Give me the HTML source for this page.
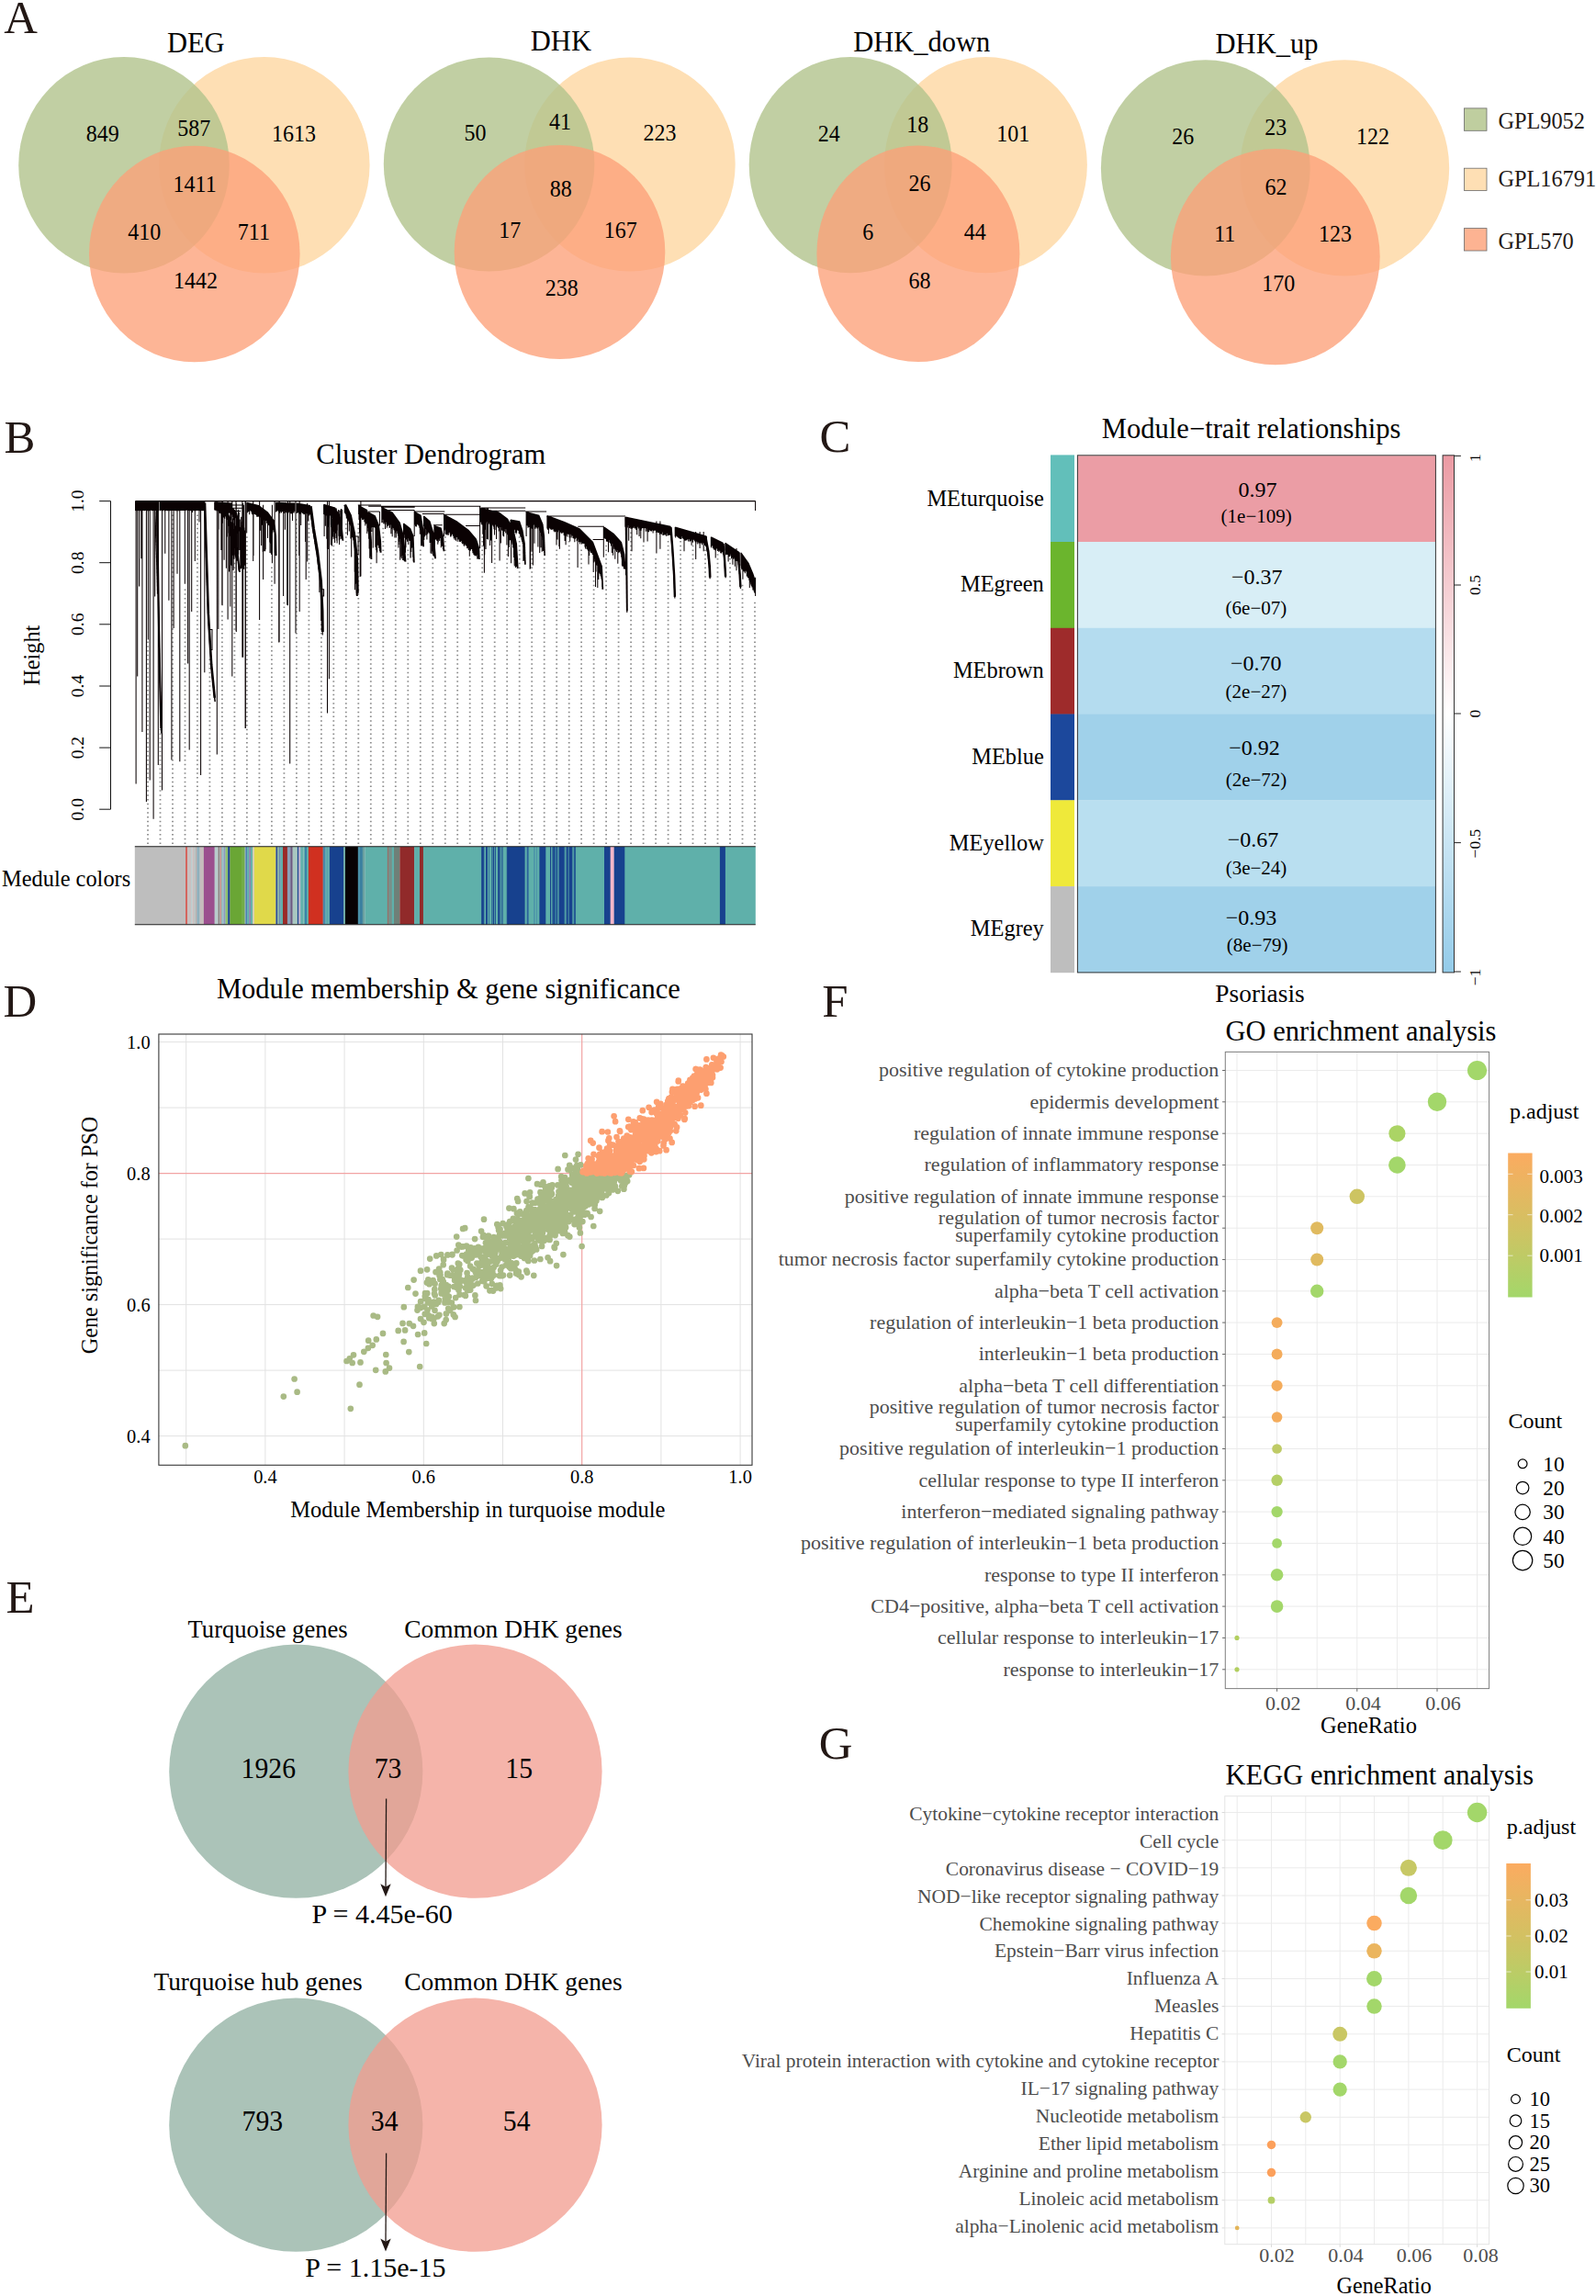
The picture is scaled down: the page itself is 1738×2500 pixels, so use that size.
<!DOCTYPE html>
<html><head><meta charset="utf-8"><title>Figure</title>
<style>
html,body{margin:0;padding:0;background:#fff}
svg{display:block}
text{font-family:"Liberation Serif",serif;white-space:pre}
</style></head><body>
<svg width="1738" height="2500" viewBox="0 0 1738 2500">
<rect width="1738" height="2500" fill="#fff"/>
<!-- panelA -->
<ellipse cx="287.8" cy="179.7" rx="114.8" ry="117.7" fill="#fedfb4"/>
<ellipse cx="135" cy="179.7" rx="114.8" ry="117.7" fill="#b2c38c" fill-opacity="0.8"/>
<ellipse cx="211.8" cy="276.5" rx="114.8" ry="117.7" fill="#fca078" fill-opacity="0.78"/>
<ellipse cx="685.9" cy="179" rx="114.8" ry="116.6" fill="#fedfb4"/>
<ellipse cx="532.6" cy="179" rx="114.8" ry="116.6" fill="#b2c38c" fill-opacity="0.8"/>
<ellipse cx="609.5" cy="274.5" rx="114.8" ry="116.6" fill="#fca078" fill-opacity="0.78"/>
<ellipse cx="1073.4" cy="179.6" rx="110.5" ry="117.7" fill="#fedfb4"/>
<ellipse cx="926.2" cy="179.6" rx="110.5" ry="117.7" fill="#b2c38c" fill-opacity="0.8"/>
<ellipse cx="999.9" cy="276.3" rx="110.5" ry="117.7" fill="#fca078" fill-opacity="0.78"/>
<ellipse cx="1464.3" cy="182.9" rx="113.9" ry="117.7" fill="#fedfb4"/>
<ellipse cx="1312.8" cy="182.9" rx="113.9" ry="117.7" fill="#b2c38c" fill-opacity="0.8"/>
<ellipse cx="1388.8" cy="279.6" rx="113.9" ry="117.7" fill="#fca078" fill-opacity="0.78"/>
<text x="213.3" y="56.6" font-size="30.5" text-anchor="middle">DEG</text>
<text x="610.9" y="54.7" font-size="30.5" text-anchor="middle">DHK</text>
<text x="1003.8" y="56" font-size="30.5" text-anchor="middle">DHK_down</text>
<text x="1379.5" y="57.9" font-size="30.5" text-anchor="middle">DHK_up</text>
<text transform="translate(111.7 153.9) scale(1 1.08)" font-size="24" text-anchor="middle">849</text>
<text transform="translate(211.2 147.9) scale(1 1.08)" font-size="24" text-anchor="middle">587</text>
<text transform="translate(319.9 153.9) scale(1 1.08)" font-size="24" text-anchor="middle">1613</text>
<text transform="translate(212.1 208.7) scale(1 1.08)" font-size="24" text-anchor="middle">1411</text>
<text transform="translate(157.2 260.5) scale(1 1.08)" font-size="24" text-anchor="middle">410</text>
<text transform="translate(276.4 260.5) scale(1 1.08)" font-size="24" text-anchor="middle">711</text>
<text transform="translate(213 313.9) scale(1 1.08)" font-size="24" text-anchor="middle">1442</text>
<text transform="translate(517.4 153.2) scale(1 1.08)" font-size="24" text-anchor="middle">50</text>
<text transform="translate(609.9 140.8) scale(1 1.08)" font-size="24" text-anchor="middle">41</text>
<text transform="translate(718.4 153.2) scale(1 1.08)" font-size="24" text-anchor="middle">223</text>
<text transform="translate(610.8 213.7) scale(1 1.08)" font-size="24" text-anchor="middle">88</text>
<text transform="translate(555.3 259.2) scale(1 1.08)" font-size="24" text-anchor="middle">17</text>
<text transform="translate(675.7 259.2) scale(1 1.08)" font-size="24" text-anchor="middle">167</text>
<text transform="translate(611.8 322.4) scale(1 1.08)" font-size="24" text-anchor="middle">238</text>
<text transform="translate(902.8 153.9) scale(1 1.08)" font-size="24" text-anchor="middle">24</text>
<text transform="translate(999.2 144.2) scale(1 1.08)" font-size="24" text-anchor="middle">18</text>
<text transform="translate(1103.2 153.9) scale(1 1.08)" font-size="24" text-anchor="middle">101</text>
<text transform="translate(1001.6 208.4) scale(1 1.08)" font-size="24" text-anchor="middle">26</text>
<text transform="translate(945.3 260.5) scale(1 1.08)" font-size="24" text-anchor="middle">6</text>
<text transform="translate(1061.8 260.5) scale(1 1.08)" font-size="24" text-anchor="middle">44</text>
<text transform="translate(1001.6 313.9) scale(1 1.08)" font-size="24" text-anchor="middle">68</text>
<text transform="translate(1288.2 157.1) scale(1 1.08)" font-size="24" text-anchor="middle">26</text>
<text transform="translate(1389.3 147.4) scale(1 1.08)" font-size="24" text-anchor="middle">23</text>
<text transform="translate(1494.9 157.1) scale(1 1.08)" font-size="24" text-anchor="middle">122</text>
<text transform="translate(1389.6 211.8) scale(1 1.08)" font-size="24" text-anchor="middle">62</text>
<text transform="translate(1333.7 263.2) scale(1 1.08)" font-size="24" text-anchor="middle">11</text>
<text transform="translate(1454.1 263.2) scale(1 1.08)" font-size="24" text-anchor="middle">123</text>
<text transform="translate(1392.2 317.1) scale(1 1.08)" font-size="24" text-anchor="middle">170</text>
<rect x="1594.4" y="117.9" width="24.6" height="24.4" fill="#bfce9f" stroke="#6b6b6b" stroke-width="0.8"/>
<text x="1631.4" y="140.1" font-size="24.3" fill="#231815">GPL9052</text>
<rect x="1594.4" y="183.2" width="24.6" height="24.4" fill="#fedfb4" stroke="#6b6b6b" stroke-width="0.8"/>
<text x="1631.4" y="202.6" font-size="24.3" fill="#231815">GPL16791</text>
<rect x="1594.4" y="248.6" width="24.6" height="24.4" fill="#fdb392" stroke="#6b6b6b" stroke-width="0.8"/>
<text x="1631.4" y="270.7" font-size="24.3" fill="#231815">GPL570</text>
<text x="4.3" y="35.8" font-size="50.8" fill="#231815">A</text>
<!-- panelB -->
<path d="M161 698.53V921M174.5 793.73V921M188 560.49V921M201.5 641.41V921M214.9 560.49V921M228.4 717.57V921M241.9 665.21V921M255.4 612.85V921M268.9 584.29V921M282.4 679.49V921M295.9 617.61V921M309.4 655.69V921M322.9 565.25V921M336.4 570.01V921M349.9 679.49V921M363.3 593.81V921M376.8 570.01V921M390.3 570.01V921M403.8 612.85V921M417.3 574.77V921M430.8 589.05V921M444.3 598.57V921M457.8 598.57V921M471.3 608.09V921M484.8 584.29V921M498.2 593.81V921M511.7 608.09V921M525.2 584.29V921M538.7 589.05V921M552.2 598.57V921M565.7 584.29V921M579.2 603.33V921M592.7 608.09V921M606.2 598.57V921M619.7 589.05V921M633.1 598.57V921M646.6 627.13V921M660.1 593.81V921M673.6 617.61V921M687.1 579.53V921M700.6 593.81V921M714.1 608.09V921M727.6 589.05V921M741.1 589.05V921M754.5 593.81V921M768 598.57V921M781.5 603.33V921M795 608.09V921M808.5 636.65V921M822 655.69V921" stroke="#8a8a8a" stroke-width="1.8" stroke-dasharray="1.5 3.26" fill="none"/>
<path d="M147.5 545.6H822.6M822.6 545.6V555.9M147.5 545.6V556M147.5 545.6V556.1M148 545.6V556.2M148.5 545.6V556.2M149 545.6V555.6M149.5 545.6V556.3M150 545.6V556.3M150.5 545.6V556M151 545.6V556M151.5 545.6V555.6M152 545.6V555.8M152.5 545.6V556.2M153 545.6V556.2M153.5 545.6V556.1M154 545.6V555.6M154.5 545.6V555.8M155 545.6V556.3M155.5 545.6V555.8M156 545.6V556M156.5 545.6V555.8M157 545.6V556.1M157.5 545.6V556.3M158 545.6V555.9M158.5 545.6V555.7M159 545.6V555.8M159.5 545.6V555.6M160 545.6V555.9M160.5 545.6V556.2M161 545.6V555.9M161.5 545.6V556.1M162 545.6V556.3M162.5 545.6V556.2M163 545.6V555.6M163.5 545.6V555.9M164 545.6V555.6M164.5 545.6V555.8M165 545.6V555.8M165.5 545.6V556.3M166 545.6V555.9M166.5 545.6V556M167 545.6V555.7M167.5 545.6V556.2M168 545.6V555.7M168.5 545.6V555.7M169 545.6V556.1M169.5 545.6V555.9M170 545.6V556M170.5 545.6V555.9M171 545.6V555.7M171.5 545.6V556.1M172 545.6V555.7M172.5 545.6V556.3M173 545.6V555.9M147.5 545.6L173.1 545.6M174.5 545.6V556.1M175 545.6V556M175.5 545.6V555.7M176 545.6V555.6M176.5 545.6V556.2M177 545.6V556.2M177.5 545.6V556.1M178 545.6V555.7M178.5 545.6V555.7M179 545.6V555.8M179.5 545.6V556.4M180 545.6V556.3M180.5 545.6V556M181 545.6V556M181.5 545.6V555.9M182 545.6V555.9M182.5 545.6V556.3M183 545.6V556M183.5 545.6V555.7M184 545.6V556.2M184.5 545.6V555.9M185 545.6V556.2M185.5 545.6V556.1M186 545.6V555.9M186.5 545.6V555.8M187 545.6V556.2M187.5 545.6V555.8M188 545.6V556.1M188.5 545.6V555.6M189 545.6V555.8M189.5 545.6V556M190 545.6V556.1M190.5 545.6V555.9M191 545.6V556.2M191.5 545.6V555.9M192 545.6V556.3M192.5 545.6V556.3M193 545.6V556M193.5 545.6V555.7M194 545.6V556.3M194.5 545.6V556.1M195 545.6V556.2M195.5 545.6V556.2M196 545.6V556.1M196.5 545.6V556.1M197 545.6V556.1M197.5 545.6V555.6M198 545.6V555.9M198.5 545.6V555.8M199 545.6V556.1M199.5 545.6V556M200 545.6V555.7M200.5 545.6V555.9M201 545.6V555.8M201.5 545.6V556M202 545.6V556.1M202.5 545.6V555.8M203 545.6V555.6M203.5 545.6V555.8M204 545.6V555.7M204.5 545.6V555.9M205 545.6V556.1M205.5 545.6V556M206 545.6V556M206.5 545.6V556.2M207 545.6V556.2M207.5 545.6V555.9M208 545.6V556.1M208.5 545.6V556.3M209 545.6V556.1M209.5 545.6V558.1M210 545.6V556M210.5 545.6V555.7M211 545.6V556.3M211.5 545.6V555.9M212 545.6V555.8M212.5 545.6V555.9M213 545.6V556.3M213.5 545.6V555.8M214 545.6V556M214.5 545.6V555.9M215 545.6V556M215.5 545.6V556M216 545.6V556.1M216.5 545.6V555.8M217 545.6V568.4M217.5 545.6V555.8M218 545.6V556.2M218.5 545.6V555.8M219 545.6V556.3M219.5 545.6V556.1M220 545.6V556.1M220.5 545.6V556.2M221 545.6V556.2M221.5 545.6V556M222 545.6V555.8M222.5 545.6V556M174.5 545.6L222.8 545.6M148.1 545.6V853.6M149.7 545.6V736.4M153.8 545.6V608.2M154.9 545.6V797.1M159.4 545.6V872.9M163.2 545.6V849.5M167.1 545.6V891.7M168.7 545.6V649.6M172.3 545.6V832.9M176.5 545.6V860.5M183.9 545.6V653.7M186.9 545.6V827.4M189.1 545.6V684M195.8 545.6V829.3M204.6 545.6V722.6M206.2 545.6V816.4M208.7 545.6V666.1M218.6 545.6V844M222.8 545.6V732.3M236.3 545.6V821.4M242.1 545.6V659.2M252.8 545.6V736.4M257 545.6V686.8M263.9 545.6V715.8M267.4 545.6V793M282.6 545.6V674.4M304.1 545.6V699.2M313.5 545.6V659.2M315.7 545.6V831.6M322 545.6V689.6M326.2 545.6V666.1M356.5 545.6V776.4M358.4 545.6V739.2M392.9 545.6V627.5M151.6 545.6V638.6M161.3 545.6V696.5M179.8 545.6V602.7M193 545.6V624.8M201.3 545.6V635.8M212.3 545.6V611M248.1 545.6V674.4M275.7 545.6V611M299.1 545.6V635.8M170.7 547.6L172.6 657.9L174.2 740.6L175.6 798.5M170.7 547.6V551.7M170.7 548.3V551.5M170.7 549V553.4M170.7 549.7V553.9M170.7 550.4V554.5M170.7 551.1V555.5M170.7 551.8V556.1M170.8 552.5V556.8M170.8 553.2V557.2M170.8 553.9V558.1M170.8 554.6V558.3M170.8 555.3V558.7M170.8 556V560.3M170.8 556.7V561M170.8 557.4V560.3M170.8 558.1V562.7M170.9 558.8V563.1M170.9 559.5V564M170.9 560.2V563.5M170.9 560.9V564.8M170.9 561.6V565.5M170.9 562.3V565.8M170.9 563V566.9M170.9 563.7V566.8M171 564.4V568.3M171 565.1V568.6M171 565.8V568.9M171 566.5V571M171 567.2V570.5M171 567.9V572.1M171 568.6V571.9M171 569.3V572.5M171.1 570V573M171.1 570.8V573.8M171.1 571.5V575.8M171.1 572.2V576.4M171.1 572.9V575.8M171.1 573.6V577.6M171.1 574.3V578.8M171.1 575V578M171.2 575.7V578.9M171.2 576.4V579.8M171.2 577.1V581.4M171.2 577.8V581.4M171.2 578.5V582.3M171.2 579.2V582.7M171.2 579.9V583M171.2 580.6V584.3M171.3 581.3V584.9M171.3 582V585.6M171.3 582.7V585.8M171.3 583.4V586.9M171.3 584.1V587.4M171.3 584.8V588.1M171.3 585.5V588.4M171.3 586.2V590.7M171.4 586.9V590.6M171.4 587.6V591.6M171.4 588.3V592.4M171.4 589V591.9M171.4 589.7V593.2M171.4 590.4V593.8M171.4 591.1V595.2M171.4 591.8V595.1M171.5 592.5V596.5M171.5 593.2V596M171.5 593.9V597.5M171.5 594.6V599.2M171.5 595.3V598.3M171.5 596V599.7M171.5 596.7V600M171.5 597.4V600.4M171.5 598.1V601.5M171.6 598.8V603.4M171.6 599.6V603.1M171.6 600.3V603.6M171.6 601V605.4M171.6 601.7V604.8M171.6 602.4V606M171.6 603.1V607M171.6 603.8V607.1M171.7 604.5V607.7M171.7 605.2V608.1M171.7 605.9V609.2M171.7 606.6V609.8M171.7 607.3V611.1M171.7 608V612M171.7 608.7V612M171.7 609.4V612.9M171.8 610.1V613.9M171.8 610.8V615M171.8 611.5V615.8M171.8 612.2V616.3M171.8 612.9V617.2M171.8 613.6V616.5M171.8 614.3V618.3M171.8 615V619.2M171.9 615.7V618.6M171.9 616.4V620.8M171.9 617.1V620.3M171.9 617.8V621.2M171.9 618.5V622.8M171.9 619.2V623M171.9 619.9V623.5M171.9 620.6V623.6M172 621.3V625M172 622V626.2M172 622.7V627.3M172 623.4V627.7M172 624.1V628.7M172 624.8V628.5M172 625.5V628.7M172 626.2V630.1M172.1 626.9V630.2M172.1 627.6V632.2M172.1 628.4V632.3M172.1 629.1V633.4M172.1 629.8V632.9M172.1 630.5V634.9M172.1 631.2V634.5M172.1 631.9V635.8M172.2 632.6V635.4M172.2 633.3V636.4M172.2 634V636.8M172.2 634.7V638.3M172.2 635.4V639.9M172.2 636.1V640.1M172.2 636.8V641M172.2 637.5V641.5M172.3 638.2V641.1M172.3 638.9V642.7M172.3 639.6V642.9M172.3 640.3V644.4M172.3 641V645M172.3 641.7V645.7M172.3 642.4V646.3M172.3 643.1V647.5M172.3 643.8V647.6M172.4 644.5V648M172.4 645.2V649.6M172.4 645.9V649.4M172.4 646.6V650.4M172.4 647.3V651.7M172.4 648V651.3M172.4 648.7V651.8M172.4 649.4V652.6M172.5 650.1V654.4M172.5 650.8V654.4M172.5 651.5V656M172.5 652.2V656.1M172.5 652.9V655.8M172.5 653.6V657.5M172.5 654.3V658.2M172.5 655V659.2M172.6 655.7V660M172.6 656.5V660.8M172.6 657.2V660.4M172.6 657.9V661.5M172.6 658.6V661.6M172.6 659.3V663.2M172.6 660V664.1M172.7 660.7V664.7M172.7 661.4V665.3M172.7 662.1V665M172.7 662.8V666.2M172.7 663.5V667.6M172.7 664.2V667.9M172.7 664.9V668.7M172.7 665.6V669.3M172.8 666.3V669.2M172.8 667V670.3M172.8 667.7V671.1M172.8 668.4V671.9M172.8 669.1V673.1M172.8 669.8V673.1M172.8 670.5V674.2M172.9 671.2V674.4M172.9 671.9V675.2M172.9 672.6V677.1M172.9 673.3V677.8M172.9 674V678.2M172.9 674.7V678.1M172.9 675.4V679M173 676.1V679M173 676.8V680.4M173 677.5V680.8M173 678.2V681.9M173 678.9V683.1M173 679.6V684M173 680.3V683.2M173.1 681V684.5M173.1 681.7V686.1M173.1 682.4V686.5M173.1 683.1V687.3M173.1 683.8V688.4M173.1 684.5V687.8M173.1 685.2V689.2M173.2 685.9V689.5M173.2 686.6V691M173.2 687.3V690.1M173.2 688V691.9M173.2 688.7V693.2M173.2 689.4V692.5M173.2 690.1V694.3M173.3 690.8V693.9M173.3 691.5V695.6M173.3 692.2V696.2M173.3 692.9V696.6M173.3 693.6V696.8M173.3 694.3V698.1M173.3 695V698.7M173.4 695.7V699.9M173.4 696.4V700.3M173.4 697.1V700.8M173.4 697.8V701.2M173.4 698.5V702.1M173.4 699.2V702.7M173.4 699.9V704.4M173.4 700.6V704M173.5 701.3V704.3M173.5 702V705.8M173.5 702.7V706.1M173.5 703.4V706.5M173.5 704.1V707.9M173.5 704.8V707.7M173.5 705.5V708.6M173.6 706.2V709.5M173.6 706.9V710.2M173.6 707.6V711.1M173.6 708.3V711.6M173.6 709V713.4M173.6 709.7V712.6M173.6 710.4V713.2M173.7 711.1V714.8M173.7 711.8V715.7M173.7 712.5V716.4M173.7 713.2V717.7M173.7 713.9V718M173.7 714.6V718.3M173.7 715.3V719.4M173.8 716V720.4M173.8 716.7V720M173.8 717.4V721.6M173.8 718.1V721.8M173.8 718.8V722.1M173.8 719.5V722.5M173.8 720.2V723.8M173.9 720.9V724.1M173.9 721.6V725.7M173.9 722.3V726.8M173.9 723V726.7M173.9 723.7V727.5M173.9 724.4V728.7M173.9 725.1V728.1M174 725.8V730.2M174 726.5V730.5M174 727.2V731.4M174 728V731.9M174 728.7V731.5M174 729.4V733.3M174 730.1V733.6M174.1 730.8V733.7M174.1 731.5V735.8M174.1 732.2V735.3M174.1 732.9V737.3M174.1 733.6V737.1M174.1 734.3V738.1M174.1 735V738.7M174.2 735.7V739.3M174.2 736.4V739.4M174.2 737.1V741.6M174.2 737.8V741.1M174.2 738.5V742M174.2 739.2V743.6M174.2 739.9V744.3M174.2 740.6V744.3M174.3 741.3V745.8M174.3 742V746.4M174.3 742.7V746M174.3 743.4V747M174.3 744.1V747.1M174.3 744.8V748.9M174.4 745.5V748.6M174.4 746.2V749.8M174.4 746.9V750M174.4 747.6V751.5M174.4 748.3V751.2M174.5 749V753.2M174.5 749.7V753.7M174.5 750.5V754.9M174.5 751.2V755.5M174.5 751.9V755.4M174.5 752.6V756.6M174.6 753.3V756.1M174.6 754V758.3M174.6 754.7V759M174.6 755.4V759.5M174.6 756.1V760M174.6 756.8V760.5M174.7 757.5V761.7M174.7 758.2V762M174.7 758.9V762.1M174.7 759.6V762.9M174.7 760.3V763.8M174.7 761V764.3M174.8 761.8V765.6M174.8 762.5V766M174.8 763.2V766.6M174.8 763.9V767.5M174.8 764.6V767.8M174.8 765.3V768.2M174.9 766V769M174.9 766.7V770.9M174.9 767.4V770.2M174.9 768.1V772M174.9 768.8V772.9M174.9 769.5V772.4M175 770.2V773.4M175 770.9V773.9M175 771.6V774.8M175 772.3V775.7M175 773V776.1M175 773.8V777.8M175.1 774.5V778.1M175.1 775.2V778.8M175.1 775.9V780.2M175.1 776.6V780.9M175.1 777.3V780.8M175.1 778V782.4M175.2 778.7V781.8M175.2 779.4V783.4M175.2 780.1V783.9M175.2 780.8V783.8M175.2 781.5V784.6M175.2 782.2V785.3M175.3 782.9V785.7M175.3 783.6V787.9M175.3 784.3V787.3M175.3 785.1V788M175.3 785.8V789.4M175.3 786.5V790.9M175.4 787.2V790.3M175.4 787.9V792.2M175.4 788.6V792.9M175.4 789.3V792.5M175.4 790V793M175.4 790.7V794.1M175.5 791.4V794.8M175.5 792.1V795.8M175.5 792.8V797.3M175.5 793.5V797.2M175.5 794.2V797.3M175.5 794.9V797.9M175.6 795.6V798.5M175.6 796.3V798.5M175.6 797.1V798.5M175.6 797.8V798.5M168.7 547.6L170.4 602.7L171.5 646.8M168.7 547.6V550.1M168.8 548.4V551.7M168.8 549.2V551.7M168.8 550V552.8M168.8 550.8V554.1M168.9 551.6V554.6M168.9 552.4V555.1M168.9 553.2V556.5M168.9 554.1V557M169 554.9V557.6M169 555.7V557.9M169 556.5V558.7M169 557.3V559.8M169.1 558.1V560.8M169.1 558.9V562M169.1 559.7V563M169.1 560.5V562.9M169.1 561.4V564.3M169.2 562.2V564.8M169.2 563V566.3M169.2 563.8V567.2M169.2 564.6V567.7M169.3 565.4V567.7M169.3 566.2V568.9M169.3 567V569.7M169.3 567.8V570.3M169.4 568.7V571.6M169.4 569.5V572.3M169.4 570.3V573.4M169.4 571.1V574M169.5 571.9V574.1M169.5 572.7V575.5M169.5 573.5V577M169.5 574.3V577M169.6 575.1V577.5M169.6 576V578.4M169.6 576.8V580.2M169.6 577.6V580.8M169.7 578.4V580.7M169.7 579.2V581.5M169.7 580V582.1M169.7 580.8V584.1M169.8 581.6V585M169.8 582.4V585.3M169.8 583.3V585.7M169.8 584.1V586.3M169.9 584.9V588.3M169.9 585.7V588.8M169.9 586.5V589.1M169.9 587.3V590.6M170 588.1V590.4M170 588.9V591.3M170 589.7V592.1M170 590.5V593.4M170 591.4V593.7M170.1 592.2V595.1M170.1 593V595.7M170.1 593.8V596.8M170.1 594.6V597.3M170.2 595.4V598.5M170.2 596.2V599M170.2 597V599.9M170.2 597.8V600.4M170.3 598.7V601.6M170.3 599.5V602.2M170.3 600.3V602.5M170.3 601.1V603.9M170.4 601.9V604.4M170.4 602.7V606M170.4 603.5V606.6M170.4 604.3V606.7M170.4 605.1V607.8M170.5 605.9V608.7M170.5 606.7V609.8M170.5 607.5V610.7M170.5 608.3V610.5M170.5 609.1V611.7M170.6 609.9V612.9M170.6 610.7V614.1M170.6 611.5V614.6M170.6 612.3V615.3M170.6 613.1V615.5M170.7 613.9V617M170.7 614.7V618.1M170.7 615.5V619M170.7 616.3V619.7M170.7 617.2V620.1M170.8 618V621.2M170.8 618.8V621.7M170.8 619.6V622.7M170.8 620.4V623M170.8 621.2V624.3M170.9 622V624.8M170.9 622.8V626M170.9 623.6V626.3M170.9 624.4V627.2M171 625.2V627.7M171 626V628.3M171 626.8V629.3M171 627.6V630.6M171 628.4V631.1M171.1 629.2V631.8M171.1 630V632.3M171.1 630.8V634.2M171.1 631.6V634.1M171.1 632.4V634.6M171.2 633.2V635.5M171.2 634V636.7M171.2 634.8V638.1M171.2 635.6V637.8M171.2 636.4V638.5M171.3 637.2V640.3M171.3 638V640.1M171.3 638.8V642.1M171.3 639.6V643M171.3 640.4V642.6M171.4 641.2V643.9M171.4 642V644.8M171.4 642.8V645.2M171.4 643.6V646M171.4 644.4V646.8M171.5 645.2V646.8M171.5 646V646.8M222.8 547.6L224.7 611L226.6 668.9L230.2 724L234.4 764M222.8 547.6V551.2M222.8 548.2V551.7M222.8 548.8V552.1M222.8 549.4V553.7M222.8 550V553.2M222.9 550.6V555.1M222.9 551.2V556M222.9 551.8V555.4M222.9 552.4V555.9M222.9 553V558M223 553.6V557M223 554.2V558.3M223 554.8V560M223 555.4V560.3M223 556V559.3M223 556.6V561.6M223.1 557.2V561.1M223.1 557.8V561.4M223.1 558.4V562.1M223.1 559V563.4M223.1 559.6V562.9M223.2 560.3V563.8M223.2 560.9V565.3M223.2 561.5V565.5M223.2 562.1V565.4M223.2 562.7V567.7M223.3 563.3V567M223.3 563.9V567.4M223.3 564.5V567.7M223.3 565.1V569.5M223.3 565.7V569.5M223.3 566.3V570.4M223.4 566.9V572M223.4 567.5V572.5M223.4 568.1V572.9M223.4 568.7V572.7M223.4 569.3V573.9M223.5 569.9V573.1M223.5 570.5V574.4M223.5 571.1V576.1M223.5 571.7V576.9M223.5 572.3V576.8M223.5 572.9V577.3M223.6 573.5V578.4M223.6 574.1V578.8M223.6 574.7V578.6M223.6 575.4V579.5M223.6 576V579.6M223.7 576.6V580.9M223.7 577.2V581.6M223.7 577.8V581.9M223.7 578.4V582.3M223.7 579V582.4M223.7 579.6V584.2M223.8 580.2V584.5M223.8 580.8V585.4M223.8 581.4V586.2M223.8 582V585.9M223.8 582.6V586.2M223.9 583.2V586.9M223.9 583.8V588.6M223.9 584.4V588M223.9 585V589.3M223.9 585.6V589.9M224 586.2V590.6M224 586.8V591.2M224 587.4V592M224 588V591.5M224 588.6V593.1M224 589.2V593.1M224.1 589.8V594.4M224.1 590.5V593.7M224.1 591.1V596M224.1 591.7V595.9M224.1 592.3V596.8M224.2 592.9V596.7M224.2 593.5V598M224.2 594.1V597.5M224.2 594.7V598.8M224.2 595.3V598.9M224.2 595.9V599.4M224.3 596.5V601M224.3 597.1V602.1M224.3 597.7V602.1M224.3 598.3V601.8M224.3 598.9V602.2M224.4 599.5V603.2M224.4 600.1V604.4M224.4 600.7V605M224.4 601.3V605.6M224.4 601.9V606.7M224.4 602.5V607.4M224.5 603.1V608.1M224.5 603.7V608.3M224.5 604.3V609M224.5 604.9V608.6M224.5 605.5V609.6M224.6 606.2V611.3M224.6 606.8V611.4M224.6 607.4V611.9M224.6 608V611.5M224.6 608.6V612.6M224.6 609.2V614.2M224.7 609.8V613.1M224.7 610.4V614.3M224.7 611V615.5M224.7 611.6V615.1M224.7 612.2V615.7M224.8 612.8V616.5M224.8 613.4V616.8M224.8 614V618.2M224.8 614.6V618.3M224.8 615.2V620.2M224.9 615.8V619.9M224.9 616.4V620.7M224.9 617V620.9M224.9 617.6V621.6M224.9 618.2V622.2M225 618.8V622M225 619.4V624.5M225 620V624.4M225 620.6V624.7M225 621.2V625.5M225.1 621.8V626.3M225.1 622.4V627.6M225.1 623V626.3M225.1 623.6V628.5M225.1 624.3V627.6M225.2 624.9V628.3M225.2 625.5V628.9M225.2 626.1V630.9M225.2 626.7V631.3M225.2 627.3V631.3M225.3 627.9V632.9M225.3 628.5V632.9M225.3 629.1V633.4M225.3 629.7V633.3M225.3 630.3V634.3M225.4 630.9V634.6M225.4 631.5V635M225.4 632.1V636.6M225.4 632.7V637.1M225.4 633.3V637.6M225.5 633.9V638.1M225.5 634.5V639.3M225.5 635.1V638.7M225.5 635.7V639.5M225.5 636.3V640.7M225.6 636.9V641.2M225.6 637.5V641.2M225.6 638.1V641.6M225.6 638.7V642.9M225.6 639.3V642.8M225.7 639.9V643.4M225.7 640.5V644.1M225.7 641.1V644.7M225.7 641.7V646.9M225.7 642.3V646.8M225.8 642.9V647.5M225.8 643.6V648.7M225.8 644.2V647.4M225.8 644.8V649.5M225.8 645.4V649.8M225.9 646V649.3M225.9 646.6V651.2M225.9 647.2V650.5M225.9 647.8V651.9M226 648.4V653.1M226 649V653.1M226 649.6V653.4M226 650.2V655M226 650.8V655.6M226.1 651.4V656.4M226.1 652V655.9M226.1 652.6V657.5M226.1 653.2V656.9M226.1 653.8V657.3M226.2 654.4V658M226.2 655V659.5M226.2 655.6V659.9M226.2 656.2V660.4M226.2 656.8V660.5M226.3 657.4V661.3M226.3 658V662.8M226.3 658.6V662.4M226.3 659.2V662.6M226.3 659.8V663.8M226.4 660.4V665.3M226.4 661V665.2M226.4 661.6V665.6M226.4 662.2V666.6M226.4 662.9V667.9M226.5 663.5V668.1M226.5 664.1V668.1M226.5 664.7V669.2M226.5 665.3V668.7M226.5 665.9V669.1M226.6 666.5V670.5M226.6 667.1V670.4M226.6 667.7V672.3M226.6 668.3V672.5M226.6 668.9V672.1M226.7 669.5V672.8M226.7 670.1V674.3M226.8 670.7V674.1M226.8 671.3V674.7M226.8 671.9V675.6M226.9 672.5V676.2M226.9 673.1V676.5M226.9 673.7V678.8M227 674.3V678.3M227 674.9V679.2M227.1 675.5V679.6M227.1 676.1V679.7M227.1 676.7V681.4M227.2 677.3V681.7M227.2 677.9V681.5M227.3 678.5V682.7M227.3 679.1V684.2M227.3 679.7V683.7M227.4 680.3V684.4M227.4 680.9V685.6M227.5 681.5V685M227.5 682.1V685.6M227.5 682.7V687.5M227.6 683.3V686.5M227.6 683.9V688.5M227.6 684.5V687.9M227.7 685.1V689.8M227.7 685.7V688.8M227.8 686.3V689.6M227.8 686.9V691.4M227.8 687.5V692.4M227.9 688.1V692M227.9 688.7V692.1M228 689.3V693.1M228 689.9V694.5M228 690.5V693.7M228.1 691.1V695.8M228.1 691.7V695M228.2 692.3V696.4M228.2 692.9V696.9M228.2 693.5V697.3M228.3 694.1V699.2M228.3 694.7V698.7M228.3 695.3V699.4M228.4 695.9V699M228.4 696.5V701.3M228.5 697.1V702.1M228.5 697.7V701.3M228.5 698.3V702.8M228.6 698.9V702.4M228.6 699.5V703.6M228.7 700.1V704.6M228.7 700.6V704.8M228.7 701.2V704.9M228.8 701.8V706M228.8 702.4V707.5M228.9 703V707.1M228.9 703.6V707.6M228.9 704.2V708.8M229 704.8V708.7M229 705.4V709.6M229 706V709.5M229.1 706.6V711.4M229.1 707.2V712.4M229.2 707.8V711.3M229.2 708.4V712.2M229.2 709V712.6M229.3 709.6V714.2M229.3 710.2V714.5M229.4 710.8V715.6M229.4 711.4V715.3M229.4 712V715.2M229.5 712.6V717.3M229.5 713.2V717.8M229.6 713.8V718.3M229.6 714.4V718.5M229.6 715V719.9M229.7 715.6V720.5M229.7 716.2V720.3M229.8 716.8V721.8M229.8 717.4V721.5M229.8 718V721.9M229.9 718.6V723M229.9 719.2V723.2M229.9 719.8V723.8M230 720.4V724.7M230 721V725.9M230.1 721.6V725.8M230.1 722.2V726.2M230.1 722.8V726.6M230.2 723.4V728M230.2 724V728.4M230.3 724.6V728.1M230.3 725.2V729.1M230.4 725.8V729M230.5 726.4V731.3M230.5 727.1V730.8M230.6 727.7V730.9M230.7 728.3V732.3M230.7 728.9V732.2M230.8 729.5V733.2M230.8 730.1V735M230.9 730.7V734M231 731.3V735.6M231 731.9V735.2M231.1 732.5V736.4M231.2 733.1V737.7M231.2 733.7V738.4M231.3 734.3V738.8M231.3 734.9V738.8M231.4 735.5V739.5M231.5 736.1V740.5M231.5 736.7V741.9M231.6 737.4V741.2M231.7 738V741.3M231.7 738.6V742M231.8 739.2V742.7M231.8 739.8V743.3M231.9 740.4V745.1M232 741V744.4M232 741.6V746.5M232.1 742.2V746.8M232.2 742.8V746.6M232.2 743.4V748.1M232.3 744V748.2M232.3 744.6V748.9M232.4 745.2V749.1M232.5 745.8V750M232.5 746.4V750M232.6 747V750.8M232.7 747.6V751M232.7 748.3V751.8M232.8 748.9V753.5M232.8 749.5V753.3M232.9 750.1V754.6M233 750.7V755.5M233 751.3V755M233.1 751.9V756.9M233.2 752.5V757.6M233.2 753.1V758M233.3 753.7V758.6M233.4 754.3V758.6M233.4 754.9V759M233.5 755.5V759M233.5 756.1V760.9M233.6 756.7V761.5M233.7 757.3V762.3M233.7 757.9V762.2M233.8 758.6V763.3M233.9 759.2V764M233.9 759.8V764M234 760.4V764M234 761V764M234.1 761.6V764M234.2 762.2V764M234.2 762.8V764M234.3 763.4V764M227.7 685.4L231 685.4L231 707.5L229.4 707.5M233.7 546.7V555.3M234.2 546.8V555.7M234.8 546.8V555.7M235.3 546.8V555.3M235.9 546.9V556.5M236.4 546.9V555.1M237 547V556.1M237.5 547V556.5M238.1 547V556.2M238.6 547.1V555.7M239.2 547.1V555.3M239.7 547.2V558.4M240.3 547.2V556.8M240.8 547.2V557.8M241.4 547.3V557.7M241.9 547.3V556.7M242.5 547.3V556M243 547.4V556.2M243.6 547.4V558.4M244.1 547.5V609.7M244.7 547.5V557.1M245.2 547.5V555.9M245.8 547.6V558.4M246.3 547.6V555.9M246.9 547.6V558.3M247.4 547.7V555.9M248 547.7V558.9M248.5 547.8V556.1M249.1 547.8V558.7M249.6 547.8V558.3M250.2 547.9V558.8M250.7 547.9V558.5M251.3 548V558.7M251.8 548V557.4M252.4 548V559.5M233.7 546.7L252.4 548M237.8 548L247.5 556.2L254 575.7L258.9 600.2L261.4 623M237.8 548V557.2M238.1 548.4V576.5M238.5 548.7V557.1M238.9 549V558.8M239.3 549.3V557.6M239.7 549.7V558.1M240.1 550V559.2M240.5 550.3V558.6M240.9 550.6V598.9M241.3 551V559.8M241.7 551.3V558.8M242.1 551.6V561.4M242.4 551.9V569.8M242.8 552.3V563.4M243.2 552.6V562.9M243.6 552.9V563.4M244 553.2V561.3M244.4 553.6V560.9M244.8 553.9V564.7M245.2 554.2V562.3M245.6 554.6V562.4M246 554.9V562.5M246.4 555.2V618.7M246.7 555.5V562.6M247.1 555.9V563.7M247.5 556.2V566M247.7 556.7V584.6M247.8 557.1V566.8M248 557.6V567.8M248.2 558.1V567.6M248.3 558.6V580.5M248.5 559V568.5M248.6 559.5V568.8M248.8 560V567.1M249 560.5V568.5M249.1 560.9V571.4M249.3 561.4V572.7M249.4 561.9V572.6M249.6 562.4V622.6M249.8 562.9V572.4M249.9 563.3V571.8M250.1 563.8V572.5M250.2 564.3V574.3M250.4 564.8V572.8M250.5 565.2V583.8M250.7 565.7V574M250.9 566.2V618.6M251 566.7V577.9M251.2 567.1V580M251.3 567.6V615.3M251.5 568.1V591.3M251.7 568.6V576.4M251.8 569.1V576.7M252 569.5V580.6M252.1 570V577.2M252.3 570.5V616M252.5 571V580.8M252.6 571.4V581.6M252.8 571.9V585.5M252.9 572.4V581.2M253.1 572.9V581.5M253.2 573.3V584M253.4 573.8V582.8M253.6 574.3V582.1M253.7 574.8V585.2M253.9 575.3V584.1M254 575.7V584.2M254.1 576.2V621M254.2 576.7V586.5M254.3 577.2V588.2M254.4 577.7V592.9M254.5 578.2V588.7M254.6 578.7V586.5M254.7 579.2V588.8M254.8 579.7V587.1M254.9 580.2V587.5M255 580.7V590.7M255.1 581.2V588.5M255.2 581.7V591M255.3 582.2V591.9M255.4 582.7V593.9M255.5 583.2V594.5M255.6 583.7V592.5M255.7 584.2V595.3M255.8 584.7V595.1M255.9 585.2V596.5M256 585.7V595.2M256.1 586.2V597.5M256.2 586.7V596M256.3 587.2V598.1M256.4 587.7V596M256.5 588.2V599.6M256.6 588.7V598.2M256.7 589.2V607.8M256.8 589.7V597.5M256.9 590.2V598M257 590.7V599.5M257.1 591.2V602.4M257.2 591.7V602.5M257.3 592.2V600.6M257.4 592.7V603.7M257.5 593.2V601.2M257.6 593.7V603.2M257.7 594.2V605M257.8 594.7V605.3M257.9 595.2V602.8M258 595.7V605.6M258.1 596.2V604.8M258.2 596.7V607M258.3 597.2V607M258.4 597.7V609M258.5 598.2V608.4M258.6 598.7V607M258.7 599.2V607.9M258.8 599.7V610.5M258.9 600.2V609.9M259 600.7V608.3M259 601.2V608.8M259.1 601.7V611.6M259.1 602.2V612.7M259.2 602.7V612.6M259.3 603.2V614.6M259.3 603.7V610.8M259.4 604.2V613.3M259.4 604.7V611.7M259.5 605.2V612.7M259.5 605.7V616M259.6 606.3V616M259.6 606.8V618M259.7 607.3V618.6M259.7 607.8V620.4M259.8 608.3V617.4M259.9 608.8V619.6M259.9 609.3V617M260 609.8V616.9M260 610.3V618.8M260.1 610.8V620.6M260.1 611.3V621.9M260.2 611.8V621.2M260.2 612.3V622M260.3 612.8V619.1M260.3 613.3V621.8M260.4 613.9V620.4M260.5 614.4V620.6M260.5 614.9V621.9M260.6 615.4V622.9M260.6 615.9V623M260.7 616.4V623M260.7 616.9V623M260.8 617.4V623M260.8 617.9V623M260.9 618.4V623M260.9 618.9V623M261 619.4V623M261 619.9V623M261.1 620.4V623M261.2 620.9V623M261.2 621.5V623M261.3 622V623M261.3 622.5V623M250.8 550.5L257.3 557.8L262.2 577.4L264.6 603.4L265.8 619.7M250.8 550.5V558.2M251.1 550.9V557.3M251.5 551.2V566.8M251.8 551.6V560.6M252.2 552V559.9M252.5 552.4V560.3M252.8 552.8V559.4M253.2 553.2V561.2M253.5 553.6V562.2M253.9 554V563M254.2 554.3V619.1M254.6 554.7V564.4M254.9 555.1V562.6M255.2 555.5V566.2M255.6 555.9V564.2M255.9 556.3V564.2M256.3 556.7V563.3M256.6 557V563.7M257 557.4V564M257.3 557.8V566.2M257.4 558.3V567.8M257.5 558.8V568.2M257.7 559.3V586.4M257.8 559.8V567.6M257.9 560.3V568.9M258 560.7V589.3M258.2 561.2V571.8M258.3 561.7V571M258.4 562.2V571.1M258.5 562.7V580.7M258.6 563.2V571.6M258.8 563.7V572.3M258.9 564.2V573.5M259 564.7V571.2M259.1 565.1V572.1M259.3 565.6V580.3M259.4 566.1V575.3M259.5 566.6V576.3M259.6 567.1V603.8M259.7 567.6V575.1M259.9 568.1V577.9M260 568.6V575.6M260.1 569.1V576.8M260.2 569.5V578.5M260.4 570V576.3M260.5 570.5V576.8M260.6 571V577.6M260.7 571.5V578.5M260.8 572V598.9M261 572.5V578.8M261.1 573V581.5M261.2 573.4V580.5M261.3 573.9V583.7M261.5 574.4V584.3M261.6 574.9V584.9M261.7 575.4V585M261.8 575.9V619.4M261.9 576.4V585.9M262.1 576.9V583.5M262.2 577.4V584M262.2 577.9V586.9M262.3 578.4V586.2M262.3 578.9V588.9M262.4 579.4V585.7M262.4 579.9V586.6M262.5 580.4V588.3M262.5 580.9V588.9M262.6 581.4V590.9M262.6 581.9V589M262.7 582.4V619M262.7 582.9V592.5M262.8 583.4V593.4M262.8 583.9V592.5M262.8 584.4V590.8M262.9 584.9V591.3M262.9 585.4V592.2M263 585.9V594.1M263 586.4V593.6M263.1 586.9V593.9M263.1 587.4V595.3M263.2 587.9V597.7M263.2 588.4V618.3M263.3 588.9V597M263.3 589.4V595.8M263.4 589.9V597.9M263.4 590.4V599.2M263.5 590.9V599.6M263.5 591.4V598.6M263.6 591.9V600M263.6 592.4V599.5M263.6 592.9V600.5M263.7 593.4V599.9M263.7 593.9V600.6M263.8 594.4V600.9M263.8 594.9V606.8M263.9 595.4V605.2M263.9 595.9V604.1M264 596.4V603.1M264 596.9V606M264.1 597.4V604.9M264.1 597.9V607.1M264.2 598.4V605.6M264.2 598.9V606.3M264.3 599.4V605.9M264.3 599.9V618.7M264.4 600.4V608.9M264.4 600.9V608.4M264.4 601.4V618.3M264.5 601.9V611.6M264.5 602.4V609.2M264.6 602.9V609.2M264.6 603.4V611.2M264.7 603.9V613.9M264.7 604.4V611.3M264.7 605V614.3M264.8 605.5V612.2M264.8 606V613.5M264.8 606.5V616.1M264.9 607V615.9M264.9 607.5V614.5M265 608V616.5M265 608.5V617.7M265 609V618.8M265.1 609.5V616.5M265.1 610V619.6M265.1 610.6V619.7M265.2 611.1V618.6M265.2 611.6V619.7M265.2 612.1V619.7M265.3 612.6V619.7M265.3 613.1V619.7M265.3 613.6V619.7M265.4 614.1V619.7M265.4 614.6V619.7M265.5 615.1V619.7M265.5 615.6V619.7M265.5 616.2V619.7M265.6 616.7V619.7M265.6 617.2V619.7M265.6 617.7V619.7M265.7 618.2V619.7M265.7 618.7V619.7M265.7 619.2V619.7M259.4 554.7V578.6M255.5 565.1V594.8M262.7 568.7V592.4M256.4 572.4V606.3M255.7 558.2V590.9M256.1 576.7V604.6M253.7 564.6V604.8M264 573.7V615.9M266.2 577.6V615.8M259.3 580.8V599.8M265.5 583.3V619.8M265.7 574.5V606.5M254 575.8V588.4M264.9 578.2V616.5M262.7 562.7V592.1M259.2 580.3V609.5M258.1 575.6V610.8M261.2 565.4V596.9M260.3 557.7V576.3M254.4 569.6V583M263 571.9V586.1M262.1 577.6V588.4M262.6 568.5V607.5M265.1 572.7V608.4M255 576.2V608.8M262.8 567.8V585.2M250.8 550H265.4M252.4 553.2H265.4M254 556.5H262.2M265.4 550V603.4M237.8 548V684.9M241.8 548V658.8M250.8 548V660.4M257.3 548V688.1M264.6 548V715.8M267.1 545.6V793M268.7 547.2L281.7 550.5L291.5 557.8L298.8 567.6L300.5 583.9L301 605.1M268.7 547.2V580.6M269.2 547.3V558.1M269.7 547.5V558.2M270.2 547.6V556.2M270.7 547.7V557M271.2 547.8V556.6M271.7 548V560.2M272.2 548.1V556.1M272.7 548.2V556.3M273.2 548.3V556.2M273.7 548.5V557M274.2 548.6V558.8M274.7 548.7V560.2M275.2 548.8V557M275.7 549V558.7M276.2 549.1V559.2M276.7 549.2V557.3M277.2 549.3V560.1M277.7 549.5V559.8M278.2 549.6V560.3M278.7 549.7V560.7M279.2 549.9V559.1M279.7 550V562.5M280.2 550.1V563M280.7 550.2V558.4M281.2 550.4V561.9M281.7 550.5V562.5M282.1 550.8V563.1M282.6 551.1V559M283 551.4V562.3M283.4 551.7V563.6M283.8 552V577.8M284.2 552.3V563.1M284.6 552.6V593.9M285 552.9V563.4M285.4 553.2V571.7M285.8 553.5V563.7M286.2 553.8V600.8M286.6 554.1V563.4M287 554.4V564.7M287.4 554.8V566.6M287.8 555.1V600.2M288.3 555.4V588.1M288.7 555.7V600.2M289.1 556V598.3M289.5 556.3V565.8M289.9 556.6V567M290.3 556.9V566.7M290.7 557.2V569.7M291.1 557.5V567.9M291.5 557.8V586.1M291.8 558.2V568.4M292.1 558.6V569.3M292.4 559V571.7M292.7 559.4V571.2M293 559.8V569.3M293.3 560.3V572.5M293.7 560.7V590.6M294 561.1V602M294.3 561.5V602.2M294.6 561.9V573.9M294.9 562.3V573.1M295.2 562.7V591.7M295.5 563.1V603.8M295.8 563.5V602.2M296.1 563.9V572.1M296.4 564.3V584.3M296.7 564.7V580.6M297 565.1V577.3M297.3 565.5V577.3M297.6 566V577.1M297.9 566.4V574.3M298.2 566.8V579.3M298.5 567.2V577.6M298.8 567.6V579.4M298.9 568.1V578.7M298.9 568.6V577.3M299 569.1V601.7M299.1 569.6V579.9M299.1 570.1V600.9M299.2 570.6V579.3M299.2 571.1V581M299.3 571.7V581.7M299.3 572.2V581.3M299.4 572.7V586M299.4 573.2V603.4M299.5 573.7V585.2M299.5 574.2V600.2M299.6 574.7V587M299.6 575.2V587.1M299.7 575.7V587.1M299.7 576.2V588.2M299.8 576.7V588.1M299.8 577.3V588.6M299.9 577.8V587M299.9 578.3V596.9M300 578.8V586.5M300 579.3V591.6M300.1 579.8V588.5M300.1 580.3V589.3M300.2 580.8V588.6M300.2 581.3V605.1M300.3 581.8V605.1M300.3 582.3V592.4M300.4 582.9V590.7M300.4 583.4V598.3M300.5 583.9V592.9M300.5 584.4V593.9M300.5 584.9V597.1M300.5 585.4V594.9M300.5 585.9V594.6M300.5 586.4V598.6M300.5 586.9V596.2M300.6 587.4V600M300.6 587.9V598.4M300.6 588.4V597M300.6 588.9V604.9M300.6 589.4V598.4M300.6 589.9V599.1M300.6 590.4V605.1M300.6 590.9V605.1M300.7 591.4V604.1M300.7 591.9V602.6M300.7 592.4V600.3M300.7 593V601.2M300.7 593.5V602.1M300.7 594V604.2M300.7 594.5V603.5M300.7 595V603.8M300.7 595.5V605.1M300.8 596V605.1M300.8 596.5V605.1M300.8 597V605.1M300.8 597.5V605.1M300.8 598V605.1M300.8 598.5V605.1M300.8 599V605.1M300.8 599.5V605.1M300.8 600V605.1M300.9 600.5V605.1M300.9 601V605.1M300.9 601.5V605.1M300.9 602V605.1M300.9 602.5V605.1M300.9 603V605.1M300.9 603.5V605.1M300.9 604V605.1M301 604.6V605.1M276 549.7V605.1M282.6 549.7V675.1M286.6 549.7V631.1M296.4 549.7V613.2M300.5 547.2V557.5M301 547.2V556.9M301.6 547.3V556.5M302.1 547.3V555.8M302.7 547.3V555.8M303.2 547.3V557.1M303.8 547.4V556.5M304.3 547.4V556.2M304.9 547.4V558.8M305.4 547.4V556.9M306 547.4V557.2M306.5 547.5V558.6M307.1 547.5V557.2M307.6 547.5V557.1M308.2 547.5V556.2M308.7 547.5V556.4M309.3 547.6V556.7M309.8 547.6V558.9M310.4 547.6V576.8M310.9 547.6V557.7M311.5 547.7V555.8M312 547.7V558.5M312.6 547.7V558M300.5 547.2L312.7 547.7M313.5 547.7V557M314.1 547.7V558.4M314.6 547.8V557.6M315.2 547.8V556.8M315.7 547.8V555.9M316.3 547.8V556.9M316.8 547.8V559.2M317.4 547.9V558.4M317.9 547.9V559.4M318.5 547.9V567M319 547.9V558.4M319.6 548V556M320.1 548V558.4M320.7 548V556.7M313.5 547.7L321.2 548M303.7 548V699.5M308.6 548V649M312.7 548V658.8M325.7 548V605.1M334.7 548V611.6M323.3 548V559.1M323.8 548.1V558.4M324.4 548.2V557M324.9 548.3V558.3M325.5 548.4V558.9M326 548.5V558.7M326.6 548.6V559M327.1 548.7V559.8M327.7 548.8V572M328.2 548.9V557.9M328.8 549V557.1M329.3 549V559.1M329.9 549.1V558.7M330.4 549.2V559.6M331 549.3V560.3M331.5 549.4V560.1M332.1 549.5V558.5M332.6 549.6V590.1M333.2 549.7V630.9M333.7 549.8V559.3M334.3 549.9V559.2M334.8 550V560.3M335.4 550.1V558.9M335.9 550.1V567.6M336.5 550.2V561.4M337 550.3V558.8M337.6 550.4V560.5M323.3 548L337.9 550.5M337.9 551.3L341.2 575.7L345.3 600.2L349.4 632.8L351 665.3L351.3 691.4M337.9 551.3V557.7M338 551.9V558.2M338.1 552.5V558.5M338.2 553.1V557.7M338.3 553.7V559.7M338.3 554.3V558.8M338.4 554.9V561.7M338.5 555.5V560.4M338.6 556.1V562.2M338.7 556.7V561.9M338.7 557.3V563.1M338.8 557.8V562.4M338.9 558.4V563.3M339 559V565.6M339.1 559.6V564.9M339.1 560.2V565.3M339.2 560.8V565.2M339.3 561.4V566.7M339.4 562V566.6M339.5 562.6V567.5M339.5 563.2V569.3M339.6 563.8V569.2M339.7 564.4V570.6M339.8 565V570.5M339.9 565.6V570M339.9 566.2V570.7M340 566.8V573.5M340.1 567.4V572.1M340.2 568V572.8M340.3 568.6V575.3M340.3 569.2V576M340.4 569.8V576.5M340.5 570.4V577M340.6 571V575.3M340.6 571.6V577.7M340.7 572.2V577.5M340.8 572.7V579.4M340.9 573.3V579.2M341 573.9V578.5M341 574.5V579.7M341.1 575.1V580.5M341.2 575.7V581.5M341.3 576.3V581.3M341.4 576.9V581.4M341.5 577.5V584.3M341.6 578.1V584M341.7 578.7V583.1M341.8 579.3V584.3M341.9 579.9V585.1M342 580.5V586M342.1 581.1V586.8M342.2 581.7V586.6M342.3 582.3V587M342.4 582.9V588.3M342.5 583.5V590.1M342.6 584.1V589.5M342.7 584.7V589M342.8 585.3V589.6M342.9 585.9V592.3M343 586.5V591M343.1 587.1V592.5M343.2 587.7V593.2M343.3 588.2V594.5M343.4 588.8V594.9M343.5 589.4V594.5M343.6 590V596.6M343.7 590.6V596M343.8 591.2V596.2M343.9 591.8V597.7M344 592.4V598.8M344.1 593V598.5M344.2 593.6V599.8M344.3 594.2V600.6M344.4 594.8V599.2M344.5 595.4V601.5M344.6 596V602.1M344.7 596.6V601.6M344.8 597.2V602.5M344.9 597.8V603.6M345 598.4V602.9M345.1 599V604.5M345.2 599.6V604.4M345.3 600.2V605.8M345.4 600.8V607M345.4 601.4V607.1M345.5 602V606.2M345.6 602.6V607.5M345.7 603.2V607.7M345.7 603.8V609.9M345.8 604.4V609.5M345.9 605V610.9M346 605.6V611.2M346 606.2V611.9M346.1 606.8V613M346.2 607.4V614M346.3 608V612.3M346.3 608.6V614.9M346.4 609.2V613.5M346.5 609.8V616.6M346.6 610.4V616.5M346.6 611V616.9M346.7 611.6V618.3M346.8 612.2V618.5M346.9 612.8V619.4M346.9 613.4V617.8M347 614V619.9M347.1 614.6V619.6M347.2 615.3V620.7M347.2 615.9V620.2M347.3 616.5V621.5M347.4 617.1V623.2M347.5 617.7V623.1M347.5 618.3V623.9M347.6 618.9V624.3M347.7 619.5V626.3M347.8 620.1V624.3M347.8 620.7V627.3M347.9 621.3V644.9M348 621.9V629.7M348.1 622.5V628.3M348.1 623.1V628.8M348.2 623.7V630.2M348.3 624.3V629.9M348.4 624.9V631.3M348.4 625.5V632M348.5 626.1V632.5M348.6 626.7V631M348.7 627.3V633.3M348.7 627.9V632.4M348.8 628.5V635.4M348.9 629.1V635.1M349 629.7V634.2M349 630.3V635.7M349.1 630.9V635.4M349.2 631.5V638.9M349.3 632.1V637.7M349.4 632.8V639.4M349.4 633.4V638.6M349.4 634V640.5M349.4 634.6V639M349.5 635.2V641.1M349.5 635.8V640.5M349.5 636.4V643.2M349.6 637V643.8M349.6 637.6V642.6M349.6 638.2V645.1M349.7 638.8V643.2M349.7 639.4V646.1M349.7 640V644.5M349.7 640.6V646.9M349.8 641.2V675.9M349.8 641.8V647.6M349.8 642.4V647.5M349.9 643V649.2M349.9 643.6V649.3M349.9 644.2V650.6M350 644.8V650.7M350 645.4V650.8M350 646V651.7M350 646.6V650.9M350.1 647.2V653.2M350.1 647.8V654.4M350.1 648.4V653.5M350.2 649V654.4M350.2 649.6V655.7M350.2 650.3V654.9M350.3 650.9V656.3M350.3 651.5V657.6M350.3 652.1V658.4M350.3 652.7V658M350.4 653.3V659M350.4 653.9V658.4M350.4 654.5V660.3M350.5 655.1V660.8M350.5 655.7V661.7M350.5 656.3V672.1M350.6 656.9V663M350.6 657.5V663.4M350.6 658.1V662.6M350.6 658.7V663M350.7 659.3V665.2M350.7 659.9V664.5M350.7 660.5V666M350.8 661.1V665.4M350.8 661.7V666.4M350.8 662.3V667M350.9 662.9V667.8M350.9 663.5V667.9M350.9 664.1V670.9M351 664.7V669.7M351 665.3V671.7M351 665.9V671.6M351 666.5V672.8M351 667.2V674M351 667.8V674M351 668.4V674.6M351 669V674.8M351 669.6V674M351 670.2V675.1M351 670.8V675.5M351.1 671.4V678.2M351.1 672V676.7M351.1 672.6V679.1M351.1 673.2V679.7M351.1 673.8V679.6M351.1 674.4V679.9M351.1 675V679.4M351.1 675.6V680.7M351.1 676.2V681M351.1 676.9V682.9M351.1 677.5V681.9M351.1 678.1V683.3M351.1 678.7V683.5M351.2 679.3V684.2M351.2 679.9V685.3M351.2 680.5V684.7M351.2 681.1V691.4M351.2 681.7V688.3M351.2 682.3V688.6M351.2 682.9V688.7M351.2 683.5V689.3M351.2 684.1V690.6M351.2 684.7V691.3M351.2 685.3V689.8M351.2 685.9V691.3M351.2 686.6V691.4M351.3 687.2V691.4M351.3 687.8V691.4M351.3 688.4V691.4M351.3 689V691.4M351.3 689.6V691.4M351.3 690.2V691.4M351.3 690.8V691.4M349.8 641.7L352.6 641.7L352.6 649L350.7 649M352.6 549.3L364.8 552.9L371.3 564.3L373.8 588.8M352.6 549.3V560M353.1 549.5V584M353.6 549.6V560.5M354.1 549.8V558.5M354.6 549.9V560.9M355.1 550.1V561.6M355.5 550.2V560.8M356 550.3V578.4M356.5 550.5V583.8M357 550.6V562.7M357.5 550.8V573.8M358 550.9V562.4M358.5 551.1V564.5M359 551.2V559.5M359.5 551.3V561.6M359.9 551.5V559.5M360.4 551.6V559.4M360.9 551.8V564.3M361.4 551.9V562.7M361.9 552.1V584.6M362.4 552.2V563M362.9 552.3V584.6M363.4 552.5V561M363.9 552.6V561.3M364.3 552.8V564.5M364.8 552.9V563.6M365.1 553.4V565M365.3 553.8V561.5M365.6 554.2V580.8M365.8 554.7V565.4M366.1 555.1V585.9M366.3 555.6V567.1M366.6 556V568M366.8 556.4V566.3M367.1 556.9V568M367.3 557.3V577.2M367.6 557.7V571.4M367.8 558.2V567.4M368.1 558.6V569.8M368.3 559.1V567.9M368.6 559.5V568M368.8 559.9V571.4M369.1 560.4V572.6M369.3 560.8V588M369.6 561.3V584.7M369.8 561.7V570M370.1 562.1V587.5M370.3 562.6V584M370.6 563V574.1M370.8 563.4V574.9M371.1 563.9V572.3M371.3 564.3V574M371.4 564.8V574.5M371.4 565.3V577.7M371.5 565.8V574.6M371.5 566.3V578.3M371.6 566.8V586.7M371.6 567.3V579.6M371.7 567.8V578.2M371.7 568.3V585.8M371.8 568.8V581.1M371.8 569.3V577.3M371.9 569.8V581.2M371.9 570.3V582M372 570.8V579.1M372 571.3V583.6M372.1 571.8V585.2M372.1 572.3V580.5M372.2 572.8V582.8M372.2 573.3V586.4M372.3 573.8V584.3M372.3 574.3V586.1M372.4 574.8V586.7M372.4 575.3V585M372.5 575.8V587.5M372.5 576.3V587.1M372.6 576.8V585.6M372.6 577.3V586.7M372.7 577.8V587M372.7 578.3V584.6M372.8 578.8V584.5M372.8 579.3V585.8M372.9 579.8V584.2M372.9 580.3V587.8M373 580.8V588.8M373 581.3V588.8M373.1 581.8V588.8M373.1 582.3V588.8M373.2 582.8V588.8M373.2 583.3V588.8M373.3 583.8V588.8M373.3 584.3V588.8M373.4 584.8V588.8M373.4 585.3V588.8M373.5 585.8V588.8M373.5 586.3V588.8M373.6 586.8V588.8M373.6 587.3V588.8M373.7 587.8V588.8M373.7 588.3V588.8M369.3 559.5V588.3M367.2 556.9V577.9M364.3 560.4V585.6M361.5 564.8V594.4M356.7 563.7V577.3M360.6 563.7V574.1M372.5 554.8V584.1M364.6 560V591.1M360.2 566.9V593.5M363.1 559V587.3M354.4 555V572.8M367.1 566.4V591.4M356.4 565.3V597.4M368.9 556.1V583.8M355.8 560.7V586.8M363.9 556.6V579.1M365.4 558.6V575M357.2 566.9V598M356 554.3V576.7M369.5 560.8V593.1M360.1 557.9V571.6M368.6 555.1V570.4M371.4 554V571.4M370.2 555.5V570.3M370.8 566.1V583.9M366.8 561.3V588.7M366.3 553.5V579M356.5 564.8V576.3M357.1 559.5V588M360.4 557.6V570.9M375.4 549.7L381.1 561.1L385.2 580.6L388.5 608.3L389.3 649M375.4 549.7V558.6M375.7 550.2V556.4M376 550.7V557.4M376.2 551.3V559.5M376.5 551.8V559.9M376.8 552.4V559.4M377 552.9V561.7M377.3 553.5V564.6M377.6 554V563.3M377.9 554.6V561.9M378.1 555.1V564.7M378.4 555.6V582.7M378.7 556.2V564.6M378.9 556.7V566.6M379.2 557.3V565.2M379.5 557.8V566.1M379.8 558.4V567.9M380 558.9V565.9M380.3 559.4V578.4M380.6 560V569.3M380.8 560.5V567.7M381.1 561.1V570.9M381.2 561.7V567.9M381.4 562.3V569.2M381.5 562.8V570.1M381.6 563.4V571.9M381.7 564V572.8M381.9 564.6V586.6M382 565.2V571.6M382.1 565.8V575.6M382.2 566.4V576.2M382.4 567V574.6M382.5 567.6V576.4M382.6 568.2V576.4M382.7 568.8V606.4M382.8 569.4V578.8M383 570V580M383.1 570.5V585M383.2 571.1V579.3M383.3 571.7V579.8M383.5 572.3V580.1M383.6 572.9V579.9M383.7 573.5V581.5M383.8 574.1V582.5M384 574.7V583.4M384.1 575.3V584.9M384.2 575.9V584.9M384.3 576.5V585.8M384.5 577.1V583.9M384.6 577.7V585.8M384.7 578.2V584.8M384.8 578.8V588.2M384.9 579.4V586.7M385.1 580V586.3M385.2 580.6V588.4M385.3 581.2V590.7M385.3 581.8V591.7M385.4 582.4V592.5M385.5 583V590.2M385.5 583.6V593.7M385.6 584.2V592.8M385.7 584.8V592M385.8 585.4V594.6M385.8 586V595.3M385.9 586.6V596M386 587.2V593.6M386 587.8V596.8M386.1 588.4V599.7M386.2 589V622.7M386.3 589.6V599.6M386.3 590.3V596.7M386.4 590.9V599M386.5 591.5V599M386.5 592.1V642.3M386.6 592.7V598.8M386.7 593.3V607.3M386.8 593.9V603.7M386.8 594.5V601.9M386.9 595.1V620.3M387 595.7V602.3M387 596.3V602.5M387.1 596.9V603.7M387.2 597.5V606.9M387.2 598.1V635.6M387.3 598.7V606.3M387.4 599.3V606.5M387.5 599.9V606.3M387.5 600.5V620.8M387.6 601.1V609.8M387.7 601.7V611.1M387.7 602.3V621.7M387.8 602.9V612.5M387.9 603.5V622.2M388 604.1V612.8M388 604.7V614.3M388.1 605.3V614.2M388.2 605.9V648.4M388.2 606.5V615.5M388.3 607.1V614.1M388.4 607.7V623.1M388.5 608.3V617.1M388.5 608.9V616M388.5 609.5V619.4M388.5 610.1V617.1M388.5 610.7V618.1M388.5 611.4V649M388.5 612V618.2M388.5 612.6V649M388.5 613.2V619.9M388.6 613.8V621.8M388.6 614.4V624.2M388.6 615V631.2M388.6 615.6V624.4M388.6 616.2V623.4M388.6 616.8V625.6M388.6 617.4V625.4M388.6 618V627.1M388.7 618.6V627.1M388.7 619.3V627.6M388.7 619.9V626.9M388.7 620.5V630.1M388.7 621.1V627.3M388.7 621.7V630.3M388.7 622.3V629.7M388.7 622.9V632.7M388.8 623.5V633.5M388.8 624.1V630.5M388.8 624.7V632.8M388.8 625.3V632M388.8 625.9V634.8M388.8 626.6V634.1M388.8 627.2V635.4M388.8 627.8V634.6M388.9 628.4V637.1M388.9 629V638.8M388.9 629.6V637.1M388.9 630.2V638.1M388.9 630.8V640.8M388.9 631.4V640.7M388.9 632V640.7M388.9 632.6V642.4M389 633.2V642M389 633.8V643.3M389 634.5V644M389 635.1V646.1M389 635.7V642.6M389 636.3V643.9M389 636.9V643.8M389 637.5V647.5M389 638.1V649M389.1 638.7V645.2M389.1 639.3V646.9M389.1 639.9V649M389.1 640.5V649M389.1 641.1V647.5M389.1 641.7V649M389.1 642.4V649M389.1 643V649M389.2 643.6V649M389.2 644.2V649M389.2 644.8V649M389.2 645.4V649M389.2 646V649M389.2 646.6V649M389.2 647.2V649M389.2 647.8V649M389.3 648.4V649M386 583.9L390.1 583.9L390.1 603.4L388 603.4M392.2 550V627.9M389.8 550H415M390.6 550.5L399.6 555.4L402.8 567.6L404.4 588.8L404.8 609.1M390.6 550.5V560.1M391 550.7V565.9M391.5 551V580.6M391.9 551.2V590M392.4 551.5V565.9M392.8 551.7V566.6M393.3 551.9V563.7M393.7 552.2V562.2M394.2 552.4V564.6M394.6 552.7V566M395.1 552.9V566.1M395.5 553.2V565.8M396 553.4V565.2M396.4 553.7V563.4M396.9 553.9V568.5M397.3 554.1V564.5M397.8 554.4V572.5M398.2 554.6V568M398.7 554.9V570.5M399.1 555.1V565.9M399.6 555.4V569.8M399.7 555.9V568.9M399.8 556.3V580.9M399.9 556.8V572M400.1 557.3V569.5M400.2 557.8V568.3M400.3 558.3V578.8M400.5 558.8V573.2M400.6 559.3V570.7M400.7 559.8V570.5M400.9 560.3V572M401 560.7V572.5M401.1 561.2V571.4M401.2 561.7V574.9M401.4 562.2V574.9M401.5 562.7V582.4M401.6 563.2V586.7M401.8 563.7V576.5M401.9 564.2V577M402 564.7V576.9M402.2 565.1V577.3M402.3 565.6V579.3M402.4 566.1V580.3M402.5 566.6V580.1M402.7 567.1V607.7M402.8 567.6V582.4M402.8 568.1V581M402.9 568.6V583.3M402.9 569.1V581M403 569.6V584.6M403 570.1V584.9M403 570.6V581.2M403.1 571.1V585.8M403.1 571.6V589.4M403.2 572.1V586.8M403.2 572.6V587.7M403.2 573.1V582.9M403.3 573.6V586.9M403.3 574.1V588.1M403.4 574.6V585.3M403.4 575.1V584.9M403.4 575.7V589.7M403.5 576.2V587.9M403.5 576.7V605.5M403.5 577.2V605.5M403.6 577.7V593.7M403.6 578.2V588.9M403.7 578.7V588.4M403.7 579.2V588.7M403.7 579.7V596.7M403.8 580.2V594.5M403.8 580.7V592.5M403.9 581.2V608.7M403.9 581.7V597.2M403.9 582.2V597.4M404 582.7V606.7M404 583.2V592.9M404.1 583.7V599.1M404.1 584.2V593.8M404.1 584.7V609.1M404.2 585.2V602.3M404.2 585.7V609.1M404.2 586.2V600.4M404.3 586.7V601.9M404.3 587.3V599.2M404.4 587.8V599.3M404.4 588.3V609.1M404.4 588.8V609.1M404.4 589.3V604.1M404.5 589.8V602.8M404.5 590.3V605.9M404.5 590.8V603.9M404.5 591.3V602.6M404.5 591.8V606.3M404.5 592.3V606.9M404.5 592.8V608M404.5 593.3V602.8M404.5 593.9V605.7M404.5 594.4V607.7M404.5 594.9V609.1M404.5 595.4V607.3M404.6 595.9V609.1M404.6 596.4V609.1M404.6 596.9V608.9M404.6 597.4V609.1M404.6 597.9V609.1M404.6 598.4V609.1M404.6 598.9V609.1M404.6 599.5V609.1M404.6 600V609.1M404.6 600.5V609.1M404.6 601V609.1M404.6 601.5V609.1M404.6 602V609.1M404.7 602.5V609.1M404.7 603V609.1M404.7 603.5V609.1M404.7 604V609.1M404.7 604.5V609.1M404.7 605.1V609.1M404.7 605.6V609.1M404.7 606.1V609.1M404.7 606.6V609.1M404.7 607.1V609.1M404.7 607.6V609.1M404.7 608.1V609.1M404.8 608.6V609.1M401.2 557.8L408.5 561.9L412.6 572.5L414.5 588.8L415 601.8M401.2 557.8V567.4M401.6 558.1V570.5M402.1 558.3V597.4M402.6 558.6V570M403 558.8V597.4M403.5 559.1V580.7M403.9 559.3V574.4M404.4 559.6V573.5M404.8 559.8V578.9M405.3 560.1V571.7M405.8 560.4V573.9M406.2 560.6V596.5M406.7 560.9V570.5M407.1 561.1V574M407.6 561.4V571.1M408.1 561.6V574.8M408.5 561.9V574.6M408.7 562.4V572.9M408.9 562.8V595.8M409.1 563.3V577.8M409.3 563.8V577.2M409.4 564.3V589.3M409.6 564.8V599.1M409.8 565.3V579.6M410 565.7V599.2M410.2 566.2V585.6M410.4 566.7V581.8M410.5 567.2V581.4M410.7 567.7V601.6M410.9 568.1V582.8M411.1 568.6V583.3M411.3 569.1V582M411.5 569.6V581.4M411.7 570.1V583M411.8 570.5V593.7M412 571V582.5M412.2 571.5V582.4M412.4 572V582.1M412.6 572.5V585.8M412.6 573V596.7M412.7 573.5V587.4M412.8 574V584.3M412.8 574.5V587.6M412.9 575V588.8M413 575.5V590.3M413 576V591.7M413.1 576.5V596.2M413.1 577.1V590.6M413.2 577.6V590.1M413.3 578.1V587.8M413.3 578.6V594M413.4 579.1V590.6M413.4 579.6V593.8M413.5 580.1V600M413.6 580.6V594.4M413.6 581.1V593.7M413.7 581.6V597M413.7 582.1V592.5M413.8 582.7V593.1M413.9 583.2V593.6M413.9 583.7V597M414 584.2V601.5M414.1 584.7V595.1M414.1 585.2V597.9M414.2 585.7V595.8M414.2 586.2V601.5M414.3 586.7V601.8M414.4 587.2V599.8M414.4 587.7V601.8M414.5 588.3V599.4M414.5 588.8V601.8M414.6 589.3V599.7M414.6 589.8V601.8M414.6 590.3V601.8M414.6 590.8V601.8M414.6 591.3V601.8M414.7 591.8V601.8M414.7 592.3V601.8M414.7 592.8V601.8M414.7 593.3V601.8M414.7 593.8V601.8M414.7 594.3V601.8M414.8 594.8V601.8M414.8 595.3V601.8M414.8 595.8V601.8M414.8 596.3V601.8M414.8 596.8V601.8M414.9 597.3V601.8M414.9 597.8V601.8M414.9 598.3V601.8M414.9 598.8V601.8M414.9 599.3V601.8M415 599.8V601.8M415 600.3V601.8M415 600.8V601.8M415 601.3V601.8M401.2 557H413.4M413.4 557V572.5M410.1 567.6V613.2M401.2 551.3H523.4M415 552.1H451.7M415.8 552.6L427.2 557.8L435.4 569.2L439.5 583.9L441.9 611.6M415.8 552.6V569.2M416.3 552.8V569.1M416.8 553V564.5M417.2 553.2V565.7M417.7 553.4V569.7M418.1 553.6V570.8M418.6 553.8V568.9M419 554.1V569.2M419.5 554.3V576M419.9 554.5V568.8M420.4 554.7V566.1M420.9 554.9V571M421.3 555.1V574.7M421.8 555.3V567M422.2 555.5V572.9M422.7 555.7V570.3M423.1 555.9V571.8M423.6 556.1V568.8M424.1 556.3V574.9M424.5 556.6V574.2M425 556.8V571.6M425.4 557V570.6M425.9 557.2V581.3M426.3 557.4V570.8M426.8 557.6V576.1M427.2 557.8V584.3M427.5 558.2V574.6M427.8 558.6V574.5M428.1 559V573.8M428.4 559.4V575.3M428.7 559.8V573.4M429 560.3V576.9M429.3 560.7V577.6M429.6 561.1V575.9M429.9 561.5V585.6M430.2 561.9V575M430.4 562.3V578.6M430.7 562.7V580.4M431 563.1V574.9M431.3 563.5V585.5M431.6 563.9V578.3M431.9 564.3V577.7M432.2 564.7V578.4M432.5 565.1V576.6M432.8 565.5V581M433.1 566V577.6M433.4 566.4V583.3M433.6 566.8V582.5M433.9 567.2V596.4M434.2 567.6V593.1M434.5 568V589.8M434.8 568.4V583.6M435.1 568.8V586.7M435.4 569.2V585.6M435.5 569.7V586.8M435.7 570.2V609.7M435.8 570.7V587.4M435.9 571.2V587.3M436.1 571.7V586.8M436.2 572.1V587.5M436.3 572.6V586.5M436.5 573.1V589.5M436.6 573.6V585.4M436.8 574.1V592.4M436.9 574.6V606.6M437 575.1V587.1M437.2 575.6V588.2M437.3 576.1V608.3M437.4 576.5V606.5M437.6 577V592.1M437.7 577.5V595.5M437.8 578V589.8M438 578.5V604.7M438.1 579V594.9M438.2 579.5V593.4M438.4 580V596.1M438.5 580.5V600.5M438.7 580.9V610M438.8 581.4V597.9M438.9 581.9V605.9M439.1 582.4V596.2M439.2 582.9V597.4M439.3 583.4V600.7M439.5 583.9V598.8M439.5 584.4V602.8M439.6 584.9V597.7M439.6 585.4V599.3M439.6 585.9V609.7M439.7 586.4V604.8M439.7 586.9V606M439.8 587.4V603.9M439.8 587.9V603M439.9 588.4V607.8M439.9 588.9V609.4M440 589.4V605.7M440 589.9V602.2M440 590.4V609.6M440.1 590.9V606.9M440.1 591.4V607.7M440.2 591.9V607.7M440.2 592.4V607.4M440.3 592.9V607.4M440.3 593.4V606.4M440.4 593.9V609.3M440.4 594.5V611.3M440.4 595V604.8M440.5 595.5V604.9M440.5 596V609M440.6 596.5V609.7M440.6 597V610.2M440.7 597.5V607.8M440.7 598V607.5M440.8 598.5V607.7M440.8 599V606.3M440.8 599.5V605.5M440.9 600V606.6M440.9 600.5V606.1M441 601V611.5M441 601.5V605.6M441.1 602V607.4M441.1 602.5V611.6M441.2 603V611.6M441.2 603.5V611.6M441.2 604V611.6M441.3 604.5V611.6M441.3 605V611.6M441.4 605.5V611.6M441.4 606V611.6M441.5 606.5V611.6M441.5 607V611.6M441.6 607.5V611.6M441.6 608V611.6M441.6 608.6V611.6M441.7 609.1V611.6M441.7 609.6V611.6M441.8 610.1V611.6M441.8 610.6V611.6M441.9 611.1V611.6M439.5 570L446.8 575.7L450.1 583.9L451.2 612.4M439.5 570V610.3M439.9 570.3V584.7M440.3 570.7V585.8M440.7 571V581.7M441.1 571.3V582.2M441.5 571.6V601.8M441.9 571.9V596.3M442.3 572.2V582.9M442.7 572.6V587.4M443.1 572.9V587.4M443.5 573.2V589.8M443.9 573.5V585.4M444.4 573.8V586.2M444.8 574.1V593M445.2 574.5V584.8M445.6 574.8V587.7M446 575.1V589M446.4 575.4V586.5M446.8 575.7V586.6M447 576.2V607.5M447.2 576.7V607.5M447.4 577.2V601M447.6 577.6V592.7M447.8 578.1V600.9M447.9 578.6V591.8M448.1 579.1V597M448.3 579.6V594.4M448.5 580V591.9M448.7 580.5V595.7M448.9 581V596.3M449.1 581.5V591.4M449.3 582V596.1M449.5 582.4V595.3M449.7 582.9V606.7M449.9 583.4V593M450.1 583.9V597.5M450.1 584.4V595.6M450.1 584.9V596.4M450.1 585.4V604.6M450.1 585.9V611.2M450.2 586.4V597.1M450.2 586.9V609M450.2 587.4V598M450.2 587.9V599.2M450.2 588.4V609M450.3 588.9V602.5M450.3 589.4V599.8M450.3 589.9V605.1M450.3 590.4V601.2M450.3 590.9V606M450.4 591.4V602M450.4 591.9V601.9M450.4 592.4V607.1M450.4 592.9V612.4M450.4 593.4V604.8M450.5 593.9V605.2M450.5 594.4V604.8M450.5 594.9V612.4M450.5 595.4V610.5M450.5 595.9V612.4M450.6 596.4V610.4M450.6 596.9V610.3M450.6 597.4V612.2M450.6 597.9V610.9M450.6 598.4V609.4M450.7 598.9V612.4M450.7 599.4V609.3M450.7 599.9V612.4M450.7 600.4V612.4M450.7 600.9V612.4M450.8 601.4V612.4M450.8 601.9V612.4M450.8 602.4V612.4M450.8 602.9V612.4M450.8 603.4V612.4M450.9 603.9V612.4M450.9 604.4V612.4M450.9 604.9V612.4M450.9 605.4V612.4M450.9 605.9V612.4M451 606.4V612.4M451 606.9V612.4M451 607.4V612.4M451 607.9V612.4M451 608.4V612.4M451.1 608.9V612.4M451.1 609.4V612.4M451.1 609.9V612.4M451.1 610.4V612.4M451.1 610.9V612.4M451.2 611.4V612.4M451.2 611.9V612.4M420.7 555.4H451.2M451.2 555.4V583.9M451.7 557H484.3M451.7 557.5L458.2 561.1L460.6 575.7L461.5 595.3M451.7 557.5V567.4M452.2 557.7V571.5M452.6 558V573.2M453.1 558.3V569M453.5 558.5V573.4M454 558.8V569.6M454.5 559V570.8M454.9 559.3V571.5M455.4 559.5V571M455.9 559.8V572.5M456.3 560V571.7M456.8 560.3V574.8M457.3 560.6V581.7M457.7 560.8V573.4M458.2 561.1V575.6M458.3 561.6V573.7M458.4 562.1V577.2M458.5 562.6V577.5M458.5 563.1V593.9M458.6 563.6V592.7M458.7 564.1V594.4M458.8 564.6V576.6M458.9 565.1V577M459 565.6V589.4M459 566.1V576.9M459.1 566.6V594.6M459.2 567.1V581.1M459.3 567.6V582.1M459.4 568.1V582.8M459.5 568.7V583.9M459.5 569.2V580M459.6 569.7V580.4M459.7 570.2V584.3M459.8 570.7V583.9M459.9 571.2V591.7M460 571.7V583.6M460.1 572.2V585.9M460.1 572.7V583.2M460.2 573.2V594M460.3 573.7V588.6M460.4 574.2V590.1M460.5 574.7V593.6M460.6 575.2V584.8M460.6 575.7V587.6M460.7 576.2V595.3M460.7 576.7V591.5M460.7 577.2V595.3M460.7 577.7V595.3M460.7 578.2V593.6M460.8 578.7V595.3M460.8 579.2V591.2M460.8 579.7V591.8M460.8 580.2V595.3M460.9 580.7V595.3M460.9 581.2V593.5M460.9 581.7V595.3M460.9 582.2V595.3M460.9 582.7V595.3M461 583.2V595.3M461 583.8V595.3M461 584.3V593.8M461 584.8V595.3M461 585.3V595.3M461.1 585.8V595.3M461.1 586.3V595.3M461.1 586.8V595.3M461.1 587.3V595.3M461.1 587.8V595.3M461.2 588.3V595.3M461.2 588.8V595.3M461.2 589.3V595.3M461.2 589.8V595.3M461.3 590.3V595.3M461.3 590.8V595.3M461.3 591.3V595.3M461.3 591.8V595.3M461.3 592.3V595.3M461.4 592.8V595.3M461.4 593.3V595.3M461.4 593.8V595.3M461.4 594.3V595.3M461.4 594.8V595.3M461.5 561.9L468 567.6L472 580.6L474.5 608.3M461.5 561.9V572.9M461.8 562.2V588M462.2 562.6V576.8M462.6 562.9V584.2M463 563.2V573.7M463.4 563.6V575.9M463.8 563.9V582.8M464.1 564.2V575.6M464.5 564.6V577M464.9 564.9V587.5M465.3 565.2V575.8M465.7 565.6V581.5M466.1 565.9V578.5M466.4 566.2V578M466.8 566.6V579.8M467.2 566.9V580.5M467.6 567.2V578.5M468 567.6V581.9M468.1 568.1V591.1M468.3 568.5V585.4M468.4 569V581.4M468.6 569.5V585.1M468.7 570V584.2M468.9 570.5V582.3M469 571V602.5M469.2 571.4V582.4M469.3 571.9V587M469.5 572.4V590.7M469.6 572.9V587.4M469.8 573.4V589.9M469.9 573.9V586.2M470.1 574.3V587.7M470.2 574.8V603.2M470.4 575.3V590.7M470.5 575.8V592.3M470.7 576.3V600.6M470.8 576.8V588.9M471 577.2V594.2M471.1 577.7V591.8M471.3 578.2V594.4M471.4 578.7V594.4M471.6 579.2V602.3M471.7 579.7V604.9M471.9 580.1V592.9M472 580.6V595.4M472.1 581.1V593.2M472.1 581.6V598.4M472.2 582.1V594.3M472.2 582.6V593.8M472.3 583.1V595.7M472.3 583.6V597.2M472.4 584.1V605.7M472.4 584.6V601.3M472.4 585.1V599.1M472.5 585.7V597.2M472.5 586.2V600.5M472.6 586.7V599.9M472.6 587.2V602.9M472.7 587.7V603.6M472.7 588.2V598.8M472.8 588.7V604.9M472.8 589.2V602.6M472.8 589.7V601.3M472.9 590.2V601.3M472.9 590.7V605M473 591.2V602M473 591.7V603.4M473.1 592.2V603.2M473.1 592.7V604.7M473.2 593.2V606.4M473.2 593.7V606.2M473.2 594.2V605.8M473.3 594.7V605.7M473.3 595.2V606.1M473.4 595.7V603.8M473.4 596.2V602.4M473.5 596.7V601.8M473.5 597.2V606.1M473.6 597.7V603.5M473.6 598.2V606.5M473.6 598.7V608.2M473.7 599.2V608.3M473.7 599.8V608.3M473.8 600.3V608.3M473.8 600.8V608.3M473.9 601.3V608.3M473.9 601.8V608.3M474 602.3V608.3M474 602.8V608.3M474 603.3V608.3M474.1 603.8V608.3M474.1 604.3V608.3M474.2 604.8V608.3M474.2 605.3V608.3M474.3 605.8V608.3M474.3 606.3V608.3M474.4 606.8V608.3M474.4 607.3V608.3M474.4 607.8V608.3M472.9 572.5L480.2 574.9L482.6 583.9L483.8 600.2M472.9 572.5V600M473.4 572.6V595.6M473.8 572.8V587.8M474.3 573V587.3M474.8 573.1V585.1M475.3 573.3V587.8M475.8 573.4V589M476.3 573.6V585.4M476.8 573.8V592.8M477.3 573.9V590.5M477.8 574.1V584M478.2 574.3V587.4M478.7 574.4V589.1M479.2 574.6V584.6M479.7 574.8V586M480.2 574.9V591.2M480.3 575.4V596.2M480.5 575.9V587.8M480.6 576.4V588.5M480.7 576.9V591.6M480.9 577.4V592.8M481 577.9V592.9M481.1 578.4V594.5M481.3 578.9V594.4M481.4 579.4V590.7M481.6 579.9V594.8M481.7 580.4V594.3M481.8 580.9V592M482 581.4V594.2M482.1 581.9V592.7M482.2 582.4V592M482.4 582.9V597.8M482.5 583.4V596M482.6 583.9V598.2M482.7 584.4V598M482.7 584.9V594.9M482.7 585.4V598.1M482.8 585.9V596.2M482.8 586.4V597.4M482.9 586.9V597.4M482.9 587.4V597.4M482.9 587.9V598.4M483 588.5V596.9M483 589V600.2M483 589.5V600.2M483.1 590V600.2M483.1 590.5V600.2M483.1 591V600.2M483.2 591.5V600.2M483.2 592V600.2M483.2 592.5V600.2M483.3 593V600.2M483.3 593.5V600.2M483.4 594.1V600.2M483.4 594.6V600.2M483.4 595.1V600.2M483.5 595.6V600.2M483.5 596.1V600.2M483.5 596.6V600.2M483.6 597.1V600.2M483.6 597.6V600.2M483.6 598.1V600.2M483.7 598.6V600.2M483.7 599.1V600.2M483.7 599.7V600.2M459.8 559.4H483.5M472 571.7H481.8M483.5 559.4V583.9M484.3 560.3H522.6M484.3 560.7L497.3 567.6L510.3 577.4L518.5 587.1L521.7 596.9L522.2 609.1M484.3 560.7V576.1M484.7 561V577.5M485.2 561.2V581.5M485.6 561.4V582M486.1 561.7V577.6M486.5 561.9V581.8M487 562.2V582.8M487.4 562.4V581.5M487.9 562.6V577.7M488.3 562.9V582.7M488.8 563.1V580.1M489.2 563.3V578.2M489.7 563.6V579.4M490.1 563.8V581.4M490.6 564V584.5M491 564.3V584.4M491.5 564.5V583.2M491.9 564.8V578.7M492.4 565V581.8M492.8 565.2V580.4M493.3 565.5V583.7M493.7 565.7V583.5M494.2 565.9V586.3M494.6 566.2V581M495.1 566.4V587.8M495.5 566.6V581.6M496 566.9V585.5M496.4 567.1V588.7M496.9 567.3V583.1M497.3 567.6V585.1M497.7 567.9V582.4M498.1 568.2V589.8M498.5 568.5V586.1M498.9 568.8V587.5M499.3 569.1V587.3M499.7 569.4V585.7M500.2 569.7V589.9M500.6 570V588.9M501 570.3V583.7M501.4 570.6V590.1M501.8 570.9V588.1M502.2 571.2V589.1M502.6 571.6V585.3M503 571.9V591M503.4 572.2V592.2M503.8 572.5V591.4M504.2 572.8V589M504.6 573.1V591.9M505 573.4V593.8M505.4 573.7V594.8M505.9 574V593.2M506.3 574.3V592.3M506.7 574.6V590.6M507.1 574.9V594.2M507.5 575.2V592.6M507.9 575.5V594.3M508.3 575.8V594.6M508.7 576.1V597.1M509.1 576.4V597.2M509.5 576.7V591.1M509.9 577.1V595.7M510.3 577.4V599M510.7 577.8V595.1M511 578.1V592.8M511.3 578.5V605.8M511.6 578.9V600.1M512 579.3V599.9M512.3 579.7V599M512.6 580.1V598.2M512.9 580.5V596.6M513.3 580.9V594.4M513.6 581.3V598M513.9 581.7V597M514.2 582.1V598.1M514.6 582.4V600M514.9 582.8V602.2M515.2 583.2V599M515.5 583.6V599.2M515.9 584V604.1M516.2 584.4V602.6M516.5 584.8V601M516.9 585.2V605.3M517.2 585.6V602M517.5 586V601.2M517.8 586.4V604.7M518.2 586.7V605.2M518.5 587.1V605.4M518.6 587.6V603.4M518.8 588.1V602.2M519 588.6V602M519.1 589.1V604.3M519.3 589.6V603M519.5 590.1V601.6M519.6 590.6V601.5M519.8 591V608.8M519.9 591.5V608.7M520.1 592V604.1M520.3 592.5V600.9M520.4 593V608.1M520.6 593.5V608.6M520.8 594V605.2M520.9 594.5V606.4M521.1 595V603.7M521.3 595.4V602.8M521.4 595.9V601.9M521.6 596.4V609.1M521.7 596.9V609.1M521.8 597.4V609.1M521.8 597.9V609.1M521.8 598.4V609.1M521.8 598.9V609.1M521.8 599.5V609.1M521.9 600V609.1M521.9 600.5V609.1M521.9 601V609.1M521.9 601.5V609.1M521.9 602V609.1M522 602.5V609.1M522 603V609.1M522 603.5V609.1M522 604V609.1M522 604.5V609.1M522.1 605.1V609.1M522.1 605.6V609.1M522.1 606.1V609.1M522.1 606.6V609.1M522.1 607.1V609.1M522.2 607.6V609.1M522.2 608.1V609.1M522.2 608.6V609.1M507.1 572.5H522.6M522.6 551.3V596.9M523.4 552.9H572.2M523.4 553.4L542.9 557.8L552.7 565.1L559.2 577.4L562.5 592L564.1 618.9M523.4 553.4V568.4M523.9 553.5V566.3M524.3 553.6V570.4M524.8 553.7V571.6M525.3 553.8V569.4M525.8 554V581.8M526.3 554.1V567.3M526.8 554.2V566.9M527.3 554.3V568.2M527.8 554.4V567M528.3 554.5V576.7M528.7 554.6V570.9M529.2 554.7V568.7M529.7 554.8V566.1M530.2 554.9V570.6M530.7 555.1V566.2M531.2 555.2V568.1M531.7 555.3V570.4M532.2 555.4V567.5M532.7 555.5V569.6M533.1 555.6V571.1M533.6 555.7V593.9M534.1 555.8V569.3M534.6 555.9V588.6M535.1 556V571.2M535.6 556.2V613.1M536.1 556.3V572.6M536.6 556.4V571.5M537.1 556.5V567M537.5 556.6V573.4M538 556.7V576.2M538.5 556.8V582.6M539 556.9V571.4M539.5 557V570.6M540 557.1V576.9M540.5 557.3V586.9M541 557.4V571.1M541.5 557.5V573.6M541.9 557.6V569.9M542.4 557.7V574.8M542.9 557.8V569.3M543.3 558.1V578.6M543.7 558.4V572.2M544.1 558.7V610.4M544.5 559V570.6M545 559.3V573.9M545.4 559.6V591.6M545.8 559.9V574M546.2 560.3V572.5M546.6 560.6V577M547 560.9V577.9M547.4 561.2V575.7M547.8 561.5V583.6M548.2 561.8V575.7M548.6 562.1V584.2M549 562.4V574.1M549.4 562.7V578.8M549.8 563V575M550.3 563.3V575.9M550.7 563.6V580.5M551.1 563.9V576.3M551.5 564.2V574.7M551.9 564.5V593.4M552.3 564.8V576.4M552.7 565.1V577.6M552.9 565.6V582M553.2 566V582.5M553.4 566.5V606M553.7 567V589.8M553.9 567.4V581.6M554.1 567.9V583.5M554.4 568.3V595.9M554.6 568.8V582.2M554.9 569.2V584.4M555.1 569.7V585.6M555.3 570.1V588.3M555.6 570.6V583.5M555.8 571V581.9M556.1 571.5V586.3M556.3 571.9V588.3M556.6 572.4V613.3M556.8 572.8V584M557 573.3V588.5M557.3 573.7V587.7M557.5 574.2V587.3M557.8 574.6V590.8M558 575.1V592.7M558.2 575.5V590.7M558.5 576V590.1M558.7 576.5V596.5M559 576.9V588M559.2 577.4V590.6M559.3 577.8V594.9M559.4 578.3V590.8M559.5 578.8V604.1M559.6 579.3V606.9M559.8 579.8V595.8M559.9 580.3V598.9M560 580.8V595.2M560.1 581.3V597.1M560.2 581.8V615M560.3 582.2V616.6M560.4 582.7V595.6M560.5 583.2V597.4M560.6 583.7V594.1M560.7 584.2V610.3M560.8 584.7V596.2M560.9 585.2V602.1M561.1 585.7V607.4M561.2 586.2V599.6M561.3 586.6V603.7M561.4 587.1V597.8M561.5 587.6V618.1M561.6 588.1V614.1M561.7 588.6V603.9M561.8 589.1V599.6M561.9 589.6V600.1M562 590.1V614.8M562.1 590.6V617M562.3 591V610.3M562.4 591.5V608.1M562.5 592V603.2M562.5 592.5V612.7M562.5 593V605.6M562.6 593.5V609.5M562.6 594.1V606.5M562.6 594.6V610M562.7 595.1V610.9M562.7 595.6V608.4M562.7 596.1V609M562.7 596.6V611.4M562.8 597.1V611M562.8 597.6V613.1M562.8 598.1V610.1M562.9 598.6V609.6M562.9 599.1V616.4M562.9 599.6V614.3M563 600.1V616.4M563 600.6V613.1M563 601.2V613.1M563.1 601.7V613.9M563.1 602.2V612.5M563.1 602.7V616.1M563.1 603.2V617.6M563.2 603.7V616.5M563.2 604.2V612.3M563.2 604.7V613M563.3 605.2V615.2M563.3 605.7V618.9M563.3 606.2V618.9M563.4 606.7V618.9M563.4 607.2V618.9M563.4 607.7V618.9M563.5 608.3V618.9M563.5 608.8V618.9M563.5 609.3V618.9M563.5 609.8V618.9M563.6 610.3V618.9M563.6 610.8V618.9M563.6 611.3V618.9M563.7 611.8V618.9M563.7 612.3V618.9M563.7 612.8V618.9M563.8 613.3V618.9M563.8 613.8V618.9M563.8 614.3V618.9M563.9 614.8V618.9M563.9 615.4V618.9M563.9 615.9V618.9M563.9 616.4V618.9M564 616.9V618.9M564 617.4V618.9M564 617.9V618.9M564.1 618.4V618.9M556 566L565.7 567.6L569 577.4L571.4 592L572.2 614.8M556 566V576.7M556.5 566V576.9M557 566.1V577.7M557.5 566.2V575M558 566.3V576.4M558.5 566.4V578.5M559 566.5V576.5M559.6 566.6V577.8M560.1 566.6V576.7M560.6 566.7V576.7M561.1 566.8V580M561.6 566.9V580M562.1 567V581.5M562.6 567.1V580.1M563.2 567.2V577.4M563.7 567.2V577.5M564.2 567.3V577.6M564.7 567.4V578M565.2 567.5V581M565.7 567.6V579M565.9 568.1V581.8M566.1 568.6V581.1M566.2 569.1V579.2M566.4 569.5V581.7M566.5 570V579.2M566.7 570.5V583.7M566.9 571V584.2M567 571.5V582.3M567.2 572V582.5M567.4 572.5V585.1M567.5 573V583.7M567.7 573.4V584M567.8 573.9V583.5M568 574.4V586.9M568.2 574.9V587.9M568.3 575.4V585.1M568.5 575.9V589.8M568.7 576.4V586.1M568.8 576.9V588.5M569 577.4V588.9M569.1 577.9V590.1M569.2 578.4V592.1M569.2 578.9V589.7M569.3 579.4V591.7M569.4 579.9V589.5M569.5 580.4V591.2M569.6 580.9V590.1M569.7 581.4V594M569.7 581.9V595.7M569.8 582.4V602.7M569.9 582.9V611M570 583.4V595.2M570.1 583.9V596.3M570.2 584.4V597M570.3 584.9V597.1M570.3 585.4V594.7M570.4 586V598M570.5 586.5V599.4M570.6 587V596.8M570.7 587.5V605.1M570.8 588V610.6M570.8 588.5V600.2M570.9 589V598.7M571 589.5V601.3M571.1 590V599.9M571.2 590.5V600.6M571.3 591V603.7M571.3 591.5V601.5M571.4 592V601.2M571.4 592.5V604.9M571.5 593V602.2M571.5 593.5V606M571.5 594V614.8M571.5 594.6V604.9M571.5 595.1V606.1M571.6 595.6V610.9M571.6 596.1V608.6M571.6 596.6V607.8M571.6 597.1V611M571.6 597.6V609.7M571.6 598.1V610.2M571.7 598.6V612.4M571.7 599.1V612.2M571.7 599.6V612.8M571.7 600.1V612M571.7 600.6V612.2M571.8 601.1V614.6M571.8 601.7V614.3M571.8 602.2V614.4M571.8 602.7V614.8M571.8 603.2V614.8M571.8 603.7V613.6M571.9 604.2V614.8M571.9 604.7V613.7M571.9 605.2V614.8M571.9 605.7V614.8M571.9 606.2V614.8M572 606.7V614.8M572 607.2V614.8M572 607.7V614.8M572 608.2V614.8M572 608.7V614.8M572 609.3V614.8M572.1 609.8V614.8M572.1 610.3V614.8M572.1 610.8V614.8M572.1 611.3V614.8M572.1 611.8V614.8M572.2 612.3V614.8M572.2 612.8V614.8M572.2 613.3V614.8M572.2 613.8V614.8M572.2 614.3V614.8M533.1 556.2H572.2M529 553.4V597.9M527.7 553.4V604.2M527 553.4V590.6M531.5 553.4V587.6M527.1 553.4V595.4M530.3 553.4V587.1M526.5 553.4V593.9M526.8 553.4V594.7M527.4 553.4V623.8M572.2 557H595.1M573.1 557.5L586.9 561.1L591 570.8L592.6 583.9L593.4 605.1M573.1 557.5V584M573.6 557.6V572.2M574 557.7V568.8M574.5 557.9V572.6M575 558V574.7M575.5 558.1V572.9M576 558.3V574M576.5 558.4V569.8M577 558.5V571.2M577.5 558.6V570.6M578 558.8V575.5M578.5 558.9V571M579 559V600.8M579.5 559.1V575.7M580 559.3V573.6M580.5 559.4V572M581 559.5V570.7M581.5 559.7V571.5M582 559.8V591.7M582.5 559.9V573.4M583 560V575.8M583.4 560.2V571.6M583.9 560.3V574.2M584.4 560.4V573.7M584.9 560.6V575.5M585.4 560.7V572.5M585.9 560.8V595.5M586.4 560.9V573.5M586.9 561.1V574.2M587.1 561.5V572.9M587.3 562V575.6M587.5 562.5V577.8M587.7 562.9V601.9M587.9 563.4V577.6M588.1 563.9V579.3M588.3 564.3V578.2M588.5 564.8V579.9M588.7 565.3V578M588.8 565.7V580.1M589 566.2V596.3M589.2 566.7V578M589.4 567.1V582.8M589.6 567.6V583.8M589.8 568V580.8M590 568.5V582.3M590.2 569V600.7M590.4 569.4V581.9M590.6 569.9V580.6M590.8 570.4V585.2M591 570.8V584.8M591 571.3V583.5M591.1 571.8V582.6M591.2 572.3V583.9M591.2 572.8V584.3M591.3 573.3V588.1M591.4 573.9V600M591.4 574.4V587M591.5 574.9V590.7M591.5 575.4V592M591.6 575.9V590.8M591.7 576.4V588.2M591.7 576.9V588.1M591.8 577.4V599.4M591.9 577.9V590.6M591.9 578.4V592.5M592 578.9V592.4M592 579.4V590.4M592.1 579.9V594.3M592.2 580.4V597M592.2 580.9V597.8M592.3 581.4V597M592.4 581.9V593.6M592.4 582.4V592.8M592.5 582.9V597.6M592.5 583.4V597.8M592.6 583.9V601.5M592.6 584.4V598.3M592.6 584.9V597M592.7 585.4V598.2M592.7 585.9V596.3M592.7 586.4V597.6M592.7 586.9V599.8M592.7 587.4V601M592.8 587.9V604.1M592.8 588.4V605.1M592.8 588.9V601.7M592.8 589.4V603.1M592.8 589.9V605.1M592.9 590.4V605.1M592.9 590.9V605.1M592.9 591.4V605.1M592.9 591.9V605.1M592.9 592.4V605.1M593 593V605.1M593 593.5V605.1M593 594V605.1M593 594.5V605.1M593 595V605.1M593.1 595.5V605.1M593.1 596V605.1M593.1 596.5V605.1M593.1 597V605.1M593.1 597.5V605.1M593.2 598V605.1M593.2 598.5V605.1M593.2 599V605.1M593.2 599.5V605.1M593.2 600V605.1M593.3 600.5V605.1M593.3 601V605.1M593.3 601.5V605.1M593.3 602V605.1M593.3 602.5V605.1M593.3 603V605.1M593.4 603.5V605.1M593.4 604V605.1M593.4 604.6V605.1M577.1 559.4V619.7M580.4 559.4V615.6M577.6 559.4V618.9M595.1 561.9H681M595.9 561.6L614.7 568.4L631 575.7L645.6 590.4L655.4 616.5L656.7 641.7M595.9 561.6V575.4M596.4 561.7V576.7M596.9 561.9V573.1M597.4 562.1V581.3M597.8 562.3V572.2M598.3 562.4V574.8M598.8 562.6V575.6M599.3 562.8V576.5M599.8 563V575.8M600.3 563.1V575.2M600.7 563.3V576.9M601.2 563.5V575.8M601.7 563.7V576.6M602.2 563.8V576.3M602.7 564V573.2M603.1 564.2V578.5M603.6 564.4V574.5M604.1 564.5V579.4M604.6 564.7V579M605.1 564.9V576.4M605.5 565.1V578.8M606 565.2V593.5M606.5 565.4V578.2M607 565.6V587.6M607.5 565.8V579.3M607.9 565.9V577.5M608.4 566.1V576.7M608.9 566.3V594.9M609.4 566.5V597.8M609.9 566.6V580M610.3 566.8V577.1M610.8 567V579.2M611.3 567.2V581M611.8 567.3V579.7M612.3 567.5V577.4M612.7 567.7V580.5M613.2 567.9V579.2M613.7 568V579.8M614.2 568.2V583M614.7 568.4V583.3M615.1 568.6V589.1M615.6 568.8V578.9M616.1 569V593.2M616.5 569.2V583.4M617 569.4V581.5M617.5 569.7V579.6M617.9 569.9V584.6M618.4 570.1V581.8M618.9 570.3V580.5M619.3 570.5V581.8M619.8 570.7V580.9M620.2 570.9V585.5M620.7 571.1V589.6M621.2 571.3V581.8M621.6 571.5V580.9M622.1 571.7V585.6M622.6 572V583.6M623 572.2V583.6M623.5 572.4V582.1M624 572.6V586M624.4 572.8V583.5M624.9 573V586.6M625.4 573.2V584.5M625.8 573.4V590.2M626.3 573.6V587M626.8 573.8V583.7M627.2 574.1V585.8M627.7 574.3V583.7M628.2 574.5V589.3M628.6 574.7V587.1M629.1 574.9V617.9M629.6 575.1V587.1M630 575.3V587.4M630.5 575.5V590.3M631 575.7V590.1M631.3 576.1V587.1M631.7 576.4V592.4M632 576.8V590M632.4 577.2V589.6M632.7 577.5V587.2M633.1 577.9V590.8M633.5 578.2V592.5M633.8 578.6V590.4M634.2 578.9V591.7M634.5 579.3V591.2M634.9 579.7V591.7M635.2 580V590.8M635.6 580.4V592.1M636 580.7V590.5M636.3 581.1V590.3M636.7 581.5V591.9M637 581.8V595.5M637.4 582.2V596.3M637.7 582.5V597.4M638.1 582.9V597.7M638.5 583.2V594.9M638.8 583.6V593M639.2 584V594.3M639.5 584.3V598.2M639.9 584.7V595.1M640.3 585V599.2M640.6 585.4V600.1M641 585.7V614.4M641.3 586.1V597.5M641.7 586.5V604.9M642 586.8V601.1M642.4 587.2V599.7M642.8 587.5V596.9M643.1 587.9V597.6M643.5 588.2V601.7M643.8 588.6V602M644.2 589V599M644.5 589.3V600.3M644.9 589.7V602.5M645.3 590V603.9M645.6 590.4V602.8M645.8 590.9V603.8M646 591.3V604M646.2 591.8V623M646.3 592.3V604.9M646.5 592.8V603.2M646.7 593.2V612.4M646.9 593.7V604.9M647 594.2V607.4M647.2 594.7V608.6M647.4 595.1V607.1M647.6 595.6V606.8M647.8 596.1V608.6M647.9 596.6V611.4M648.1 597V607.4M648.3 597.5V608.8M648.5 598V638.9M648.6 598.4V610.8M648.8 598.9V609.1M649 599.4V622.5M649.2 599.9V613.4M649.3 600.3V614.1M649.5 600.8V615.6M649.7 601.3V611.2M649.9 601.8V614M650.1 602.2V612M650.2 602.7V613.5M650.4 603.2V614.1M650.6 603.7V616.1M650.8 604.1V640.1M650.9 604.6V618M651.1 605.1V614.3M651.3 605.6V616.9M651.5 606V615.9M651.7 606.5V620.3M651.8 607V631.1M652 607.5V619.5M652.2 607.9V622M652.4 608.4V618.7M652.5 608.9V623.4M652.7 609.4V618.5M652.9 609.8V623.7M653.1 610.3V619.6M653.3 610.8V625.1M653.4 611.2V622.1M653.6 611.7V621.6M653.8 612.2V624.6M654 612.7V626.4M654.1 613.1V626.8M654.3 613.6V627.5M654.5 614.1V623.3M654.7 614.6V627.7M654.9 615V629.7M655 615.5V630.4M655.2 616V627.8M655.4 616.5V628.6M655.4 617V629.7M655.4 617.5V631.7M655.5 618V629.2M655.5 618.5V630.2M655.5 619V629.2M655.5 619.5V629.3M655.6 620V632.7M655.6 620.5V631.7M655.6 621V632.7M655.7 621.5V633.2M655.7 622V633.6M655.7 622.5V636.4M655.7 623V638.9M655.8 623.5V637.2M655.8 624V638.9M655.8 624.5V637.7M655.8 625V635.6M655.9 625.6V637.2M655.9 626.1V638.5M655.9 626.6V641.7M655.9 627.1V639.7M656 627.6V641.3M656 628.1V640.2M656 628.6V641.5M656 629.1V641.7M656.1 629.6V640.5M656.1 630.1V641.7M656.1 630.6V641.7M656.1 631.1V641.7M656.2 631.6V641.7M656.2 632.1V641.7M656.2 632.6V641.7M656.3 633.1V641.7M656.3 633.6V641.7M656.3 634.1V641.7M656.3 634.6V641.7M656.4 635.1V641.7M656.4 635.7V641.7M656.4 636.2V641.7M656.4 636.7V641.7M656.5 637.2V641.7M656.5 637.7V641.7M656.5 638.2V641.7M656.5 638.7V641.7M656.6 639.2V641.7M656.6 639.7V641.7M656.6 640.2V641.7M656.6 640.7V641.7M656.7 641.2V641.7M629.3 573.3H657.8M645.6 587.5H657M657.3 573.3V606.7M658.3 574.1L668.4 581.4L676.6 590.4L679.8 603.4L681 619.7M658.3 574.1V585.9M658.7 574.4V586.3M659.2 574.7V587.1M659.6 575V586.4M660 575.3V586.6M660.4 575.6V589.6M660.9 575.9V589.7M661.3 576.2V589.6M661.7 576.5V587.8M662.1 576.8V590.1M662.5 577.2V601.2M663 577.5V588M663.4 577.8V588.1M663.8 578.1V590.7M664.2 578.4V588.6M664.6 578.7V591.8M665.1 579V589.1M665.5 579.3V594.5M665.9 579.6V591.1M666.3 579.9V602.1M666.7 580.2V592M667.2 580.5V590.8M667.6 580.8V604.8M668 581.1V594.9M668.4 581.4V595.5M668.8 581.8V597.7M669.1 582.2V597.4M669.4 582.6V596.8M669.8 582.9V608.7M670.1 583.3V596.5M670.5 583.7V598.6M670.8 584V598M671.1 584.4V599.7M671.5 584.8V600.9M671.8 585.2V597.7M672.2 585.5V598.9M672.5 585.9V596M672.8 586.3V613.8M673.2 586.7V602.2M673.5 587V598.1M673.9 587.4V601M674.2 587.8V601.5M674.5 588.2V601.1M674.9 588.5V598.7M675.2 588.9V600.1M675.6 589.3V600.6M675.9 589.6V602.2M676.2 590V603.2M676.6 590.4V603.5M676.7 590.9V606.7M676.8 591.4V606.6M676.9 591.9V605.7M677.1 592.4V605.8M677.2 592.9V609M677.3 593.4V605M677.4 593.9V615.8M677.6 594.4V607.3M677.7 594.9V606.5M677.8 595.4V607.6M678 595.9V617M678.1 596.4V607.9M678.2 596.9V607.9M678.3 597.4V613.1M678.5 597.9V616.3M678.6 598.4V610.6M678.7 598.9V614.6M678.8 599.4V613.5M679 599.9V614.1M679.1 600.4V613.1M679.2 600.9V616.4M679.3 601.4V619.2M679.5 601.9V612.1M679.6 602.4V616.8M679.7 602.9V613.2M679.8 603.4V613.6M679.9 603.9V615.7M679.9 604.4V617.3M679.9 605V617M680 605.5V619.5M680 606V614.4M680 606.5V617.2M680.1 607V614.9M680.1 607.5V617.4M680.2 608V614.4M680.2 608.5V618.5M680.2 609V619.7M680.3 609.5V619.7M680.3 610V619.7M680.3 610.6V619.7M680.4 611.1V619.7M680.4 611.6V619.7M680.4 612.1V619.7M680.5 612.6V619.7M680.5 613.1V619.7M680.5 613.6V619.7M680.6 614.1V619.7M680.6 614.6V619.7M680.7 615.1V619.7M680.7 615.6V619.7M680.7 616.2V619.7M680.8 616.7V619.7M680.8 617.2V619.7M680.8 617.7V619.7M680.9 618.2V619.7M680.9 618.7V619.7M680.9 619.2V619.7M681.5 562.7V626.2M682.8 562.7V667M681 563L730.3 573.3M681 563V573.8M681.5 563.1V573.3M682 563.2V573.6M682.5 563.3V572.3M682.9 563.4V572.2M683.4 563.5V574.4M683.9 563.6V571.9M684.4 563.7V570.8M684.9 563.8V573.7M685.4 563.9V575M685.9 564V572M686.4 564.2V574.4M686.9 564.3V575.7M687.4 564.4V574.9M687.9 564.5V574.2M688.4 564.6V575.8M688.9 564.7V574.5M689.4 564.8V574.4M689.9 564.9V574.9M690.4 565V572.3M690.8 565.1V573.6M691.3 565.2V575.4M691.8 565.3V575.3M692.3 565.4V572.5M692.8 565.5V576.9M693.3 565.6V575.6M693.8 565.7V574.8M694.3 565.8V573.4M694.8 565.9V573.7M695.3 566V575.5M695.8 566.1V575.2M696.3 566.2V574.6M696.8 566.3V573.5M697.3 566.4V577.7M697.8 566.5V574.5M698.2 566.6V577.8M698.7 566.7V575.7M699.2 566.8V575M699.7 566.9V574.1M700.2 567V575M700.7 567.1V574.8M701.2 567.2V576.4M701.7 567.3V574.7M702.2 567.4V574.9M702.7 567.5V574.6M703.2 567.6V578.8M703.7 567.7V575.4M704.2 567.8V574.9M704.7 567.9V578.5M705.2 568.1V578.3M705.7 568.2V579.2M706.1 568.3V577.3M706.6 568.4V579.3M707.1 568.5V576.8M707.6 568.6V577.1M708.1 568.7V577.9M708.6 568.8V577.6M709.1 568.9V578.8M709.6 569V578M710.1 569.1V577M710.6 569.2V577.2M711.1 569.3V580.6M711.6 569.4V578.1M712.1 569.5V577.9M712.6 569.6V577.6M713.1 569.7V577.2M713.6 569.8V577.7M714 569.9V577.3M714.5 570V580M715 570.1V578.8M715.5 570.2V577.5M716 570.3V579.6M716.5 570.4V580M717 570.5V580.3M717.5 570.6V580.3M718 570.7V579M718.5 570.8V582M719 570.9V580.2M719.5 571V580.9M720 571.1V581.2M720.5 571.2V581.8M721 571.3V578.5M721.4 571.4V579.5M721.9 571.5V582.9M722.4 571.6V581.7M722.9 571.7V582.7M723.4 571.8V582.1M723.9 572V582.3M724.4 572.1V581.1M724.9 572.2V582.4M725.4 572.3V583.8M725.9 572.4V580.5M726.4 572.5V580.8M726.9 572.6V583.5M727.4 572.7V580.3M727.9 572.8V583.1M728.4 572.9V582M728.9 573V582.2M729.3 573.1V583.1M729.8 573.2V582.1M730.3 573.3V580.4M684.7 567.6V588.8M688 567.6V600.2M693.7 567.6V582.2M696.1 567.6V583.9M697.8 567.6V586.3M701 567.6V590.4M705.1 567.6V589.6M714.9 567.6V602.6M718.9 567.6V597.7M730.3 574.1L732.3 600.2L733.9 626.2L734.9 651.5M730.3 574.1V576.5M730.4 574.9V577.4M730.5 575.7V578.2M730.5 576.5V579.3M730.6 577.4V580.8M730.6 578.2V581.6M730.7 579V581.6M730.8 579.8V583.1M730.8 580.6V583.9M730.9 581.4V583.8M730.9 582.2V584.5M731 583.1V585.8M731.1 583.9V586.5M731.1 584.7V587.9M731.2 585.5V588.6M731.3 586.3V589.6M731.3 587.1V590.1M731.4 587.9V590.1M731.4 588.8V591.5M731.5 589.6V592.2M731.6 590.4V593M731.6 591.2V593.5M731.7 592V594.1M731.7 592.8V595.5M731.8 593.7V596.4M731.9 594.5V597.6M731.9 595.3V597.4M732 596.1V599M732 596.9V599M732.1 597.7V601M732.2 598.5V601.3M732.2 599.4V602.2M732.3 600.2V602.7M732.3 601V603.3M732.4 601.8V604.1M732.4 602.6V605.5M732.5 603.4V606.4M732.5 604.2V607M732.6 605.1V607.8M732.6 605.9V609.1M732.7 606.7V609.9M732.7 607.5V610.6M732.8 608.3V611.3M732.9 609.1V611.9M732.9 609.9V612.3M733 610.8V613.1M733 611.6V614.5M733.1 612.4V615.8M733.1 613.2V616.1M733.2 614V617.1M733.2 614.8V617M733.3 615.6V618.2M733.3 616.5V619.4M733.4 617.3V620.7M733.4 618.1V621M733.5 618.9V621.9M733.5 619.7V622.5M733.6 620.5V622.7M733.6 621.3V624.2M733.7 622.2V624.4M733.7 623V626.2M733.8 623.8V627.2M733.8 624.6V627.7M733.9 625.4V627.7M733.9 626.2V629.6M734 627V629.4M734 627.9V630.5M734 628.7V631M734 629.5V631.8M734.1 630.3V633.4M734.1 631.1V633.7M734.1 631.9V635.2M734.2 632.8V635.1M734.2 633.6V636.5M734.2 634.4V636.5M734.3 635.2V638.2M734.3 636V638.6M734.3 636.8V640.1M734.4 637.6V640.7M734.4 638.5V641.6M734.4 639.3V641.5M734.5 640.1V643.4M734.5 640.9V643.5M734.5 641.7V644.5M734.6 642.5V645M734.6 643.3V645.5M734.6 644.2V646.6M734.6 645V648.3M734.7 645.8V648.4M734.7 646.6V649M734.7 647.4V649.8M734.8 648.2V650.9M734.8 649V651.5M734.8 649.9V651.5M734.9 650.7V651.5M735.2 574.1L769.4 583.9M735.2 574.1V584.3M735.7 574.2V585.5M736.2 574.4V582.8M736.7 574.5V583.6M737.2 574.7V583.9M737.6 574.8V584.4M738.1 574.9V584.7M738.6 575.1V585.6M739.1 575.2V585.2M739.6 575.3V586M740 575.5V586.4M740.5 575.6V585.3M741 575.8V587M741.5 575.9V586.9M742 576V584.3M742.5 576.2V584.2M742.9 576.3V586.4M743.4 576.4V585.9M743.9 576.6V583.9M744.4 576.7V587.1M744.9 576.9V584.2M745.3 577V588.4M745.8 577.1V586.4M746.3 577.3V588.7M746.8 577.4V588.2M747.3 577.5V587.2M747.8 577.7V588.4M748.2 577.8V587.7M748.7 578V587M749.2 578.1V585.7M749.7 578.2V589.4M750.2 578.4V586.1M750.6 578.5V587.1M751.1 578.6V589.8M751.6 578.8V587M752.1 578.9V588.7M752.6 579.1V589.2M753.1 579.2V587.3M753.5 579.3V587.7M754 579.5V586.7M754.5 579.6V590.7M755 579.7V588.1M755.5 579.9V587.6M755.9 580V587.2M756.4 580.2V589.2M756.9 580.3V589.4M757.4 580.4V590.4M757.9 580.6V591.8M758.4 580.7V589.6M758.8 580.8V588.7M759.3 581V590.2M759.8 581.1V592.5M760.3 581.3V590.6M760.8 581.4V590.6M761.2 581.5V591.5M761.7 581.7V588.8M762.2 581.8V592.9M762.7 581.9V591.4M763.2 582.1V590.6M763.7 582.2V591.6M764.1 582.4V589.6M764.6 582.5V593.2M765.1 582.6V591.3M765.6 582.8V591.2M766.1 582.9V592M766.5 583V590.3M767 583.2V591.7M767.5 583.3V594.1M768 583.5V591.5M768.5 583.6V595M769 583.7V591.7M769.4 583.9V595.1M745 579V600.2M753.1 579V593.7M757.7 579V609.1M762.1 579V596.9M766.2 579V600.2M767.8 584.7L771.1 600.2L772.7 616.5L773.2 630.3M767.8 584.7V589.2M768 585.4V590.8M768.1 586.1V590.1M768.3 586.8V590.5M768.4 587.5V591.3M768.5 588.2V593.2M768.7 588.9V593.4M768.8 589.6V594.8M769 590.3V593.9M769.1 591V595.1M769.3 591.7V596.3M769.4 592.4V596.2M769.6 593.1V598.7M769.7 593.8V597.7M769.9 594.5V600M770 595.2V600.4M770.2 595.9V599.5M770.3 596.7V601.1M770.5 597.4V602.8M770.6 598.1V602.7M770.8 598.8V603.8M770.9 599.5V605.2M771.1 600.2V604.8M771.1 600.9V604.9M771.2 601.6V606.4M771.3 602.3V605.8M771.3 603V608.7M771.4 603.7V608M771.5 604.4V609.5M771.6 605.1V608.9M771.6 605.8V611.3M771.7 606.5V610.3M771.8 607.3V612.3M771.8 608V612.1M771.9 608.7V614M772 609.4V613.5M772.1 610.1V614.5M772.1 610.8V615.4M772.2 611.5V617.2M772.3 612.2V617.2M772.3 612.9V618.4M772.4 613.6V618.1M772.5 614.3V618.2M772.6 615V619.8M772.6 615.8V620.2M772.7 616.5V620.8M772.7 617.2V621.1M772.7 617.9V622.3M772.8 618.6V622.3M772.8 619.4V622.9M772.8 620.1V624.7M772.8 620.8V625.5M772.9 621.6V626.3M772.9 622.3V627.7M772.9 623V627.3M773 623.7V628.5M773 624.5V628.5M773 625.2V629.9M773 625.9V629.9M773.1 626.7V630.3M773.1 627.4V630.3M773.1 628.1V630.3M773.1 628.9V630.3M773.2 629.6V630.3M774.3 584.7L787.4 591.2M774.3 584.7V595.5M774.8 584.9V596.6M775.2 585.1V594.4M775.7 585.4V593.7M776.1 585.6V594.2M776.6 585.8V597.3M777 586V594.1M777.5 586.3V597.7M777.9 586.5V599.1M778.4 586.7V594.7M778.8 586.9V597.9M779.3 587.2V599.6M779.7 587.4V599.6M780.2 587.6V596.5M780.6 587.8V597.4M781.1 588.1V596.1M781.5 588.3V599.9M782 588.5V599.4M782.4 588.7V597.5M782.9 589V600.9M783.3 589.2V597.6M783.8 589.4V599.8M784.2 589.6V597.8M784.7 589.9V602.2M785.1 590.1V600.5M785.6 590.3V602.6M786 590.5V601.3M786.5 590.8V601.2M786.9 591V599.3M787.4 591.2V603.6M787.4 592L789 608.3L790.3 629.2M787.4 592V595.3M787.4 592.8V597.4M787.5 593.7V598.2M787.6 594.5V598.1M787.7 595.3V598.2M787.8 596.1V599M787.8 596.9V599.9M787.9 597.7V601.3M788 598.5V601.9M788.1 599.4V602.6M788.2 600.2V603.7M788.3 601V605.5M788.3 601.8V605.5M788.4 602.6V605.6M788.5 603.4V606.7M788.6 604.2V607.3M788.7 605.1V609.3M788.7 605.9V609.4M788.8 606.7V610M788.9 607.5V610.3M789 608.3V611.5M789 609.1V612.5M789.1 609.9V614.2M789.1 610.7V613.5M789.2 611.5V615.4M789.2 612.3V615.6M789.3 613.1V616.1M789.3 613.9V617.4M789.4 614.7V618.9M789.4 615.5V618.7M789.5 616.3V620.9M789.5 617.1V620.7M789.6 617.9V622M789.6 618.7V621.7M789.7 619.5V623.7M789.7 620.3V624.8M789.8 621.1V625.5M789.8 621.9V625.6M789.9 622.8V626.5M789.9 623.6V626.8M790 624.4V628M790 625.2V629.2M790.1 626V629.2M790.1 626.8V629.2M790.2 627.6V629.2M790.2 628.4V629.2M779.2 588.8V607.5M789.8 591.2L805.3 601.8M789.8 591.2V599.4M790.2 591.5V602.9M790.6 591.8V604.2M791.1 592.1V604M791.5 592.4V603.6M791.9 592.6V600.4M792.3 592.9V604M792.7 593.2V602.8M793.1 593.5V603.7M793.6 593.8V602.2M794 594.1V606.3M794.4 594.4V604.3M794.8 594.6V605.7M795.2 594.9V603.4M795.7 595.2V603.1M796.1 595.5V605.3M796.5 595.8V608.3M796.9 596.1V607.2M797.3 596.4V605.7M797.7 596.6V605.5M798.2 596.9V607.1M798.6 597.2V607.7M799 597.5V608.8M799.4 597.8V607.6M799.8 598.1V607.6M800.3 598.4V616.8M800.7 598.6V607.7M801.1 598.9V610.9M801.5 599.2V609.8M801.9 599.5V611M802.4 599.8V611.1M802.8 600.1V608.9M803.2 600.4V610.9M803.6 600.7V610.6M804 600.9V609.7M804.4 601.2V613.6M804.9 601.5V610M805.3 601.8V612.4M793.1 596.9V611.6M797.9 596.9V614.8M802 596.9V621.3M803.6 603.4L805.6 624.6L806.6 640.9M803.6 603.4V607M803.7 604.2V607.5M803.8 605.1V608.3M803.9 605.9V610M804 606.7V609.6M804 607.5V610.9M804.1 608.3V612M804.2 609.1V612.7M804.3 609.9V613M804.3 610.8V614.7M804.4 611.6V615M804.5 612.4V616.4M804.6 613.2V616.7M804.6 614V617.4M804.7 614.8V618.2M804.8 615.6V619.3M804.9 616.5V620.7M804.9 617.3V620.6M805 618.1V621.8M805.1 618.9V622.9M805.2 619.7V623.4M805.2 620.5V625M805.3 621.3V624.8M805.4 622.2V625.5M805.5 623V626M805.5 623.8V626.6M805.6 624.6V628M805.7 625.4V628.5M805.7 626.2V630.6M805.8 627V631.2M805.8 627.9V630.8M805.8 628.7V632M805.9 629.5V632.6M805.9 630.3V634.7M806 631.1V634.4M806 631.9V635.9M806.1 632.8V636.5M806.1 633.6V636.6M806.2 634.4V637.7M806.2 635.2V639M806.3 636V639.1M806.3 636.8V640.5M806.4 637.6V640.9M806.4 638.5V640.9M806.5 639.3V640.9M806.5 640.1V640.9M806.9 601.8L815.1 613.2L819.9 624.6L822.5 632.8M806.9 601.8V616.1M807.2 602.2V618M807.5 602.6V618.7M807.8 603V620.2M808.1 603.4V617.4M808.4 603.8V616.8M808.7 604.2V619.9M808.9 604.6V630.8M809.2 605.1V619.8M809.5 605.5V621.5M809.8 605.9V618.7M810.1 606.3V622.3M810.4 606.7V622.6M810.7 607.1V621.4M811 607.5V618.9M811.3 607.9V624.2M811.6 608.3V619M811.9 608.7V621.4M812.1 609.1V621.7M812.4 609.5V620.9M812.7 609.9V621.8M813 610.4V623.1M813.3 610.8V627.8M813.6 611.2V623.2M813.9 611.6V627.1M814.2 612V627.2M814.5 612.4V629.1M814.8 612.8V624.3M815.1 613.2V629.5M815.3 613.7V626.7M815.5 614.2V624.9M815.7 614.6V626.7M815.9 615.1V631.9M816.1 615.6V626.2M816.3 616.1V639.9M816.5 616.5V633.2M816.7 617V633.9M816.9 617.5V628.6M817.1 618V634.2M817.3 618.4V631.2M817.5 618.9V632M817.7 619.4V636.4M817.9 619.9V630.5M818.1 620.3V634.2M818.3 620.8V638M818.5 621.3V636.2M818.7 621.8V633.8M818.9 622.2V639.5M819.1 622.7V638.2M819.3 623.2V637.9M819.5 623.7V639.6M819.7 624.1V637.3M819.9 624.6V642.6M820.1 625.1V636.8M820.2 625.6V638.8M820.4 626V638.7M820.6 626.5V640.4M820.7 627V640.7M820.9 627.5V638.7M821 628V643.2M821.2 628.4V640.4M821.3 628.9V644.4M821.5 629.4V640.9M821.6 629.9V641M821.8 630.4V645.6M821.9 630.8V645.8M822.1 631.3V642.6M822.2 631.8V644.9M822.4 632.3V643.6M822.5 632.8V644.7M822.6 628.7V649" stroke="#0a0203" stroke-width="1.05" fill="none"/>
<path d="M223 547.6L225 611L226.9 668.9L230.2 724L233.8 759.9M768.3 584.7L771.2 600.2L772.7 616.5L773.2 628.7" stroke="#0a0203" stroke-width="2.6" stroke-linejoin="round" fill="none"/>
<path d="M170.9 547.6L172.6 657.9L174.2 740.6L175.4 793" stroke="#0a0203" stroke-width="2.2" stroke-linejoin="round" fill="none"/>
<path d="M338.3 551.3L341.5 575.7L345.6 600.2L349.5 632.8L351 665.3L351.3 688.1M375.7 549.7L381.4 561.1L385.5 580.6L388.6 608.3L389.3 645.8" stroke="#0a0203" stroke-width="3.0" stroke-linejoin="round" fill="none"/>
<path d="M730.5 574.1L732.5 600.2L734.1 626.2L734.9 649.9M787.5 592L789 608.3L790.1 627.9M803.8 603.4L805.6 624.6L806.4 639.3" stroke="#0a0203" stroke-width="2.4" stroke-linejoin="round" fill="none"/>
<path d="M681.5 563L682.8 665.3" stroke="#0a0203" stroke-width="1.8" stroke-linejoin="round" fill="none"/>
<path d="M120.5 545.6V881.2M120.5 881.2h-12.3M120.5 814.1h-12.3M120.5 747h-12.3M120.5 679.8h-12.3M120.5 612.7h-12.3M120.5 545.6h-12.3" stroke="#111" stroke-width="1" fill="none"/>
<text transform="translate(91.2 881.2) rotate(-90)" font-size="19.5" text-anchor="middle">0.0</text>
<text transform="translate(91.2 814.1) rotate(-90)" font-size="19.5" text-anchor="middle">0.2</text>
<text transform="translate(91.2 747) rotate(-90)" font-size="19.5" text-anchor="middle">0.4</text>
<text transform="translate(91.2 679.8) rotate(-90)" font-size="19.5" text-anchor="middle">0.6</text>
<text transform="translate(91.2 612.7) rotate(-90)" font-size="19.5" text-anchor="middle">0.8</text>
<text transform="translate(91.2 545.6) rotate(-90)" font-size="19.5" text-anchor="middle">1.0</text>
<text transform="translate(43 713.7) rotate(-90)" font-size="24.2" text-anchor="middle">Height</text>
<text x="469.3" y="505.4" font-size="30.5" text-anchor="middle">Cluster Dendrogram</text>
<rect x="146.8" y="922" width="48.4" height="84.5" fill="#bebebe"/>
<rect x="195" y="922" width="7.2" height="84.5" fill="#bebebe"/>
<rect x="202" y="922" width="2.2" height="84.5" fill="#d4655f"/>
<rect x="204" y="922" width="4.3" height="84.5" fill="#c9c0c0"/>
<rect x="208.2" y="922" width="1.3" height="84.5" fill="#b0c6c8"/>
<rect x="209.3" y="922" width="2.8" height="84.5" fill="#c9c0c0"/>
<rect x="211.9" y="922" width="1.7" height="84.5" fill="#b4c8c8"/>
<rect x="213.4" y="922" width="1" height="84.5" fill="#b89088"/>
<rect x="214.2" y="922" width="3.6" height="84.5" fill="#8fb0bc"/>
<rect x="217.6" y="922" width="4.5" height="84.5" fill="#c6bcbc"/>
<rect x="221.9" y="922" width="12" height="84.5" fill="#9b4f8e"/>
<rect x="233.7" y="922" width="4" height="84.5" fill="#b8cccc"/>
<rect x="237.5" y="922" width="2.1" height="84.5" fill="#8a8080"/>
<rect x="239.4" y="922" width="0.8" height="84.5" fill="#c0c0c0"/>
<rect x="239.9" y="922" width="1.1" height="84.5" fill="#d08078"/>
<rect x="240.9" y="922" width="2.7" height="84.5" fill="#9abfc0"/>
<rect x="243.4" y="922" width="2.3" height="84.5" fill="#8a9ac0"/>
<rect x="245.5" y="922" width="2.9" height="84.5" fill="#8cc070"/>
<rect x="248.2" y="922" width="2.4" height="84.5" fill="#17418e"/>
<rect x="250.4" y="922" width="13.5" height="84.5" fill="#6aa635"/>
<rect x="263.6" y="922" width="3.2" height="84.5" fill="#72ac48"/>
<rect x="266.6" y="922" width="1" height="84.5" fill="#90b0b0"/>
<rect x="267.4" y="922" width="2.1" height="84.5" fill="#4a80b0"/>
<rect x="269.2" y="922" width="2.2" height="84.5" fill="#5fb0aa"/>
<rect x="271.2" y="922" width="2.1" height="84.5" fill="#8a80a8"/>
<rect x="273.1" y="922" width="2.1" height="84.5" fill="#5fb0aa"/>
<rect x="275" y="922" width="2.3" height="84.5" fill="#d8d0b0"/>
<rect x="277" y="922" width="23.5" height="84.5" fill="#e0d94a"/>
<rect x="300.4" y="922" width="1.9" height="84.5" fill="#2a4a90"/>
<rect x="302" y="922" width="2.3" height="84.5" fill="#8ab0a8"/>
<rect x="304.1" y="922" width="1.6" height="84.5" fill="#6080a8"/>
<rect x="305.5" y="922" width="2.6" height="84.5" fill="#5fb0aa"/>
<rect x="308" y="922" width="5.1" height="84.5" fill="#9a2a28"/>
<rect x="312.9" y="922" width="3.7" height="84.5" fill="#8aa0b8"/>
<rect x="316.3" y="922" width="2.5" height="84.5" fill="#6a5a80"/>
<rect x="318.7" y="922" width="5.4" height="84.5" fill="#a8c8c0"/>
<rect x="323.9" y="922" width="1.6" height="84.5" fill="#17418e"/>
<rect x="325.3" y="922" width="2.3" height="84.5" fill="#b8b0c8"/>
<rect x="327.3" y="922" width="2.7" height="84.5" fill="#5fb0aa"/>
<rect x="329.9" y="922" width="1" height="84.5" fill="#9ac0c0"/>
<rect x="330.6" y="922" width="1.9" height="84.5" fill="#5fb0aa"/>
<rect x="332.3" y="922" width="1.6" height="84.5" fill="#3a80a0"/>
<rect x="333.7" y="922" width="2.5" height="84.5" fill="#5fb0aa"/>
<rect x="332.1" y="922" width="1.9" height="84.5" fill="#3a80a8"/>
<rect x="335.9" y="922" width="16" height="84.5" fill="#d03020"/>
<rect x="351.7" y="922" width="3.1" height="84.5" fill="#4a88a8"/>
<rect x="354.6" y="922" width="2.4" height="84.5" fill="#5fb0aa"/>
<rect x="356.8" y="922" width="0.8" height="84.5" fill="#3a70a8"/>
<rect x="357.3" y="922" width="1.7" height="84.5" fill="#5fb0aa"/>
<rect x="358.9" y="922" width="15.5" height="84.5" fill="#17418e"/>
<rect x="374.2" y="922" width="2" height="84.5" fill="#6aa8a0"/>
<rect x="376" y="922" width="14" height="84.5" fill="#080203"/>
<rect x="389.8" y="922" width="2.5" height="84.5" fill="#4a90a8"/>
<rect x="392" y="922" width="3" height="84.5" fill="#3a80a0"/>
<rect x="394.8" y="922" width="2.9" height="84.5" fill="#6aa0a0"/>
<rect x="397.6" y="922" width="24.5" height="84.5" fill="#5fb0aa"/>
<rect x="421.9" y="922" width="1" height="84.5" fill="#a05048"/>
<rect x="422.7" y="922" width="4.3" height="84.5" fill="#78908a"/>
<rect x="426.8" y="922" width="2.4" height="84.5" fill="#5fb0aa"/>
<rect x="429" y="922" width="6.6" height="84.5" fill="#6f8078"/>
<rect x="435.4" y="922" width="16" height="84.5" fill="#912a2a"/>
<rect x="451.1" y="922" width="6" height="84.5" fill="#5fb0aa"/>
<rect x="457" y="922" width="4.1" height="84.5" fill="#912a2a"/>
<rect x="460.9" y="922" width="361.9" height="84.5" fill="#5fb0aa"/>
<rect x="553" y="922" width="18.6" height="84.5" fill="#17418e"/>
<rect x="587.4" y="922" width="6.9" height="84.5" fill="#17418e"/>
<rect x="599" y="922" width="27.9" height="84.5" fill="#17418e"/>
<rect x="658" y="922" width="6.9" height="84.5" fill="#17418e"/>
<rect x="664.7" y="922" width="4.2" height="84.5" fill="#f4b6c9"/>
<rect x="668.7" y="922" width="11.6" height="84.5" fill="#17418e"/>
<rect x="783.9" y="922" width="6" height="84.5" fill="#17418e"/>
<rect x="537" y="922" width="0.8" height="84.5" fill="#17418e"/>
<rect x="537.4" y="922" width="0.8" height="84.5" fill="#17418e"/>
<rect x="529.2" y="922" width="0.8" height="84.5" fill="#17418e"/>
<rect x="547" y="922" width="0.5" height="84.5" fill="#17418e"/>
<rect x="526.4" y="922" width="0.9" height="84.5" fill="#17418e"/>
<rect x="525" y="922" width="1" height="84.5" fill="#17418e"/>
<rect x="542.9" y="922" width="0.8" height="84.5" fill="#17418e"/>
<rect x="524.2" y="922" width="0.8" height="84.5" fill="#17418e"/>
<rect x="529.4" y="922" width="0.6" height="84.5" fill="#17418e"/>
<rect x="537.3" y="922" width="0.7" height="84.5" fill="#17418e"/>
<rect x="539" y="922" width="0.8" height="84.5" fill="#17418e"/>
<rect x="543.1" y="922" width="0.7" height="84.5" fill="#17418e"/>
<rect x="552.9" y="922" width="1" height="84.5" fill="#17418e"/>
<rect x="544.5" y="922" width="0.7" height="84.5" fill="#17418e"/>
<rect x="532.2" y="922" width="0.5" height="84.5" fill="#17418e"/>
<rect x="535.5" y="922" width="0.9" height="84.5" fill="#17418e"/>
<rect x="551.8" y="922" width="0.9" height="84.5" fill="#17418e"/>
<rect x="529.9" y="922" width="1" height="84.5" fill="#17418e"/>
<rect x="552.4" y="922" width="0.7" height="84.5" fill="#17418e"/>
<rect x="542.2" y="922" width="0.9" height="84.5" fill="#17418e"/>
<rect x="526.3" y="922" width="0.7" height="84.5" fill="#17418e"/>
<rect x="545.9" y="922" width="0.6" height="84.5" fill="#17418e"/>
<rect x="573" y="922" width="0.5" height="84.5" fill="#3f7fa8"/>
<rect x="574.2" y="922" width="0.7" height="84.5" fill="#3f7fa8"/>
<rect x="581.7" y="922" width="0.5" height="84.5" fill="#3f7fa8"/>
<rect x="574.8" y="922" width="0.6" height="84.5" fill="#3f7fa8"/>
<rect x="584.3" y="922" width="0.6" height="84.5" fill="#3f7fa8"/>
<rect x="574.8" y="922" width="0.6" height="84.5" fill="#3f7fa8"/>
<rect x="581.7" y="922" width="0.5" height="84.5" fill="#3f7fa8"/>
<rect x="574.5" y="922" width="0.7" height="84.5" fill="#17418e"/>
<rect x="604.9" y="922" width="0.6" height="84.5" fill="#3a82a0"/>
<rect x="625.6" y="922" width="0.7" height="84.5" fill="#3a82a0"/>
<rect x="604.3" y="922" width="0.8" height="84.5" fill="#3a82a0"/>
<rect x="604.4" y="922" width="0.9" height="84.5" fill="#3a82a0"/>
<rect x="618.5" y="922" width="0.6" height="84.5" fill="#3a82a0"/>
<rect x="614.5" y="922" width="0.8" height="84.5" fill="#3a82a0"/>
<rect x="608.1" y="922" width="0.6" height="84.5" fill="#5fb0aa"/>
<rect x="601.5" y="922" width="0.7" height="84.5" fill="#5fb0aa"/>
<rect x="615.7" y="922" width="0.6" height="84.5" fill="#5fb0aa"/>
<rect x="623" y="922" width="0.6" height="84.5" fill="#5fb0aa"/>
<rect x="624.2" y="922" width="0.8" height="84.5" fill="#5fb0aa"/>
<rect x="615.7" y="922" width="0.7" height="84.5" fill="#5fb0aa"/>
<rect x="600.1" y="922" width="0.9" height="84.5" fill="#5fb0aa"/>
<rect x="615.5" y="922" width="0.6" height="84.5" fill="#5fb0aa"/>
<rect x="619" y="922" width="0.5" height="84.5" fill="#5fb0aa"/>
<rect x="606.8" y="922" width="0.9" height="84.5" fill="#5fb0aa"/>
<path d="M146.8 921.7H822.8M146.8 1006.8H822.8" stroke="#1a1a1a" stroke-width="1.1" fill="none"/>
<text x="2" y="965" font-size="24.4">Medule colors</text>
<text x="4.6" y="492.9" font-size="50.8" fill="#231815">B</text>
<!-- panelC -->
<rect x="1144" y="495.4" width="26" height="94.9" fill="#62bfba"/>
<rect x="1173.4" y="496.2" width="390" height="94.1" fill="#eb9da5"/>
<text x="1136.8" y="550.5" font-size="24.4" text-anchor="end">MEturquoise</text>
<rect x="1144" y="590" width="26" height="94.1" fill="#6bb52d"/>
<rect x="1173.4" y="590" width="390" height="94.1" fill="#d8eef6"/>
<text x="1136.8" y="644.3" font-size="24.4" text-anchor="end">MEgreen</text>
<rect x="1144" y="683.8" width="26" height="94.1" fill="#9e2b2b"/>
<rect x="1173.4" y="683.8" width="390" height="94.1" fill="#b4dcef"/>
<text x="1136.8" y="738" font-size="24.4" text-anchor="end">MEbrown</text>
<rect x="1144" y="777.5" width="26" height="94.1" fill="#1c489c"/>
<rect x="1173.4" y="777.5" width="390" height="94.1" fill="#a0d1ea"/>
<text x="1136.8" y="831.8" font-size="24.4" text-anchor="end">MEblue</text>
<rect x="1144" y="871.3" width="26" height="94.1" fill="#efe93a"/>
<rect x="1173.4" y="871.3" width="390" height="94.1" fill="#b9dff0"/>
<text x="1136.8" y="925.6" font-size="24.4" text-anchor="end">MEyellow</text>
<rect x="1144" y="965.1" width="26" height="94.1" fill="#bebebe"/>
<rect x="1173.4" y="965.1" width="390" height="94.1" fill="#a0d1ea"/>
<text x="1136.8" y="1019.4" font-size="24.4" text-anchor="end">MEgrey</text>
<rect x="1173.4" y="495.8" width="390" height="563.1" fill="none" stroke="#333" stroke-width="1"/>
<text x="1369.4" y="541" font-size="24" text-anchor="middle">0.97</text>
<text x="1368.2" y="569" font-size="21" text-anchor="middle">(1e−109)</text>
<text x="1368.8" y="635.7" font-size="24" text-anchor="middle">−0.37</text>
<text x="1367.9" y="669.2" font-size="21" text-anchor="middle">(6e−07)</text>
<text x="1367.7" y="730.4" font-size="24" text-anchor="middle">−0.70</text>
<text x="1367.9" y="759.7" font-size="21" text-anchor="middle">(2e−27)</text>
<text x="1365.9" y="821.6" font-size="24" text-anchor="middle">−0.92</text>
<text x="1368" y="856.4" font-size="21" text-anchor="middle">(2e−72)</text>
<text x="1364.5" y="921.8" font-size="24" text-anchor="middle">−0.67</text>
<text x="1368" y="952" font-size="21" text-anchor="middle">(3e−24)</text>
<text x="1362.6" y="1007.4" font-size="24" text-anchor="middle">−0.93</text>
<text x="1369.2" y="1036.2" font-size="21" text-anchor="middle">(8e−79)</text>
<defs><linearGradient id="cg" x1="0" y1="0" x2="0" y2="1"><stop offset="0" stop-color="#eb9aa3"/><stop offset="0.5" stop-color="#ffffff"/><stop offset="1" stop-color="#93cbe9"/></linearGradient></defs>
<rect x="1571.1" y="495.8" width="12.4" height="563.1" fill="url(#cg)" stroke="#333" stroke-width="1"/>
<path d="M1583.5 496.4h7.4" stroke="#222" stroke-width="1" fill="none"/>
<text transform="translate(1612 498.5) rotate(-90)" font-size="17.5" text-anchor="middle">1</text>
<path d="M1583.5 637h7.4" stroke="#222" stroke-width="1" fill="none"/>
<text transform="translate(1612 637) rotate(-90)" font-size="17.5" text-anchor="middle">0.5</text>
<path d="M1583.5 777h7.4" stroke="#222" stroke-width="1" fill="none"/>
<text transform="translate(1612 777) rotate(-90)" font-size="17.5" text-anchor="middle">0</text>
<path d="M1583.5 917.6h7.4" stroke="#222" stroke-width="1" fill="none"/>
<text transform="translate(1612 918.5) rotate(-90)" font-size="17.5" text-anchor="middle">−0.5</text>
<path d="M1583.5 1058h7.4" stroke="#222" stroke-width="1" fill="none"/>
<text transform="translate(1612 1064) rotate(-90)" font-size="17.5" text-anchor="middle">−1</text>
<text x="1362.6" y="477" font-size="30.6" text-anchor="middle">Module−trait relationships</text>
<text x="1372" y="1091" font-size="27.4" text-anchor="middle">Psoriasis</text>
<text x="892.4" y="492.4" font-size="50.8" fill="#231815">C</text>
<!-- panelD -->
<path d="M202.7 1126V1595.3M288.9 1126V1595.3M375.1 1126V1595.3M461.3 1126V1595.3M547.5 1126V1595.3M719.9 1126V1595.3M806.1 1126V1595.3M172.9 1563.6H819M172.9 1492.1H819M172.9 1420.6H819M172.9 1349.1H819M172.9 1206.1H819M172.9 1134.6H819" stroke="#e2e2e2" stroke-width="1" fill="none"/>
<path d="M633.7 1126V1595.3M172.9 1277.6H819" stroke="#f2a3a3" stroke-width="1.2" fill="none"/>
<path d="M201.8 1574.2h0M308.8 1520.6h0M323.6 1515.7h0M320.6 1501.5h0M381.8 1533.8h0M391.5 1507.7h0M377.5 1482h0M380.7 1479.4h0M385 1475.3h0M383.7 1484h0M392.5 1483.4h0M396.3 1471.8h0M400.9 1467.8h0M405.7 1464.8h0M401.2 1459.7h0M409.8 1458.4h0M417 1451.9h0M409.2 1491.8h0M419.8 1493.4h0M424 1489.6h0M420.6 1484h0M420.3 1475h0M445.3 1472.1h0M457.2 1488h0M406.6 1432.5h0M411.1 1433.8h0M444.3 1402h0M561.8 1366.3h0M535.4 1358.2h0M635.7 1288.1h0M600.9 1311.3h0M475 1419.9h0M543.1 1339.5h0M575.5 1341.3h0M445.8 1441.1h0M611.2 1281h0M600.1 1323.5h0M608.4 1311.1h0M505.4 1394.3h0M499.7 1386.1h0M582.2 1325.3h0M601.5 1329.1h0M606.3 1324.5h0M658.7 1279.1h0M610.9 1308.9h0M632.3 1268.4h0M653.2 1318.8h0M588.5 1351.1h0M659.3 1284.5h0M571.8 1350.6h0M616.7 1305.7h0M473.5 1426.8h0M620.5 1313.1h0M587.3 1328.4h0M620.3 1346.6h0M563.8 1347.2h0M608.1 1309.4h0M555.2 1348.2h0M656.7 1286.6h0M597.8 1322.4h0M513.7 1369.6h0M616.2 1307.6h0M619.7 1303.4h0M454.9 1422.9h0M581.1 1332.2h0M590.9 1342.2h0M609.8 1317h0M610.6 1314.6h0M535.8 1397.8h0M520.9 1357.9h0M647.6 1315.9h0M610.9 1293.2h0M511.8 1402.4h0M642.9 1279.5h0M600.3 1334.5h0M632.6 1293h0M539.3 1364.4h0M600.7 1293.2h0M579.8 1309.7h0M567.6 1390.3h0M546.4 1366.8h0M537.8 1356.3h0M494.4 1401h0M591 1311.1h0M668.5 1278.9h0M556.3 1381.2h0M514.4 1391.5h0M541.2 1348.4h0M635 1305.4h0M633.5 1292.1h0M473.3 1403.9h0M610.4 1318.1h0M520.8 1359.1h0M637.8 1294.8h0M604 1358.7h0M589.4 1328.6h0M584.3 1345.8h0M627.6 1303h0M630.9 1336.5h0M624.7 1303.5h0M589.8 1299.4h0M631.2 1306.3h0M468.2 1370.6h0M627.8 1314.1h0M602.7 1332.9h0M486.3 1400.3h0M588.8 1310.8h0M644.7 1289.6h0M666.7 1280.8h0M562 1340.7h0M537.8 1388.5h0M641.7 1284.2h0M499.6 1400.9h0M639.8 1302.8h0M650.9 1281.1h0M592.9 1315.1h0M582.3 1317.2h0M482.7 1377.2h0M589.6 1336.5h0M567.2 1338.8h0M608.5 1340.1h0M575.5 1347.4h0M670.8 1279h0M507 1402.3h0M464.9 1396.6h0M596.5 1303.3h0M630.7 1296.2h0M575.4 1283h0M639.3 1293.3h0M522 1375.5h0M651 1297h0M561.3 1327.7h0M616.6 1303.4h0M479.3 1393h0M579.3 1339.1h0M614.8 1289.2h0M622.5 1304.9h0M551.5 1335.5h0M646.2 1290h0M565.8 1337.4h0M471.7 1418h0M558.6 1346h0M433.7 1448.9h0M579.3 1348h0M518.2 1390.8h0M655.7 1290.1h0M636.9 1281.1h0M570.9 1352.2h0M518.2 1366.3h0M493.5 1382.6h0M518.1 1365.1h0M622.4 1316.6h0M482.9 1395.9h0M564.4 1322.2h0M564.8 1360.8h0M574.7 1355.2h0M660.8 1280.5h0M581.9 1372.5h0M588.6 1349.6h0M495.6 1434h0M525.9 1346.8h0M540.2 1402.5h0M599.1 1299h0M579.7 1339.3h0M471.6 1394h0M601.6 1329.2h0M472.5 1435.4h0M613.2 1308.4h0M611.8 1300.7h0M609.6 1307.2h0M562 1383.4h0M607.7 1315.7h0M637.6 1285.8h0M620.7 1273.8h0M585.2 1331.1h0M575.5 1314.3h0M577.9 1357.2h0M601.4 1290.3h0M591.8 1320.7h0M594.9 1333.5h0M560.9 1335.5h0M632 1299.1h0M623.3 1315.3h0M496.2 1413.1h0M568.9 1357.3h0M639 1298.7h0M514.6 1392.5h0M480.7 1407.4h0M462.7 1430.8h0M497.2 1346.6h0M563.2 1364.4h0M575.2 1364.2h0M584.8 1327.4h0M529.9 1385.7h0M438.5 1440.9h0M509 1405h0M539.8 1361.9h0M638.3 1309.6h0M527.3 1395.3h0M595.2 1349.5h0M683.2 1286.1h0M597.9 1297.3h0M526.4 1344.8h0M461.5 1439.8h0M603.8 1319h0M581.4 1332.8h0M498.6 1383.5h0M603.5 1312.3h0M485.7 1400.2h0M529.5 1364.7h0M520.6 1388.9h0M536.4 1373.1h0M546.7 1345.4h0M466.8 1432.3h0M631.1 1301.1h0M618.8 1308.8h0M544.5 1338.6h0M611.5 1285.1h0M641.8 1301.8h0M649.2 1289.9h0M517.1 1349.1h0M644.1 1296h0M613.4 1319.6h0M657.4 1286.4h0M582.3 1319.1h0M529.8 1372.8h0M558 1362.5h0M574.4 1371.5h0M645 1298.5h0M671.6 1279.3h0M612.2 1319.5h0M576.8 1302.9h0M504.5 1367.5h0M589 1303.4h0M663.2 1280.2h0M525.2 1394.8h0M508 1356.7h0M590.9 1317.7h0M556.5 1367h0M631.2 1275.9h0M631.3 1282.4h0M636.3 1310.2h0M524.6 1377.5h0M564.3 1346.7h0M566.7 1358.8h0M645.5 1301.9h0M587.3 1331.1h0M544.4 1399.3h0M565.2 1346.3h0M547.6 1359.7h0M573.1 1321.3h0M573.3 1383.5h0M617.7 1326.4h0M594.2 1338.1h0M589.5 1320.2h0M640.8 1311.5h0M539.4 1358.5h0M547.8 1355.4h0M644.5 1283.5h0M512.2 1404.6h0M559.5 1340.6h0M625.9 1308.5h0M610.7 1330.9h0M472.5 1417.6h0M620.6 1285.5h0M576.6 1303h0M674.7 1283.1h0M493.3 1388.9h0M647.5 1295.1h0M640.9 1289.9h0M570.3 1351.2h0M475.2 1367.4h0M585.9 1327.2h0M612 1339.9h0M579 1362.9h0M625.5 1313.1h0M596.9 1332.2h0M594.7 1330.3h0M543.7 1345.6h0M545.2 1403.1h0M585.7 1338.4h0M529.5 1360.4h0M626.3 1284.4h0M611.8 1311.2h0M615.3 1258h0M441.1 1448.4h0M533.4 1405.3h0M603.5 1313.5h0M618.5 1273.4h0M607 1315.5h0M611.2 1317.5h0M507 1410.9h0M622.7 1287.7h0M598.6 1345.2h0M563.7 1353.2h0M610 1306.9h0M614.5 1294.7h0M537.9 1359.1h0M478.4 1431.8h0M617 1315.8h0M624.5 1302.4h0M640.7 1289.9h0M500.6 1409.6h0M497.5 1392h0M652.1 1279.1h0M537.7 1347h0M531.9 1345.5h0M637.4 1303.2h0M512.4 1401.8h0M535.5 1364h0M528.9 1363h0M647.7 1290.5h0M507.6 1371.6h0M639.4 1280.1h0M553.8 1367.9h0M467.5 1398.2h0M568 1338.7h0M591.9 1307.1h0M632.6 1318.6h0M632.5 1297.4h0M631.8 1324.8h0M624.8 1328.3h0M632.7 1302.9h0M636.5 1322.7h0M647.1 1305.5h0M657.6 1286.6h0M636.4 1289.3h0M466.3 1393.4h0M565.7 1340.4h0M567.3 1367.6h0M649.2 1284.4h0M631 1318.9h0M591.6 1320h0M569.1 1340h0M682.5 1280.2h0M478.1 1381.6h0M634.8 1295.4h0M645.5 1301.7h0M498.6 1402.5h0M566.1 1350.5h0M470.3 1422.4h0M573 1351.1h0M630.5 1289.9h0M605.6 1339.4h0M587.1 1323.7h0M615.1 1282.2h0M629.6 1317.1h0M615.6 1322.3h0M584.3 1339h0M603.1 1329.2h0M555.3 1338.2h0M557.7 1337.8h0M649.1 1282.9h0M612.9 1309.2h0M616.1 1336.4h0M553.2 1373.4h0M611 1312h0M605.5 1306.2h0M621.8 1299h0M512.6 1358.3h0M625.8 1292.4h0M577.3 1365.2h0M508 1365.5h0M636.6 1306.2h0M484.7 1413.9h0M638.7 1285.9h0M573.8 1346.6h0M653.4 1291.8h0M665.1 1282.1h0M472.8 1441.1h0M534.8 1392.1h0M588.2 1311.1h0M555.2 1388.6h0M564.9 1332.6h0M685.2 1279.2h0M599.9 1336.9h0M562.3 1375.4h0M625.3 1294.6h0M558.5 1367.6h0M590.6 1321h0M493.8 1431.4h0M661.9 1292.8h0M500.4 1423h0M563.6 1349.6h0M533.3 1356.4h0M499.9 1381.2h0M614.5 1323.1h0M492.5 1366.3h0M497.7 1388.1h0M634.4 1320.5h0M582.4 1336.4h0M570.6 1349.4h0M585.5 1318.5h0M677 1281.1h0M531.5 1363.5h0M636.1 1313.9h0M631.8 1293.9h0M439.6 1460.9h0M491.9 1418.5h0M564.7 1345.3h0M588.6 1289.8h0M549.6 1363h0M559.3 1367.6h0M521.8 1377.5h0M629.3 1302.2h0M583.2 1323.3h0M618.4 1345.2h0M635.5 1280.2h0M528.9 1353.3h0M581.9 1334.6h0M480.7 1408.4h0M655.2 1300.7h0M631 1331.2h0M620.8 1297.6h0M454.5 1426.6h0M561 1358.2h0M635.2 1314.2h0M572.8 1341h0M537.1 1380.5h0M550.1 1371.2h0M553.4 1360.6h0M628.3 1268.9h0M498 1394.4h0M594 1296.2h0M650.4 1299.2h0M597.7 1325.7h0M634.6 1304.9h0M638.8 1295.9h0M596 1306.9h0M557.5 1342.9h0M547.6 1332h0M640.5 1290.8h0M637.8 1300.3h0M631.5 1307.8h0M492 1380.7h0M581.1 1319.5h0M644.4 1292.6h0M659.2 1278.4h0M516.8 1359.3h0M609.7 1308h0M509.3 1390.5h0M551.7 1365.4h0M560.6 1350.6h0M628.2 1315.7h0M544.8 1388.3h0M574.2 1335.4h0M581.1 1330.3h0M613.2 1295.2h0M627.7 1299.2h0M473 1408.5h0M585.6 1333.5h0M657.4 1289.1h0M653.4 1281.6h0M589.2 1341.5h0M552.4 1337.5h0M583.9 1329.1h0M594.6 1293.2h0M599.3 1323.3h0M490.2 1388.7h0M569.6 1322.2h0M637.8 1288.6h0M663 1299.1h0M564.5 1353h0M655.8 1303.9h0M506.3 1337.2h0M512.1 1378.5h0M537 1405.6h0M613.4 1366.1h0M598.9 1312.1h0M575.3 1372.9h0M642.3 1302.8h0M508.6 1386h0M668.5 1279.6h0M612.8 1298.2h0M638.8 1278.3h0M666.2 1293h0M544 1351.8h0M598.6 1350h0M557.4 1347.8h0M592.6 1329.8h0M458.1 1417.2h0M566.3 1319.3h0M490.1 1426.8h0M504.4 1357.3h0M619.3 1330.1h0M674.9 1282.1h0M624.9 1288.7h0M609.9 1308h0M619.9 1285.8h0M509.4 1373h0M679.4 1294.7h0M635.5 1279.9h0M631.9 1342.5h0M606.9 1321.4h0M464.2 1463h0M600.1 1327.7h0M603.5 1328.5h0M640 1301.8h0M530.6 1348.8h0M598.8 1346.1h0M508 1396.5h0M486.7 1405.8h0M552.5 1367.3h0M510.2 1360.8h0M599.1 1373.2h0M613.3 1292.3h0M554.5 1345.2h0M548 1388.5h0M630.6 1299.5h0M646.9 1304.9h0M498.8 1375.5h0M614.7 1293.2h0M543.4 1339.9h0M548.5 1354.9h0M649.4 1307.5h0M538.7 1364.7h0M591.2 1318.2h0M596.7 1299.1h0M597.4 1336.2h0M510.1 1395.1h0M504.1 1337.9h0M676.3 1281.7h0M614.9 1325.2h0M631.1 1285.4h0M553.8 1372.5h0M646.4 1287h0M575.4 1348.8h0M558.2 1358.7h0M600.2 1327.3h0M650.9 1291h0M487.1 1388.1h0M662.9 1289.1h0M614 1300.3h0M463 1408h0M614.5 1293h0M640.6 1294.8h0M521.8 1378.6h0M612.3 1324.2h0M537.7 1380h0M632.3 1300.8h0M638.2 1309.6h0M529.3 1366.7h0M499.5 1404.7h0M483.1 1371.7h0M599.3 1307.6h0M598.7 1335.3h0M637.7 1293.8h0M560.9 1381.8h0M465.5 1426.4h0M593.9 1327h0M554.6 1379.4h0M479.3 1385.5h0M588.1 1321.4h0M562.5 1340.3h0M586.3 1341.5h0M557.7 1364.6h0M619.6 1326.3h0M536.3 1384.4h0M608.5 1297.4h0M521.9 1387.2h0M564.5 1321h0M488.3 1400.5h0M532 1387.7h0M541.1 1399.8h0M611 1321.7h0M462.8 1411.3h0M560 1343h0M607.7 1307.5h0M607.6 1272.9h0M569.7 1340.3h0M593.2 1334.5h0M551.1 1377.5h0M598.4 1338.5h0M601.3 1342h0M588.4 1371h0M655.8 1288.4h0M640.8 1297.3h0M480.7 1399.7h0M660.5 1289.9h0M470.2 1436h0M592.3 1316.4h0M473.7 1410.3h0M507.9 1370.2h0M611 1321.8h0M682.9 1280.6h0M601 1300h0M631 1285.7h0M659.9 1283.4h0M598 1304.6h0M594.8 1325.9h0M573.5 1355.7h0M568.8 1347.4h0M555.1 1348.2h0M496.4 1401.6h0M558.9 1326.9h0M473.6 1397.8h0M643.7 1283h0M665.9 1277.7h0M632.1 1324.1h0M594.2 1322.1h0M546.6 1379.5h0M559.9 1336.5h0M622.3 1299.5h0M622.4 1312.2h0M660.1 1280.8h0M660.6 1294.6h0M560.7 1343.6h0M590.7 1308.5h0M574 1359.4h0M620.5 1323.2h0M439.8 1423.2h0M669.7 1284.2h0M642.4 1307.7h0M466.6 1415.2h0M450.6 1393.6h0M642.6 1281h0M564.9 1388h0M627.6 1313.3h0M474.5 1385.1h0M619.8 1312.9h0M643.6 1325h0M597.2 1320.8h0M576.3 1340.2h0M613.6 1321.7h0M562.9 1321h0M648.4 1285.8h0M503.3 1367h0M481.8 1393.1h0M547.1 1366.7h0M531.2 1377.5h0M584.5 1343.9h0M585.6 1318.2h0M488.9 1411.8h0M655.2 1296.5h0M632.9 1292.5h0M599.7 1318.6h0M540.2 1376.8h0M610.3 1308.7h0M484.5 1417.8h0M641.8 1283.5h0M644 1310.3h0M630.3 1329.2h0M567.8 1359.9h0M560.3 1355.1h0M579.1 1347.9h0M676.6 1280.2h0M618.8 1313.4h0M606 1312h0M586 1320.8h0M612.1 1287.6h0M607 1308.3h0M592.2 1300.9h0M523.6 1359.4h0M485.9 1399.1h0M645.9 1288.4h0M570.8 1338.2h0M613.5 1311.6h0M608 1338h0M501.2 1393.3h0M502.8 1394.6h0M670 1291.9h0M517.4 1410.4h0M658.9 1287.3h0M659.5 1294.2h0M623.9 1296h0M484.5 1418.5h0M481.5 1404.9h0M478.6 1388.9h0M483 1371h0M631.1 1325.4h0M653.1 1294.3h0M574.7 1361.9h0M640.6 1304.1h0M571.4 1336.1h0M589.7 1318.9h0M677.3 1291.6h0M615.5 1283.4h0M612.7 1314.4h0M561.3 1349.2h0M512.9 1368.1h0M630.7 1290.5h0M498.2 1390.8h0M657.2 1280.6h0M619.5 1308.2h0M559.2 1379.1h0M604.5 1322.2h0M598.6 1317.6h0M495.1 1393.9h0M577.2 1346.5h0M589.5 1331.5h0M529.3 1383.7h0M565.3 1334.2h0M599.2 1310h0M559 1362.6h0M458 1436.1h0M624.9 1297.4h0M517.9 1384.1h0M571.9 1323.2h0M583 1336.5h0M621.9 1284.2h0M557 1375.7h0M546.7 1369h0M675.2 1282.2h0M463.6 1412.8h0M581.3 1388.8h0M585 1289.2h0M620.2 1268.8h0M593.6 1292.2h0M555.2 1330.2h0M458 1383.7h0M632.6 1306.5h0M465.1 1382.3h0M544.1 1353.4h0M644.8 1290.8h0M598.4 1320.5h0M524.9 1371.6h0M498.9 1381.3h0M485.9 1430.4h0M545.1 1383h0M619.8 1308.9h0M626.5 1305.9h0M598.4 1291.4h0M520.3 1397.5h0M483.9 1406.9h0M582.4 1345.5h0M579.3 1348.5h0M467.3 1435.2h0M662.7 1279.4h0M620.8 1314.7h0M569 1328.8h0M535.1 1405h0M643.9 1281.7h0M605.4 1314.5h0M450 1443.8h0M628.7 1300.7h0M571.3 1363.9h0M515.4 1399.6h0M487.3 1386.5h0M649.7 1284.4h0M658.2 1293.4h0M573.5 1323.2h0M520.8 1384.1h0M629.6 1256.8h0M663 1283.4h0M651.4 1299.9h0M628.5 1300.8h0M612.9 1316h0M596.8 1322h0M599.9 1312.4h0M596.3 1324.4h0M610.6 1307h0M485.1 1417.9h0M545.4 1369.3h0M562.4 1365.2h0M529.6 1400.3h0M598.2 1346.5h0M530.9 1380.9h0M586.2 1332.1h0M518.8 1359.4h0M528.4 1358.5h0M483.7 1441.1h0M653.8 1303.4h0M578.6 1327.2h0M611.8 1327.5h0M509.2 1396.6h0M576.6 1349.8h0M647.3 1302.9h0M582.7 1309.7h0M592.1 1349.3h0M498.5 1398.8h0M586.8 1322.2h0M578.7 1348.8h0M546.4 1363h0M598.7 1291.7h0M590.7 1346.2h0M613 1327.1h0M582.3 1355.2h0M597.6 1324.5h0M605.8 1316.7h0M585.5 1305.7h0M647.8 1311.7h0M554 1342.5h0M640.7 1294.1h0M485.5 1407.7h0M665.1 1290h0M607.5 1313.9h0M656.1 1291.8h0M574.1 1385.6h0M594.4 1314.5h0M480.3 1366h0M572.1 1359.5h0M555.8 1354.2h0M595.7 1329.1h0M568.1 1359.5h0M534.4 1358h0M580.4 1361.8h0M500.1 1387h0M605.8 1353.8h0M527 1327.7h0M559.4 1316.2h0M519.4 1375.5h0M639.7 1299.2h0M554.6 1343.1h0M652.6 1280.8h0M607.4 1290.4h0M557.3 1345.6h0M574.7 1359.3h0M573.5 1308.1h0M512.5 1363.6h0M603.1 1342.5h0M577.3 1339.2h0M598.8 1327.9h0M562.9 1363.2h0M621.3 1302.4h0M608.2 1301.9h0M608.8 1316.6h0M567.9 1332.3h0M624.5 1310.7h0M572.1 1355h0M585.8 1344.3h0M612.7 1287.8h0M612.9 1343h0M526.8 1389.2h0M603 1328.6h0M676.2 1285.6h0M581.3 1330.8h0M654.3 1302h0M541.5 1373.4h0M564.1 1307.9h0M492.5 1365.9h0M536.3 1351.9h0M654.8 1300.8h0M458 1424h0M563.2 1305h0M602.6 1325.4h0M661.9 1283.1h0M584.2 1325h0M592.8 1319.7h0M648.9 1281.2h0M571.1 1369.9h0M604.3 1307.7h0M500.3 1376.6h0M515.8 1382.2h0M538.8 1353.4h0M572.6 1348.4h0M635.9 1302.2h0M579.6 1348.4h0M455.1 1453h0M633.2 1297.3h0M552.6 1377h0M533.1 1352.1h0M608.1 1327h0M624.8 1319.4h0M621.4 1301.8h0M523.2 1377h0M555.5 1358.6h0M622.5 1303.8h0M505.6 1410.1h0M558.7 1364.7h0M534.7 1373.3h0M577.1 1330.8h0M636.1 1286.8h0M666 1288.7h0M574.6 1329.4h0M659.3 1278.8h0M547.1 1361h0M463.4 1413.8h0M589 1323.6h0M628.5 1308.3h0M613 1336.5h0M609.9 1334.8h0M590.5 1317.6h0M621 1326.7h0M648.5 1303.1h0M593.8 1332.4h0M535.1 1366.7h0M465.2 1408.2h0M564.5 1328.3h0M502.7 1357.6h0M480.3 1403.2h0M537.2 1367.9h0M577.5 1336.6h0M627.7 1319.4h0M577.4 1314.3h0M627.7 1277.4h0M609.1 1301.6h0M557 1344.3h0M655.5 1294.9h0M654.2 1294.7h0M653.2 1300.1h0M583.1 1357.9h0M604.2 1337.4h0M553.6 1333h0M652.3 1282h0M638.2 1299.5h0M592.3 1332.9h0M622.6 1305h0M547.2 1364.8h0M571.6 1299.4h0M637.6 1278.9h0M561 1330.3h0M630.7 1303h0M512.7 1360.1h0M645.9 1278.5h0M670.3 1281.2h0M615.2 1303h0M526.5 1391.9h0M462.3 1422.8h0M543.9 1389.1h0M566.2 1362.3h0M626 1282.4h0M651.8 1302h0M617.1 1309.9h0M582.4 1354.1h0M633.3 1311.3h0M651.5 1283.3h0M600.3 1320.1h0M638.5 1322h0M452.5 1408.6h0M594.3 1326.3h0M623.2 1271.5h0M634.6 1299.7h0M541.3 1333.1h0M477.4 1417.8h0M593 1335h0M585.9 1328.2h0M542.6 1336.3h0M652.2 1296.8h0M609.1 1300.2h0M523.6 1361.7h0M620.8 1285.5h0M615.7 1318.8h0M629.6 1320.6h0M593.5 1347.8h0M500 1387.7h0M577.6 1356.4h0M579.5 1331.1h0M567.6 1348.2h0M573.3 1318.2h0M622.5 1309.6h0M562.1 1386.6h0M612 1281.8h0M522.5 1388.9h0M571.4 1338.1h0M500.8 1400.7h0M612.8 1291h0M579.6 1320.7h0M667.1 1295.5h0M664.2 1286h0M611.6 1294.1h0M626.7 1287.9h0M655.7 1288h0M518 1416h0M465.9 1418h0M529.1 1379.7h0M540.1 1369.7h0M601.3 1320.2h0M546.5 1389.2h0M595.7 1329.1h0M577.1 1298.3h0M606.2 1340.5h0M602.1 1331.3h0M606.3 1325.6h0M496.3 1400.5h0M637 1320.6h0M541.5 1353h0M604.7 1322.3h0M590.1 1356.9h0M564.2 1331.8h0M609.2 1318.3h0M546.4 1354h0M564 1338.1h0M568.7 1349.9h0M577.1 1367.2h0M618.4 1323.7h0M550.5 1343h0M648.8 1288.3h0M659.9 1293.2h0M586.1 1348.8h0M533.5 1391.6h0M673.9 1282.5h0M633.6 1357h0M591.5 1287.3h0M592.3 1351h0M518.5 1390.1h0M588.5 1298.2h0M615.6 1312.6h0M668.4 1286.6h0M625.1 1311.7h0M463 1413.8h0M488.2 1424.8h0M542.3 1358.7h0M631.1 1296h0M615 1341h0M637.9 1280.5h0M479.5 1388.2h0M624.4 1303.7h0M547.6 1388.5h0M483.1 1409.1h0M595.4 1331.3h0M563.4 1355.3h0M550.6 1342.5h0M663 1294.8h0M487.7 1411.2h0M596.6 1369.3h0M611.3 1329.8h0M629 1309.1h0M627.2 1282.6h0M643.1 1295.6h0M488.8 1417.9h0M628.8 1273.1h0M635 1298.8h0M603.6 1357.9h0M643.9 1304.8h0M496.3 1394.6h0M601.9 1323.2h0M621.3 1323.8h0M681.1 1288.1h0M603.1 1332.1h0M541.2 1353.9h0M598.7 1326.5h0M534.7 1387h0M523.4 1368.2h0M654.7 1297h0M572.2 1344.6h0M499.3 1355.6h0M543.5 1358.5h0M578.4 1323.3h0M600.6 1299h0M653.2 1288.9h0M532.1 1350.8h0M462.2 1451.4h0M523.1 1361.9h0M651.6 1299.5h0M584.2 1360.5h0M550.9 1345.5h0M614.9 1316.6h0M674.5 1283.1h0M614.4 1299.7h0M627 1314.7h0M616.8 1285.2h0M679.8 1291.1h0M566.5 1346.5h0M606.5 1331.7h0M628.2 1292.1h0M613.8 1334.6h0M526.8 1377.6h0M482.1 1397.1h0M604.6 1345.1h0M570.6 1333.2h0M558 1378.7h0M485.7 1437h0M555.2 1354.3h0M589.3 1309.1h0M649.5 1293.2h0M615.3 1332.1h0M624.1 1284.5h0M590.6 1307.9h0M639.6 1321h0M625.7 1307.9h0M569.1 1343.4h0M558.2 1336.6h0M651.4 1289.5h0M564.8 1384.7h0M634.4 1330.1h0M467.3 1418.6h0M636.5 1291.2h0M568.3 1349.3h0M594.9 1292.4h0M623.1 1278.9h0M609.4 1318h0M508.7 1395h0M576.1 1359.2h0M613.9 1330.8h0M522.2 1388.5h0M617.5 1295.9h0M556.4 1362.4h0M620.1 1299.9h0M633.9 1301.6h0M659.9 1287.2h0M497.6 1361.5h0M587.2 1317.1h0M594.3 1313.4h0M604.9 1320.6h0M524.1 1340.5h0M599.4 1325.4h0M599.1 1326.3h0M537.3 1351.2h0M487.4 1366.4h0M620.7 1298.3h0M654.5 1287.1h0M652.6 1285.7h0M556.6 1375.2h0M602.7 1313.8h0M550.2 1360.1h0M619.7 1295.7h0M618 1296.4h0M530.6 1389.8h0M586.5 1346.5h0M531.5 1391.6h0M627.1 1282.8h0M618.3 1303h0M514.6 1381.5h0M581.9 1325.2h0M660.3 1301.5h0M633 1296.7h0M525.7 1385.2h0M571.9 1324.1h0M477.9 1415.8h0M556.3 1357.6h0M629.4 1325.3h0M528.1 1375.6h0M610.6 1309.3h0M622.3 1297.7h0M562.4 1337.2h0M561.6 1364.1h0M581.3 1334.8h0M470.5 1433.8h0M546 1343.2h0M627 1327.6h0M604.6 1327.4h0M487.8 1404.8h0M609.4 1338.5h0M501.3 1382.8h0M512.3 1396.4h0M563.2 1359.6h0M627 1262.6h0M592.7 1319.4h0M530.6 1346.8h0M597.8 1339.2h0M637.8 1312.9h0M629.7 1305.7h0M625.6 1333.1h0M658 1279.5h0M629 1299.6h0M600.2 1301h0M590.3 1312.3h0M552.9 1343.7h0M596.1 1319.5h0M637.9 1295.4h0M606.1 1378.1h0M648.3 1290.9h0M650.6 1278.5h0M554.4 1315.6h0M635.5 1311.2h0M621.7 1304.7h0M520.4 1385.3h0M476.9 1433.3h0M668.7 1283.6h0M574.6 1349.8h0M622.2 1286.8h0M561.3 1350.6h0M634.8 1278.5h0M665.7 1280h0M581.8 1324.2h0M539 1348.7h0M611.6 1311.3h0M629.1 1307.8h0M638 1310.2h0M645 1279.8h0M600.2 1314.4h0M571.8 1339.5h0M611.1 1307.3h0M572.3 1370.1h0M555.7 1355.2h0M526.1 1376.2h0M571 1335h0M511.1 1392.9h0M550.3 1353.2h0M544.6 1369.9h0M606.7 1307.4h0M494.2 1423.3h0M643 1300.5h0M517.9 1384.2h0M517.9 1385.3h0M536 1390h0M672.8 1296.8h0M589.4 1336h0M626.7 1273.5h0M529.5 1364.9h0M616.6 1291.5h0M631.7 1297.5h0M580.3 1334.9h0M625 1307.4h0M653.6 1292.3h0M646.3 1335h0M604.7 1340.5h0M567 1365.7h0M560.1 1380.2h0M668.7 1287.2h0M564 1329.2h0M627.5 1312.2h0M560 1343.9h0M682.4 1283.7h0M628 1286.7h0M624.6 1306.6h0M576 1316.6h0" stroke="#a9ba85" stroke-width="6.7" stroke-linecap="round" fill="none"/>
<path d="M690.9 1251.9h0M644.4 1269.4h0M703.7 1248.4h0M656.6 1256.3h0M754.5 1197.7h0M750.8 1188.2h0M753.9 1185.9h0M704.6 1222.9h0M727 1217h0M683.3 1238.5h0M690.7 1246.3h0M683.3 1268h0M655.8 1254.8h0M685.2 1250.8h0M703.2 1249.6h0M660.9 1271.8h0M771.7 1174.7h0M744.2 1208.1h0M657.2 1255.3h0M738.1 1210.4h0M757 1186h0M745.3 1189.1h0M758.4 1186.1h0M724.2 1217.4h0M676.9 1250.2h0M689.9 1262.6h0M694 1236.4h0M685.2 1247h0M729.8 1210.5h0M692.8 1251.4h0M767.7 1181.2h0M784.6 1162.6h0M667.4 1246.7h0M746.2 1211.6h0M667.7 1271.7h0M744.7 1193.2h0M758 1175.8h0M681 1248.7h0M693.4 1242.8h0M711.9 1230.8h0M672.5 1250.2h0M677.5 1274.8h0M682.5 1256.4h0M754.3 1173.5h0M704.6 1226.4h0M685.2 1257.3h0M691.9 1259.3h0M693.8 1263.1h0M701.1 1218.6h0M730.2 1226.7h0M684.4 1254h0M768.4 1185.8h0M703.8 1220.8h0M675.7 1270.2h0M738.5 1217.8h0M738.7 1177.4h0M677.7 1270h0M691.2 1249.2h0M772 1164.2h0M676.2 1262.2h0M776.9 1151.8h0M698.5 1237.8h0M724.8 1226.6h0M782.8 1152.7h0M702.2 1241h0M682.8 1261.6h0M749.7 1190.3h0M703.8 1232.8h0M686.2 1228.2h0M667.3 1261.2h0M663.6 1276.9h0M717.3 1226.6h0M730.7 1196.5h0M684.3 1253.7h0M709.1 1239.9h0M694.9 1245.2h0M721.2 1224.4h0M700.7 1249.4h0M709.2 1230.6h0M713.1 1220.4h0M744.4 1200.2h0M775.3 1159.3h0M784.7 1155.9h0M703.2 1252.3h0M639.7 1267.2h0M743.6 1182.7h0M685.6 1240.2h0M674.8 1272.9h0M710.3 1233.3h0M693.2 1235.6h0M654.6 1270.7h0M754.1 1178.5h0M673.1 1247.6h0M694.5 1252.5h0M712.7 1232.1h0M781.9 1158.8h0M756 1171.5h0M752.2 1199h0M742.1 1198.4h0M689.1 1226.9h0M695.6 1241.7h0M690.3 1259.6h0M663 1263.1h0M755.8 1180.9h0M779.8 1158.9h0M665.4 1277.4h0M661.3 1275.6h0M708.3 1221.8h0M748.7 1181.6h0M698.4 1218h0M663.5 1276.7h0M758.6 1164.5h0M723.1 1226.2h0M705.8 1219.6h0M712.6 1233.8h0M768.7 1162.2h0M716 1218.2h0M776 1170.6h0M698.1 1248.1h0M701 1246.4h0M663.8 1248.1h0M700.3 1253.8h0M713.4 1210.4h0M670 1275.5h0M748.1 1196.6h0M668.6 1215.3h0M727 1218.6h0M758.9 1185h0M687 1245.9h0M677.5 1261.7h0M703 1243.1h0M766.4 1173.3h0M664.9 1261.9h0M643 1263.6h0M651.8 1276.9h0M717.7 1231.1h0M711.7 1222.5h0M652.5 1249.7h0M776.2 1164.9h0M651.6 1258.8h0M669.3 1272.2h0M710.5 1225.1h0M676.3 1252.7h0M685.5 1267.3h0M677 1262.1h0M678.4 1260.4h0M693.2 1247.9h0M767.2 1182.3h0M722.5 1247.4h0M676.1 1261.3h0M684.6 1253.2h0M679.3 1239.5h0M758.4 1170.7h0M716.2 1242.5h0M674.3 1249.6h0M780.9 1164.3h0M661.9 1252.1h0M758.6 1190.4h0M736.8 1193.7h0M679.7 1262.8h0M739.5 1192h0M699.8 1209.2h0M732.6 1205.7h0M691.3 1254.4h0M747.3 1196.3h0M682.4 1269.9h0M682.8 1236.6h0M715 1241.3h0M687.1 1247.8h0M685.6 1226.6h0M776.8 1160.8h0M655.2 1267.1h0M767.5 1175.2h0M705.6 1238.8h0M722.7 1244.8h0M710.7 1234h0M677.4 1272.4h0M674.7 1268.2h0M673 1263.1h0M762.8 1185.9h0M666.5 1276.1h0M709.6 1232.4h0M745.2 1191.3h0M656.4 1266.8h0M752.4 1195.5h0M675 1268.6h0M659.2 1262.5h0M735.1 1187h0M737.3 1207.6h0M731.9 1188.9h0M724 1211.7h0M700.5 1221h0M775.2 1159.5h0M698.5 1260.4h0M681.9 1248.7h0M643.1 1276.3h0M675.5 1255.3h0M685.8 1275.6h0M655.6 1261.3h0M686 1261.4h0M687.8 1263.3h0M715.1 1212.8h0M670.1 1221.2h0M714.5 1254.1h0M707.3 1248.8h0M758.8 1169.8h0M693.9 1241.7h0M718.6 1226.3h0M647.6 1267.7h0M700.8 1240.5h0M684.3 1241.1h0M785.1 1148.6h0M703.3 1250.5h0M697.6 1239.7h0M710.2 1249.5h0M710.7 1227.6h0M678.4 1254h0M668.9 1267.5h0M705.7 1223.5h0M706.8 1225.3h0M763.1 1186.7h0M759.9 1176.4h0M655.6 1232.2h0M696.7 1233.3h0M744.8 1194.6h0M691 1254.4h0M693.5 1226.3h0M741.3 1203.3h0M701.3 1236.2h0M673.9 1267h0M685 1261.5h0M703.6 1240.8h0M677.7 1246.9h0M744.2 1197.9h0M680.6 1266.3h0M691.3 1248.3h0M769.4 1153.4h0M728.5 1196.2h0M676 1262.8h0M692.4 1244.7h0M760.5 1168.2h0M675.2 1276.1h0M730.6 1211.7h0M684.2 1249h0M667.2 1268.9h0M737.5 1185.9h0M672 1248.4h0M699.6 1231.3h0M726.9 1226.8h0M732.2 1204.9h0M709.6 1211.1h0M707.3 1223.2h0M675.2 1253.5h0M706.7 1238.3h0M692.2 1240h0M664.4 1271.7h0M717.1 1203.8h0M691.7 1239.4h0M707.7 1230.5h0M735 1197.5h0M668.1 1261.8h0M786.1 1149.2h0M671.5 1275.5h0M689.2 1243h0M702.7 1235.5h0M732.7 1213h0M705.5 1232h0M766.9 1168.1h0M777 1160.8h0M679.2 1274h0M741 1214.3h0M695.8 1248.5h0M664.8 1264.2h0M754.6 1189.4h0M751.3 1187.6h0M697 1263.1h0M680.5 1247.3h0M665.8 1272.1h0M714.7 1237.3h0M776 1173.2h0M752 1196.9h0M749.2 1179.6h0M663.4 1270.6h0M715.1 1199.8h0M695 1237.8h0M704.8 1230.8h0M746.6 1184.5h0M736.3 1231.3h0M701.4 1234.1h0M731.7 1219.5h0M687.9 1275.8h0M704.4 1253.2h0M693.1 1252.2h0M682.5 1263.7h0M751.1 1184.1h0M751.3 1180.2h0M679.4 1264h0M729.1 1197.3h0M640.7 1261.3h0M763.3 1203.7h0M659.5 1270.9h0M755.4 1190.8h0M685.4 1256.8h0M709.1 1236.4h0M700.6 1241.2h0M688.6 1247.9h0M671.1 1256.3h0M686.7 1257.5h0M691.5 1244.7h0M706.8 1228.5h0M691.1 1250.5h0M731.2 1202.2h0M733.9 1205.4h0M752.2 1190h0M709.3 1224.1h0M659.8 1259.6h0M747.5 1188.6h0M696.2 1258.6h0M715.2 1208.4h0M724.3 1228.2h0M718.2 1225h0M688.1 1239.5h0M674.3 1272.4h0M690.1 1257.5h0M718.5 1234.5h0M732.7 1211.4h0M719.2 1225.2h0M680.2 1272h0M699.7 1230.2h0M665.1 1267.4h0M692.7 1253h0M762.2 1164.5h0M724.3 1216.8h0M672.6 1260.5h0M661.9 1232.5h0M758.7 1179.3h0M705 1251.3h0M696.8 1217.4h0M727.1 1209h0M706 1235.2h0M774.3 1178.9h0M740.1 1199.2h0M684.2 1227.1h0M683.1 1253.9h0M652 1264.8h0M706.9 1245.2h0M669.7 1268.3h0M672.6 1269.2h0M768.8 1162.1h0M733.5 1204.1h0M739.4 1203.7h0M721.4 1206.4h0M748.1 1197.6h0M664.6 1264.9h0M695.1 1236.2h0M741.1 1204.9h0M726 1202.6h0M724 1209.1h0M658.4 1277.6h0M731.7 1243.9h0M702 1249.9h0M677.3 1254.2h0M759.1 1182.4h0M670.4 1270.6h0M695.8 1260.5h0M693.8 1246.7h0M756.9 1196.5h0M692.4 1252.8h0M696.7 1264.8h0M720.2 1222.2h0M639 1277.5h0M701.5 1222.4h0M759.5 1178.9h0M701.4 1249.5h0M728.9 1226.5h0M693.1 1254.6h0M736.8 1212.5h0M700.5 1258.5h0M704.7 1225.6h0M715.6 1208.5h0M673.1 1268.5h0M724.5 1214.1h0M710.9 1237.2h0M732.4 1185.8h0M727 1235.8h0M728 1217.1h0M701.5 1258.6h0M664.3 1245.9h0M642.6 1274.2h0M750.6 1182.3h0M782.5 1153.4h0M639.7 1268h0M639.3 1275.4h0M730.4 1224.3h0M676.9 1270.1h0M635.2 1274.9h0M692.9 1246.4h0M760.2 1174.1h0M749.1 1197h0M689.5 1249.8h0M672.9 1274.2h0M727.9 1211.1h0M671.8 1269.3h0M730.9 1225.3h0M685.9 1254.2h0M736.9 1208.7h0M685.4 1260.9h0M729.5 1239.5h0M656.8 1261.7h0M729.8 1231.4h0M691.9 1250.1h0M762.1 1185.2h0M787.8 1150.5h0M666.4 1258.7h0M716.7 1230.6h0M687.3 1254.9h0M703.7 1232.4h0M739.6 1203.2h0M680.6 1256.1h0M712.2 1231h0M729.2 1198.1h0M705.5 1232.8h0M724.7 1233.7h0M650 1269.9h0M722.5 1222.2h0M750.7 1186.3h0M653.8 1270.6h0M677.4 1255.2h0M723.6 1239.8h0M703 1229.2h0M724.2 1213.6h0M679.6 1273.2h0M672.9 1248.4h0M677 1253.7h0M751.2 1200.2h0M673.5 1242.8h0M683.7 1250.2h0M685.3 1261.8h0M697.2 1251.2h0M732.1 1208.4h0M719.4 1201.8h0M721.5 1222.1h0M688.1 1256h0M710.6 1234.1h0M662.4 1241.9h0M785.5 1156h0M759.6 1175.9h0M686 1243.7h0M707.4 1230.7h0M715.8 1242.5h0M762.6 1177.4h0M692.8 1230.7h0M696.3 1237.7h0M659.2 1256h0M713.3 1246.8h0M671.7 1248.6h0M695.9 1272.2h0M634.6 1276.1h0M771.5 1178.7h0M719.2 1215h0M652.9 1261.5h0M733.9 1214.6h0M671.2 1254.6h0M741.1 1192.1h0M697.6 1248.4h0M763.9 1170.1h0M683.3 1241.8h0M681.3 1252.6h0M661.8 1252.9h0M755.5 1186h0M655.9 1267.2h0M742.1 1201.2h0M698.2 1232.4h0M650.8 1273.9h0M710.3 1238.9h0M681.2 1263.7h0M734 1213.6h0M749.8 1204.2h0M689.7 1246.4h0M715.2 1219.5h0M693.3 1262.4h0M687.8 1244.2h0M692.4 1237.9h0M735.7 1215.7h0M712.1 1235.3h0M702.8 1248.2h0M754.8 1191.9h0M745.4 1219h0M742 1202.7h0M724.1 1222.2h0M674.9 1277.1h0M658.9 1266.9h0M714.2 1228.8h0M686.3 1238.3h0M745.8 1218.1h0M716.3 1223.9h0M676.9 1277.3h0M689.9 1269.1h0M727.2 1199.1h0M691.6 1244.1h0M694 1254.6h0M729.6 1215.8h0M692 1235.4h0M723.1 1232.9h0M684.9 1253.9h0M759.7 1182.2h0M763.4 1186.6h0M765.5 1171.3h0M668.1 1273.7h0M704.4 1245.6h0M694.3 1255.2h0M741.4 1207.9h0M705.8 1230.6h0M688.6 1249h0M663.3 1239.3h0M705.7 1232.1h0M728 1232.7h0M709.4 1255.3h0M704.8 1235.6h0M737.7 1205.7h0M728.2 1196.5h0M705.9 1234.1h0M701.3 1262.3h0M697.2 1261.9h0M740.4 1197.1h0M708.9 1241.5h0M670.6 1271.8h0M764.3 1180.3h0M703.8 1223.6h0M714.6 1250.9h0M673.5 1256.5h0M665.3 1258.9h0M737.1 1227.4h0M780.5 1155.5h0M763.8 1170.7h0M695.4 1232.5h0M747 1189.1h0M769.4 1190.7h0M734 1197.6h0M703.8 1240.2h0M669.6 1276.8h0M701.4 1241h0M652 1269h0M720.3 1226.6h0M704.6 1233.3h0M657.1 1267h0M728.4 1225.5h0M711.8 1220.5h0M666.2 1264.1h0M674.8 1267h0M718 1222.5h0M709.5 1225.7h0M756.9 1191h0M681.2 1264.5h0M726.8 1213.7h0M687.9 1255.9h0M663 1263.7h0M743.7 1189h0M727.4 1205.8h0M674.9 1231.4h0M737.7 1192.3h0M664.4 1262.7h0M720 1237.5h0M678.4 1254.6h0M704.1 1240.1h0M726.8 1223.6h0M643.3 1272.3h0M716.2 1225.6h0M743.9 1189.2h0M733.8 1198h0M675.2 1274h0M759.5 1184.2h0M661 1250.7h0M699 1248.3h0M696 1256.3h0M691.5 1249.6h0M677.2 1264.8h0M708.3 1238.2h0M669.1 1273.5h0M679.9 1244.6h0M698.4 1249.4h0M655.8 1269.4h0M655 1277.2h0M660.1 1271h0M709.2 1242.1h0M732.1 1200.6h0M729.9 1216h0M711.7 1234.6h0M756.6 1204.7h0M730.9 1194.7h0M757.6 1164.1h0M706.6 1205.8h0M663.9 1253.2h0M717.9 1220.2h0M674.3 1244.2h0M701.3 1227.9h0M762.5 1178.8h0M716 1228.9h0M657.1 1265.1h0M655.3 1258.9h0M716.1 1217.1h0M652.4 1267.3h0M750.1 1187.1h0M730.2 1208.1h0M746.3 1197.7h0M740.5 1190h0M713.2 1241.5h0M726.4 1228.1h0M757.8 1164h0M702.7 1221.6h0M696 1225.3h0M653.2 1256.7h0M708.8 1231.8h0M670.8 1252.6h0M683.8 1247.7h0M689.7 1227.7h0M683 1268.9h0M759.1 1172.1h0M679.2 1254.5h0M691.6 1250.7h0M780.9 1157.5h0M681.4 1272.5h0M711.9 1246.2h0M711.8 1231.8h0M771 1170.7h0M659.7 1261.8h0M671.5 1238.1h0M768 1168h0M663.1 1260.3h0M638.2 1269.3h0M684.1 1251.1h0M771.4 1178.8h0M718.2 1253.2h0M728.6 1212h0M651.9 1268.3h0M688.9 1253.5h0M685.9 1270.8h0M727.6 1218.2h0M687.9 1253.8h0M744.5 1198.6h0M723.2 1219.4h0M712.6 1208.5h0M694 1262h0M751.4 1175.9h0M740.2 1185.7h0M673.5 1252.2h0M772.7 1167.1h0M707.5 1250.1h0M667.7 1259.8h0M700.7 1255h0M692.7 1252.3h0M736.6 1212.1h0M732.7 1213.3h0M734.2 1214.1h0M679.9 1252.9h0M740 1201h0M672.2 1258.9h0M767.1 1166.1h0M724.4 1236.9h0M684.8 1267.4h0M725.1 1214.8h0M727.3 1237.8h0M768.4 1174.4h0M665.7 1259.9h0M646.5 1256.8h0M725.5 1221h0M758.2 1183.1h0M699.2 1256.4h0M727.9 1204.8h0M682.1 1238h0M689.3 1254.1h0M660.2 1253h0M657.3 1277.1h0M709.6 1244.9h0M694.6 1254.1h0M761.1 1167.1h0M724.9 1223.5h0M655.3 1276.1h0M658.3 1271.6h0M687.4 1260.9h0M719.2 1233.4h0M732.5 1197.9h0M740.1 1203h0M715.4 1231.2h0M712.2 1220.1h0M738.8 1176.7h0M680.3 1258.4h0M768 1177.4h0M657.6 1268h0M767.7 1179.3h0M677 1275.7h0M692.4 1246.6h0M696.2 1231.6h0M727.1 1201.7h0M686.4 1265.4h0M716.3 1232h0M760.9 1185.6h0M664 1259.9h0M685.5 1260.2h0M663 1267.4h0M687.4 1230.2h0M658.1 1271.1h0M697.6 1234h0M712.9 1222.2h0M719.7 1223.2h0M684.3 1218.8h0M684.8 1260.3h0M705.5 1227.6h0M650 1277.6h0M749.1 1187.2h0M760.1 1195.3h0M660.2 1267.7h0M672.9 1251.6h0M713.2 1224.9h0M755.1 1190.7h0M705.9 1232.2h0M730.5 1208.3h0M708.6 1221.9h0M643.2 1241.9h0M714.1 1235.3h0M710.8 1222.1h0M683.3 1252h0M772.3 1173.6h0M683.2 1268.4h0M753.1 1189.1h0M714.7 1226h0M689.8 1255.9h0M691.7 1222.2h0M701 1254.4h0M678.6 1267.4h0M675.2 1232h0M681.6 1245.1h0M675.3 1263.6h0M725.6 1252.2h0M744.5 1203.9h0M748.5 1204.3h0M645.2 1275.9h0M682.9 1237.8h0M726.2 1210.2h0M678.7 1261.5h0M642.4 1264.5h0M671.7 1267.5h0M740.2 1204.8h0M727.8 1224h0M709.8 1219.6h0M766.6 1170.1h0M747.6 1190.8h0M687.6 1255.7h0M663.8 1256.8h0M753.1 1182.7h0M746.6 1191.8h0M647.5 1274.6h0M670.3 1257.3h0M683 1269h0M749.3 1189.7h0M677.9 1263.2h0M706.6 1223.7h0M719.9 1212.9h0M679.7 1249.6h0M716 1227.9h0M777.8 1163.7h0M747 1201.1h0M754 1182.4h0M697.8 1253.6h0M660.6 1257.1h0M661.3 1268.5h0M691.8 1243.8h0M748.7 1198.8h0M765.7 1171.4h0M708.1 1227.9h0M713 1221.7h0M687.7 1245.9h0M698.8 1248.4h0M734.7 1224.2h0M675.2 1266.6h0M739.8 1189.2h0M644.5 1269.9h0M704.2 1225.1h0M644.6 1262.1h0M700.9 1271.9h0M718.1 1223.4h0M660.5 1258.5h0M744.1 1194.2h0M661.9 1259.9h0M761.8 1178.2h0M724.2 1214.4h0M734.3 1217.2h0M645.4 1271.3h0M645.7 1244.6h0M659.8 1267.4h0M724.2 1240.7h0M660.6 1269.9h0M667.5 1275.9h0M689.8 1221.3h0M739.4 1214.7h0M725.7 1214.7h0M657.8 1273.5h0M661.3 1269h0M676.7 1273.9h0M762.1 1177.1h0M652.8 1272.7h0M728.2 1233.6h0M669.6 1273.4h0M709 1229.4h0M736.9 1215.9h0" stroke="#fd9f70" stroke-width="6.7" stroke-linecap="round" fill="none"/>
<rect x="172.9" y="1126" width="646.1" height="469.3" fill="none" stroke="#383838" stroke-width="1.1"/>
<text x="163.6" y="1570.5" font-size="20.4" text-anchor="end">0.4</text>
<text x="288.9" y="1615.3" font-size="20.4" text-anchor="middle">0.4</text>
<text x="163.6" y="1427.5" font-size="20.4" text-anchor="end">0.6</text>
<text x="461.3" y="1615.3" font-size="20.4" text-anchor="middle">0.6</text>
<text x="163.6" y="1284.5" font-size="20.4" text-anchor="end">0.8</text>
<text x="633.7" y="1615.3" font-size="20.4" text-anchor="middle">0.8</text>
<text x="163.6" y="1141.5" font-size="20.4" text-anchor="end">1.0</text>
<text x="806.1" y="1615.3" font-size="20.4" text-anchor="middle">1.0</text>
<text x="488.4" y="1087.4" font-size="30.5" text-anchor="middle">Module membership &amp; gene significance</text>
<text x="520.3" y="1652.2" font-size="24.5" text-anchor="middle">Module Membership in turquoise module</text>
<text transform="translate(105.5 1345) rotate(-90)" font-size="24.2" text-anchor="middle">Gene significance for PSO</text>
<text x="3.6" y="1107.1" font-size="50.8" fill="#231815">D</text>
<!-- panelE -->
<circle cx="322.3" cy="1928.7" r="138.1" fill="#abc3b8"/>
<circle cx="517.5" cy="1928.7" r="138.1" fill="#f29c8f" fill-opacity="0.76"/>
<text x="291.6" y="1783.1" font-size="26.6" text-anchor="middle">Turquoise genes</text>
<text x="559" y="1783.1" font-size="27.4" text-anchor="middle">Common DHK genes</text>
<text transform="translate(292.3 1935.8) scale(1 1.08)" font-size="29.7" text-anchor="middle">1926</text>
<text transform="translate(422.6 1935.8) scale(1 1.08)" font-size="29.7" text-anchor="middle">73</text>
<text transform="translate(565.2 1935.8) scale(1 1.08)" font-size="29.7" text-anchor="middle">15</text>
<text x="416.2" y="2094.3" font-size="30" text-anchor="middle">P = 4.45e-60</text>
<path d="M420.6 1958.5L420 2056" stroke="#231815" stroke-width="1.3" fill="none"/>
<path d="M414.3 2051.2L420 2065.2L425.7 2051.2L420 2054.5Z" fill="#231815"/>
<circle cx="322.3" cy="2313.7" r="138.1" fill="#abc3b8"/>
<circle cx="517.5" cy="2313.7" r="138.1" fill="#f29c8f" fill-opacity="0.76"/>
<text x="281" y="2166.8" font-size="27.4" text-anchor="middle">Turquoise hub genes</text>
<text x="559" y="2166.8" font-size="27.4" text-anchor="middle">Common DHK genes</text>
<text transform="translate(285.8 2320) scale(1 1.08)" font-size="29.7" text-anchor="middle">793</text>
<text transform="translate(418.7 2320) scale(1 1.08)" font-size="29.7" text-anchor="middle">34</text>
<text transform="translate(562.7 2320) scale(1 1.08)" font-size="29.7" text-anchor="middle">54</text>
<text x="408.8" y="2479.2" font-size="30" text-anchor="middle">P = 1.15e-15</text>
<path d="M420.6 2344.5L420 2442.3" stroke="#231815" stroke-width="1.3" fill="none"/>
<path d="M414.3 2437.5L420 2451.5L425.7 2437.5L420 2440.8Z" fill="#231815"/>
<text x="6.6" y="1756.2" font-size="50.8" fill="#231815">E</text>
<!-- panelF -->
<path d="M1347 1145.4V1838.6M1390.6 1145.4V1838.6M1434.2 1145.4V1838.6M1477.8 1145.4V1838.6M1521.4 1145.4V1838.6M1565 1145.4V1838.6M1608.6 1145.4V1838.6M1334.3 1165.5H1621.6M1334.3 1199.8H1621.6M1334.3 1234.2H1621.6M1334.3 1268.5H1621.6M1334.3 1302.8H1621.6M1334.3 1337.2H1621.6M1334.3 1371.5H1621.6M1334.3 1405.8H1621.6M1334.3 1440.1H1621.6M1334.3 1474.5H1621.6M1334.3 1508.8H1621.6M1334.3 1543.1H1621.6M1334.3 1577.5H1621.6M1334.3 1611.8H1621.6M1334.3 1646.1H1621.6M1334.3 1680.4H1621.6M1334.3 1714.8H1621.6M1334.3 1749.1H1621.6M1334.3 1783.4H1621.6M1334.3 1817.8H1621.6" stroke="#ebebeb" stroke-width="1" fill="none"/>
<circle cx="1608.6" cy="1165.5" r="10.61" fill="#a3d76a"/>
<circle cx="1565" cy="1199.8" r="10.2" fill="#a3d76a"/>
<circle cx="1521.4" cy="1234.2" r="9.06" fill="#abd465"/>
<circle cx="1521.4" cy="1268.5" r="9.27" fill="#a3d76a"/>
<circle cx="1477.8" cy="1302.8" r="8.24" fill="#cdc462"/>
<circle cx="1434.2" cy="1337.2" r="7.0" fill="#e0ba5f"/>
<circle cx="1434.2" cy="1371.5" r="7.0" fill="#e0ba5f"/>
<circle cx="1434.2" cy="1405.8" r="7.21" fill="#a3d76a"/>
<circle cx="1390.6" cy="1440.1" r="5.97" fill="#f4ac5c"/>
<circle cx="1390.6" cy="1474.5" r="5.97" fill="#f4ac5c"/>
<circle cx="1390.6" cy="1508.8" r="6.08" fill="#f4ac5c"/>
<circle cx="1390.6" cy="1543.1" r="5.77" fill="#f4ac5c"/>
<circle cx="1390.6" cy="1577.5" r="5.36" fill="#bfcb66"/>
<circle cx="1390.6" cy="1611.8" r="6.18" fill="#b5cf66"/>
<circle cx="1390.6" cy="1646.1" r="6.18" fill="#a3d76a"/>
<circle cx="1390.6" cy="1680.4" r="5.36" fill="#a3d76a"/>
<circle cx="1390.6" cy="1714.8" r="6.8" fill="#a3d76a"/>
<circle cx="1390.6" cy="1749.1" r="6.8" fill="#a3d76a"/>
<circle cx="1347" cy="1783.4" r="2.58" fill="#b2cf60"/>
<circle cx="1347" cy="1817.8" r="2.58" fill="#b2cf60"/>
<rect x="1334.3" y="1145.4" width="287.3" height="693.2" fill="none" stroke="#7f7f7f" stroke-width="1"/>
<path d="M1334.3 1165.5h-3.2M1334.3 1199.8h-3.2M1334.3 1234.2h-3.2M1334.3 1268.5h-3.2M1334.3 1302.8h-3.2M1334.3 1337.2h-3.2M1334.3 1371.5h-3.2M1334.3 1405.8h-3.2M1334.3 1440.1h-3.2M1334.3 1474.5h-3.2M1334.3 1508.8h-3.2M1334.3 1543.1h-3.2M1334.3 1577.5h-3.2M1334.3 1611.8h-3.2M1334.3 1646.1h-3.2M1334.3 1680.4h-3.2M1334.3 1714.8h-3.2M1334.3 1749.1h-3.2M1334.3 1783.4h-3.2M1334.3 1817.8h-3.2" stroke="#666" stroke-width="1" fill="none"/>
<text x="1327.3" y="1172.4" font-size="22.0" text-anchor="end" fill="#4d4d4d">positive regulation of cytokine production</text>
<text x="1327.3" y="1206.7" font-size="22.0" text-anchor="end" fill="#4d4d4d">epidermis development</text>
<text x="1327.3" y="1241.1" font-size="22.0" text-anchor="end" fill="#4d4d4d">regulation of innate immune response</text>
<text x="1327.3" y="1275.4" font-size="22.0" text-anchor="end" fill="#4d4d4d">regulation of inflammatory response</text>
<text x="1327.3" y="1309.7" font-size="22.0" text-anchor="end" fill="#4d4d4d">positive regulation of innate immune response</text>
<text x="1327.3" y="1333.2" font-size="22.0" text-anchor="end" fill="#4d4d4d">regulation of tumor necrosis factor</text>
<text x="1327.3" y="1351.8" font-size="22.0" text-anchor="end" fill="#4d4d4d">superfamily cytokine production</text>
<text x="1327.3" y="1378.4" font-size="22.0" text-anchor="end" fill="#4d4d4d">tumor necrosis factor superfamily cytokine production</text>
<text x="1327.3" y="1412.7" font-size="22.0" text-anchor="end" fill="#4d4d4d">alpha−beta T cell activation</text>
<text x="1327.3" y="1447" font-size="22.0" text-anchor="end" fill="#4d4d4d">regulation of interleukin−1 beta production</text>
<text x="1327.3" y="1481.4" font-size="22.0" text-anchor="end" fill="#4d4d4d">interleukin−1 beta production</text>
<text x="1327.3" y="1515.7" font-size="22.0" text-anchor="end" fill="#4d4d4d">alpha−beta T cell differentiation</text>
<text x="1327.3" y="1539.1" font-size="22.0" text-anchor="end" fill="#4d4d4d">positive regulation of tumor necrosis factor</text>
<text x="1327.3" y="1557.7" font-size="22.0" text-anchor="end" fill="#4d4d4d">superfamily cytokine production</text>
<text x="1327.3" y="1584.4" font-size="22.0" text-anchor="end" fill="#4d4d4d">positive regulation of interleukin−1 production</text>
<text x="1327.3" y="1618.7" font-size="22.0" text-anchor="end" fill="#4d4d4d">cellular response to type II interferon</text>
<text x="1327.3" y="1653" font-size="22.0" text-anchor="end" fill="#4d4d4d">interferon−mediated signaling pathway</text>
<text x="1327.3" y="1687.3" font-size="22.0" text-anchor="end" fill="#4d4d4d">positive regulation of interleukin−1 beta production</text>
<text x="1327.3" y="1721.7" font-size="22.0" text-anchor="end" fill="#4d4d4d">response to type II interferon</text>
<text x="1327.3" y="1756" font-size="22.0" text-anchor="end" fill="#4d4d4d">CD4−positive, alpha−beta T cell activation</text>
<text x="1327.3" y="1790.3" font-size="22.0" text-anchor="end" fill="#4d4d4d">cellular response to interleukin−17</text>
<text x="1327.3" y="1824.7" font-size="22.0" text-anchor="end" fill="#4d4d4d">response to interleukin−17</text>
<path d="M1390.6 1838.6v3.2M1477.8 1838.6v3.2M1565 1838.6v3.2" stroke="#666" stroke-width="1" fill="none"/>
<text x="1397.2" y="1861.5" font-size="22" text-anchor="middle" fill="#4d4d4d">0.02</text>
<text x="1484.4" y="1861.5" font-size="22" text-anchor="middle" fill="#4d4d4d">0.04</text>
<text x="1571.6" y="1861.5" font-size="22" text-anchor="middle" fill="#4d4d4d">0.06</text>
<text x="1490.5" y="1887.4" font-size="24.5" text-anchor="middle">GeneRatio</text>
<text x="1334.6" y="1132.5" font-size="30.5">GO enrichment analysis</text>
<text x="1644" y="1217.6" font-size="24">p.adjust</text>
<defs><linearGradient id="fg" x1="0" y1="0" x2="0" y2="1"><stop offset="0" stop-color="#fbab60"/><stop offset="0.5" stop-color="#d3c162"/><stop offset="1" stop-color="#a3d76a"/></linearGradient></defs>
<rect x="1642.2" y="1255.5" width="26.4" height="157" fill="url(#fg)"/>
<path d="M1642.2 1278.3h5.3M1668.6 1278.3h-5.3" stroke="#fff" stroke-width="0.8" stroke-opacity="0.8" fill="none"/>
<text x="1676.5" y="1287.8" font-size="21">0.003</text>
<path d="M1642.2 1322.7h5.3M1668.6 1322.7h-5.3" stroke="#fff" stroke-width="0.8" stroke-opacity="0.8" fill="none"/>
<text x="1676.5" y="1331.2" font-size="21">0.002</text>
<path d="M1642.2 1367.2h5.3M1668.6 1367.2h-5.3" stroke="#fff" stroke-width="0.8" stroke-opacity="0.8" fill="none"/>
<text x="1676.5" y="1373.6" font-size="21">0.001</text>
<text x="1642.6" y="1555" font-size="24">Count</text>
<circle cx="1658.1" cy="1593.8" r="4.9" fill="none" stroke="#000" stroke-width="1.2"/>
<text x="1680.3" y="1601.8" font-size="23.3">10</text>
<circle cx="1658.1" cy="1620.1" r="6.8" fill="none" stroke="#000" stroke-width="1.2"/>
<text x="1680.3" y="1628.1" font-size="23.3">20</text>
<circle cx="1658.1" cy="1646.4" r="8.2" fill="none" stroke="#000" stroke-width="1.2"/>
<text x="1680.3" y="1654.4" font-size="23.3">30</text>
<circle cx="1658.1" cy="1672.8" r="9.6" fill="none" stroke="#000" stroke-width="1.2"/>
<text x="1680.3" y="1680.8" font-size="23.3">40</text>
<circle cx="1658.1" cy="1699.1" r="10.7" fill="none" stroke="#000" stroke-width="1.2"/>
<text x="1680.3" y="1707.1" font-size="23.3">50</text>
<text x="895.2" y="1107.2" font-size="50.8" fill="#231815">F</text>
<!-- panelG -->
<path d="M1347.2 1955.7V2443.7M1384.5 1955.7V2443.7M1421.8 1955.7V2443.7M1459.2 1955.7V2443.7M1496.5 1955.7V2443.7M1533.9 1955.7V2443.7M1571.2 1955.7V2443.7M1608.6 1955.7V2443.7M1333.8 1973.5H1621.6M1333.8 2003.7H1621.6M1333.8 2033.8H1621.6M1333.8 2064H1621.6M1333.8 2094.1H1621.6M1333.8 2124.3H1621.6M1333.8 2154.5H1621.6M1333.8 2184.6H1621.6M1333.8 2214.8H1621.6M1333.8 2244.9H1621.6M1333.8 2275.1H1621.6M1333.8 2305.3H1621.6M1333.8 2335.4H1621.6M1333.8 2365.6H1621.6M1333.8 2395.7H1621.6M1333.8 2425.9H1621.6" stroke="#ebebeb" stroke-width="1" fill="none"/>
<circle cx="1608.6" cy="1973.5" r="10.71" fill="#a3d76a"/>
<circle cx="1571.2" cy="2003.7" r="10.4" fill="#a3d76a"/>
<circle cx="1533.9" cy="2033.8" r="9.06" fill="#c7c865"/>
<circle cx="1533.9" cy="2064" r="9.27" fill="#a3d76a"/>
<circle cx="1496.5" cy="2094.1" r="8.24" fill="#fbab60"/>
<circle cx="1496.5" cy="2124.3" r="8.24" fill="#ebb55e"/>
<circle cx="1496.5" cy="2154.5" r="8.45" fill="#a3d76a"/>
<circle cx="1496.5" cy="2184.6" r="8.24" fill="#a3d76a"/>
<circle cx="1459.2" cy="2214.8" r="7.93" fill="#c9c764"/>
<circle cx="1459.2" cy="2244.9" r="7.62" fill="#a3d76a"/>
<circle cx="1459.2" cy="2275.1" r="7.62" fill="#a3d76a"/>
<circle cx="1421.8" cy="2305.3" r="6.18" fill="#c9c764"/>
<circle cx="1384.5" cy="2335.4" r="4.74" fill="#fca05b"/>
<circle cx="1384.5" cy="2365.6" r="4.74" fill="#fca05b"/>
<circle cx="1384.5" cy="2395.7" r="3.91" fill="#b5cf66"/>
<circle cx="1347.2" cy="2425.9" r="2.37" fill="#e3b55a"/>
<rect x="1333.8" y="1955.7" width="287.8" height="488" fill="none" stroke="#e4e4e4" stroke-width="1"/>
<path d="M1333.8 1973.5h-3.2M1333.8 2003.7h-3.2M1333.8 2033.8h-3.2M1333.8 2064h-3.2M1333.8 2094.1h-3.2M1333.8 2124.3h-3.2M1333.8 2154.5h-3.2M1333.8 2184.6h-3.2M1333.8 2214.8h-3.2M1333.8 2244.9h-3.2M1333.8 2275.1h-3.2M1333.8 2305.3h-3.2M1333.8 2335.4h-3.2M1333.8 2365.6h-3.2M1333.8 2395.7h-3.2M1333.8 2425.9h-3.2" stroke="#d9d9d9" stroke-width="1" fill="none"/>
<text x="1327.3" y="1981.8" font-size="21.45" text-anchor="end" fill="#4d4d4d">Cytokine−cytokine receptor interaction</text>
<text x="1327.3" y="2011.7" font-size="21.45" text-anchor="end" fill="#4d4d4d">Cell cycle</text>
<text x="1327.3" y="2041.6" font-size="21.45" text-anchor="end" fill="#4d4d4d">Coronavirus disease − COVID−19</text>
<text x="1327.3" y="2071.6" font-size="21.45" text-anchor="end" fill="#4d4d4d">NOD−like receptor signaling pathway</text>
<text x="1327.3" y="2101.5" font-size="21.45" text-anchor="end" fill="#4d4d4d">Chemokine signaling pathway</text>
<text x="1327.3" y="2131.4" font-size="21.45" text-anchor="end" fill="#4d4d4d">Epstein−Barr virus infection</text>
<text x="1327.3" y="2161.3" font-size="21.45" text-anchor="end" fill="#4d4d4d">Influenza A</text>
<text x="1327.3" y="2191.2" font-size="21.45" text-anchor="end" fill="#4d4d4d">Measles</text>
<text x="1327.3" y="2221.2" font-size="21.45" text-anchor="end" fill="#4d4d4d">Hepatitis C</text>
<text x="1327.3" y="2251.1" font-size="21.45" text-anchor="end" fill="#4d4d4d">Viral protein interaction with cytokine and cytokine receptor</text>
<text x="1327.3" y="2281" font-size="21.45" text-anchor="end" fill="#4d4d4d">IL−17 signaling pathway</text>
<text x="1327.3" y="2310.9" font-size="21.45" text-anchor="end" fill="#4d4d4d">Nucleotide metabolism</text>
<text x="1327.3" y="2340.8" font-size="21.45" text-anchor="end" fill="#4d4d4d">Ether lipid metabolism</text>
<text x="1327.3" y="2370.8" font-size="21.45" text-anchor="end" fill="#4d4d4d">Arginine and proline metabolism</text>
<text x="1327.3" y="2400.7" font-size="21.45" text-anchor="end" fill="#4d4d4d">Linoleic acid metabolism</text>
<text x="1327.3" y="2430.6" font-size="21.45" text-anchor="end" fill="#4d4d4d">alpha−Linolenic acid metabolism</text>
<path d="M1384.5 2443.7v3.2M1459.2 2443.7v3.2M1533.9 2443.7v3.2M1608.6 2443.7v3.2" stroke="#d9d9d9" stroke-width="1" fill="none"/>
<text x="1390.5" y="2462.9" font-size="22" text-anchor="middle" fill="#4d4d4d">0.02</text>
<text x="1465.4" y="2462.9" font-size="22" text-anchor="middle" fill="#4d4d4d">0.04</text>
<text x="1539.9" y="2462.9" font-size="22" text-anchor="middle" fill="#4d4d4d">0.06</text>
<text x="1612.4" y="2462.9" font-size="22" text-anchor="middle" fill="#4d4d4d">0.08</text>
<text x="1507.2" y="2497" font-size="24.2" text-anchor="middle">GeneRatio</text>
<text x="1334.6" y="1942.7" font-size="30.5">KEGG enrichment analysis</text>
<text x="1640.8" y="1996.6" font-size="24">p.adjust</text>
<defs><linearGradient id="gg" x1="0" y1="0" x2="0" y2="1"><stop offset="0" stop-color="#fbab60"/><stop offset="0.5" stop-color="#d3c162"/><stop offset="1" stop-color="#a3d76a"/></linearGradient></defs>
<rect x="1640.3" y="2029" width="26.6" height="157.8" fill="url(#gg)"/>
<path d="M1640.3 2068.8h5.3M1666.9 2068.8h-5.3" stroke="#fff" stroke-width="0.8" stroke-opacity="0.8" fill="none"/>
<text x="1671" y="2076.2" font-size="21">0.03</text>
<path d="M1640.3 2108h5.3M1666.9 2108h-5.3" stroke="#fff" stroke-width="0.8" stroke-opacity="0.8" fill="none"/>
<text x="1671" y="2115.4" font-size="21">0.02</text>
<path d="M1640.3 2147h5.3M1666.9 2147h-5.3" stroke="#fff" stroke-width="0.8" stroke-opacity="0.8" fill="none"/>
<text x="1671" y="2154.4" font-size="21">0.01</text>
<text x="1640.8" y="2244.5" font-size="24">Count</text>
<circle cx="1650.5" cy="2285.6" r="4.9" fill="none" stroke="#000" stroke-width="1.2"/>
<text x="1665.6" y="2293" font-size="22.5">10</text>
<circle cx="1650.5" cy="2309.2" r="6.3" fill="none" stroke="#000" stroke-width="1.2"/>
<text x="1665.6" y="2316.6" font-size="22.5">15</text>
<circle cx="1650.5" cy="2332.8" r="7.1" fill="none" stroke="#000" stroke-width="1.2"/>
<text x="1665.6" y="2340.2" font-size="22.5">20</text>
<circle cx="1650.5" cy="2356.4" r="7.9" fill="none" stroke="#000" stroke-width="1.2"/>
<text x="1665.6" y="2363.8" font-size="22.5">25</text>
<circle cx="1650.5" cy="2380" r="8.7" fill="none" stroke="#000" stroke-width="1.2"/>
<text x="1665.6" y="2387.4" font-size="22.5">30</text>
<text x="891.8" y="1915.2" font-size="50.8" fill="#231815">G</text>
</svg>
</body></html>
